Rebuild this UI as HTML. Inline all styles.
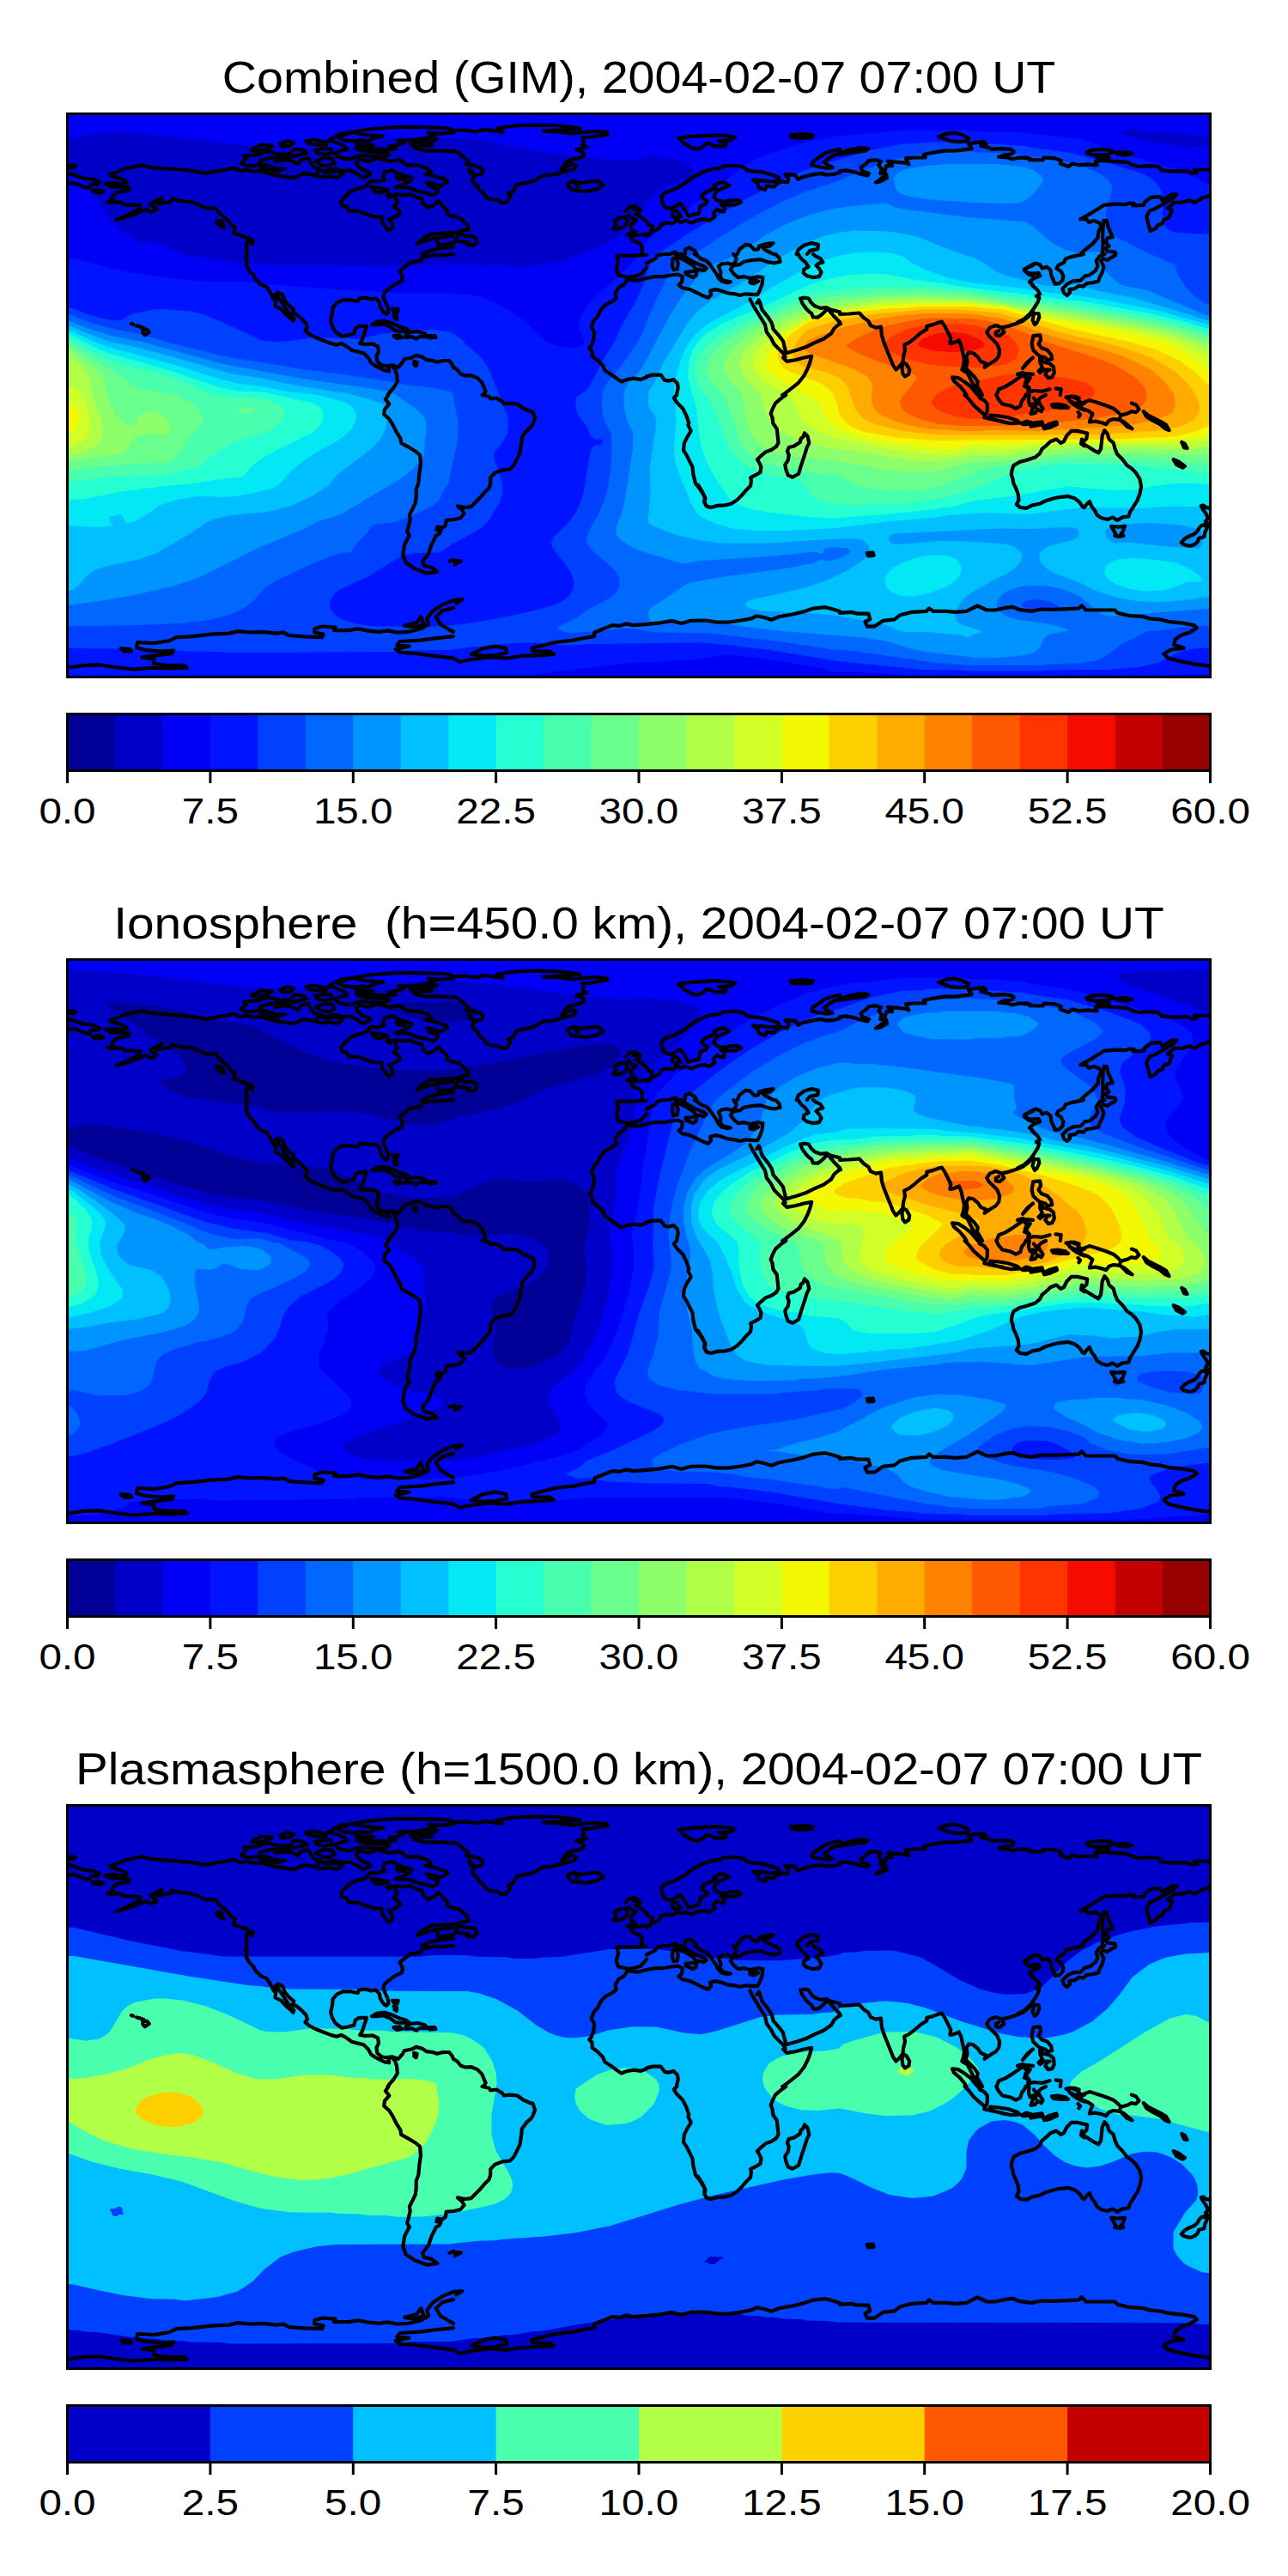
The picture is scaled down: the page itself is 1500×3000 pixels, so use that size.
<!DOCTYPE html>
<html><head><meta charset="utf-8"><title>TEC maps</title><style>html,body{margin:0;padding:0;background:#fff}svg{display:block}text{font-family:"Liberation Sans",sans-serif;fill:#000}</style></head>
<body>
<svg width="1500" height="3000" viewBox="0 0 1500 3000">
<rect width="1500" height="3000" fill="#fff"/>
<g transform="translate(0,0)">
<text x="258.8" y="107.5" font-size="50.9" textLength="970.5" lengthAdjust="spacingAndGlyphs">Combined (GIM), 2004-02-07 07:00 UT</text>
<svg x="78.5" y="132.5" width="1331.0" height="656.0" viewBox="78.5 132.5 1331.0 656.0" overflow="hidden">
<rect x="76.5" y="130.5" width="1335.0" height="660.0" fill="#000096"/>
<path fill="#0000c8" fill-rule="evenodd" d="M74.5,128.5 1414.5,128.5 1414.5,792.5 74.5,792.5Z"/>
<path fill="#0000f6" fill-rule="evenodd" d="M74.5,128.5 1414.5,128.5 1414.5,792.5 74.5,792.5 74.5,199.2 80.5,199.4 86.5,201.5 98.0,210.5 108.9,224.5 126.9,254.5 134.5,262.9 144.0,270.5 162.5,281.9 168.5,283.2 176.3,280.5 178.5,280.7 214.5,296.8 228.5,298.0 261.0,304.5 312.5,308.8 486.5,309.6 504.5,307.9 540.5,307.6 554.5,309.1 588.5,308.8 600.5,310.2 622.5,309.2 630.5,307.3 651.5,304.5 682.3,294.5 706.5,283.6 720.5,274.6 732.5,263.8 742.5,252.5 758.5,230.4 764.5,224.0 776.5,216.9 802.5,208.0 806.3,204.5 808.0,198.5 804.8,192.5 798.5,188.8 782.5,185.0 764.5,182.4 756.5,182.8 738.5,187.4 710.5,186.1 638.5,177.7 608.5,172.9 562.5,163.8 534.5,160.6 458.5,161.1 438.5,163.7 412.5,169.6 386.5,172.9 376.5,173.3 288.5,169.5 172.5,156.2 132.5,153.7 110.5,155.2 84.5,161.4 74.5,162.0ZM1318.5,150.5 1308.9,152.5 1308.2,154.5 1310.1,156.5 1316.5,159.6 1324.5,160.6 1328.5,162.7 1344.5,166.3 1378.5,170.4 1396.5,171.1 1404.5,169.7 1409.2,166.5 1410.4,164.5 1407.1,160.5 1400.5,157.7 1372.5,155.2 1340.5,153.7 1328.5,154.2 1326.5,153.6 1324.0,150.5Z"/>
<path fill="#0014ff" fill-rule="evenodd" d="M1043.2,152.5 1052.5,151.8 1118.5,151.8 1136.5,153.1 1164.5,153.3 1192.5,154.6 1254.5,161.6 1268.5,165.0 1298.5,176.2 1370.5,197.5 1402.5,212.3 1408.5,213.7 1414.5,213.9 1414.5,784.3 1368.5,785.4 1361.9,788.5 1361.9,792.5 1358.1,792.5 1358.1,788.5 1356.5,787.4 1350.5,786.3 1346.2,786.5 1341.2,788.5 1341.2,792.5 1055.5,792.5 1055.5,788.5 1053.9,786.5 1050.5,785.4 990.5,782.6 972.5,782.9 962.5,779.4 952.5,777.3 906.5,769.5 860.5,763.6 842.5,763.1 810.5,768.1 730.5,772.6 643.8,782.5 629.6,784.5 622.4,786.5 620.4,788.5 620.4,792.5 74.5,792.5 74.5,300.5 88.5,301.4 134.5,313.7 154.5,318.0 212.5,325.8 238.5,327.4 282.5,327.7 350.5,334.3 462.5,341.0 530.5,341.9 546.5,343.1 558.5,345.5 567.5,348.5 578.5,353.1 592.0,360.5 611.9,374.5 629.4,392.5 641.5,400.5 658.5,405.0 672.5,404.5 678.5,402.5 680.6,400.5 680.2,396.5 674.1,382.5 674.7,372.5 679.4,362.5 688.7,350.5 733.8,308.5 742.5,298.0 750.3,284.5 759.6,274.5 784.5,255.0 824.3,226.5 864.5,194.8 878.5,186.5 894.5,179.3 916.5,171.9 942.7,164.5 976.5,158.4Z"/>
<path fill="#0040ff" fill-rule="evenodd" d="M1077.1,166.5 1084.5,165.6 1122.5,165.6 1134.5,167.2 1160.5,167.4 1172.5,169.1 1192.5,169.7 1206.5,172.7 1244.5,177.6 1292.5,190.2 1324.5,200.2 1332.5,203.3 1341.2,208.5 1346.1,212.5 1350.4,218.5 1352.8,224.5 1353.9,230.5 1353.9,248.5 1354.8,256.5 1356.8,262.5 1359.5,266.5 1364.5,269.6 1368.5,270.8 1414.5,273.1 1414.5,754.4 1394.5,755.1 1380.5,757.3 1370.5,760.6 1350.5,771.6 1326.5,777.1 1290.5,780.0 1228.5,780.2 1206.5,781.5 1130.5,781.4 1116.5,780.2 1072.5,779.9 972.5,769.6 896.5,757.0 848.5,751.2 816.5,748.3 690.5,750.0 660.5,751.5 624.5,748.6 606.5,748.7 588.5,749.7 564.5,752.9 550.5,753.3 524.5,756.9 476.5,757.3 462.5,759.0 268.5,760.3 256.5,758.9 220.5,758.7 210.5,757.4 190.5,757.3 160.5,755.4 74.5,755.0 74.5,357.5 82.5,358.3 103.8,366.5 118.0,370.5 128.5,372.8 136.5,373.3 142.1,372.5 148.5,368.3 156.5,364.8 180.5,360.6 192.5,360.1 222.5,362.5 237.1,366.5 258.5,374.9 304.5,396.5 322.5,398.2 336.5,397.3 366.5,392.8 376.5,393.8 404.5,393.7 412.5,394.9 420.5,394.7 446.5,388.2 492.5,384.5 506.5,384.3 516.5,385.3 526.5,387.8 532.5,390.9 538.5,396.1 542.5,401.1 558.5,414.5 564.9,422.5 570.7,432.5 591.0,484.5 592.2,496.5 590.2,506.5 585.9,514.5 577.0,524.5 574.9,528.5 576.1,536.5 583.3,556.5 585.1,564.5 585.0,574.5 582.2,584.5 568.5,606.9 562.5,613.0 554.5,618.8 526.5,633.4 512.5,643.2 480.5,644.5 470.9,646.5 464.5,649.2 430.7,670.5 394.5,687.2 390.4,690.5 386.0,696.5 384.2,702.5 384.5,706.5 385.8,710.5 388.5,714.5 393.1,718.5 398.5,721.5 412.5,726.0 424.5,728.3 436.5,729.3 494.5,730.0 526.5,728.3 558.5,723.9 594.5,717.3 626.5,710.1 648.5,703.3 654.5,700.4 660.5,696.0 664.5,691.5 667.1,686.5 668.4,678.5 666.7,670.5 660.5,660.1 643.8,638.5 642.0,634.5 642.2,630.5 644.5,626.1 664.5,605.7 670.5,597.1 676.2,584.5 679.5,574.5 686.2,532.5 688.3,524.5 690.5,520.4 692.5,518.6 700.5,517.7 702.4,514.5 700.5,511.6 692.5,511.5 690.5,510.4 687.3,506.5 682.5,494.8 675.3,486.5 671.4,478.5 670.3,472.5 670.9,464.5 672.5,461.6 682.5,454.5 686.5,449.7 704.5,415.5 716.5,396.4 723.1,380.5 738.5,354.5 745.5,340.5 751.6,324.5 758.4,302.5 760.5,299.4 796.5,275.2 866.5,232.9 900.5,214.9 932.1,200.5 952.5,193.1 1012.5,175.2 1050.5,167.7Z"/>
<path fill="#0068ff" fill-rule="evenodd" d="M1119.7,176.5 1128.5,176.0 1138.5,177.5 1162.5,177.8 1172.5,179.3 1184.5,179.7 1236.5,187.5 1256.5,191.9 1280.5,201.8 1291.6,210.5 1295.0,216.5 1294.9,222.5 1289.1,240.5 1287.7,250.5 1290.4,262.5 1296.4,272.5 1303.5,278.5 1313.3,282.5 1332.4,292.5 1368.5,308.4 1369.5,314.5 1373.2,322.5 1381.3,334.5 1388.3,342.5 1395.5,348.5 1402.5,352.4 1408.5,354.3 1414.5,354.5 1414.5,729.1 1384.5,729.6 1348.8,734.5 1336.5,735.2 1305.7,750.5 1286.8,764.5 1276.5,769.2 1256.5,772.8 1224.5,773.1 1214.5,774.7 1206.5,774.9 1132.5,774.9 1086.5,771.4 996.5,758.5 968.5,756.3 898.5,745.9 824.5,737.3 764.5,736.4 738.5,732.4 724.5,731.8 692.5,736.2 682.5,735.7 666.5,737.3 658.5,736.3 650.5,733.5 649.7,732.5 650.0,730.5 652.5,728.6 670.5,720.3 680.8,712.5 710.5,696.1 717.0,690.5 721.4,682.5 721.6,674.5 718.0,666.5 712.5,660.4 691.0,642.5 686.0,636.5 682.9,630.5 682.8,628.5 685.9,618.5 697.3,598.5 703.8,582.5 707.8,568.5 710.9,548.5 712.2,530.5 712.3,510.5 711.6,504.5 705.2,492.5 702.0,482.5 700.7,470.5 701.6,458.5 703.5,452.5 708.2,444.5 729.1,418.5 742.5,398.6 748.9,386.5 753.7,372.5 774.1,328.5 781.7,314.5 788.5,305.3 792.3,302.5 808.5,295.7 834.5,278.4 880.5,250.7 904.5,237.9 934.5,224.3 976.5,210.4 1000.5,199.9 1028.5,189.6 1058.5,181.6 1088.5,177.6ZM1202.5,698.4 1194.5,699.8 1190.3,702.5 1190.0,704.5 1191.6,706.5 1199.2,710.5 1206.5,711.4 1224.5,711.3 1230.1,710.5 1233.9,708.5 1233.1,706.5 1230.7,704.5 1222.2,700.5 1213.3,698.5ZM74.5,368.5 74.5,366.5 82.5,367.1 100.5,374.1 126.5,382.0 160.5,388.6 204.5,401.1 266.5,415.9 352.5,430.1 412.5,437.8 477.3,448.5 504.5,451.7 524.5,456.0 528.1,458.5 528.5,460.0 528.3,466.5 533.1,488.5 534.0,502.5 532.2,518.5 525.7,544.5 522.9,562.5 518.1,568.5 511.4,582.5 504.5,588.5 490.5,595.5 460.5,608.1 434.5,611.0 428.5,619.2 416.1,632.5 408.5,643.2 396.5,644.6 388.5,646.5 370.5,653.7 326.5,673.4 308.7,684.5 296.1,698.5 288.5,705.2 280.0,710.5 268.5,715.5 244.5,721.8 212.5,725.9 154.5,728.3 74.5,729.4Z"/>
<path fill="#0094ff" fill-rule="evenodd" d="M1087.9,192.5 1102.5,190.8 1152.5,190.7 1180.5,192.8 1194.5,195.1 1203.5,198.5 1212.5,203.9 1214.9,208.5 1212.5,214.9 1202.5,226.8 1194.5,233.2 1184.5,236.7 1174.5,237.3 1130.5,235.8 1082.5,232.6 1062.5,229.5 1048.5,225.6 1043.5,220.5 1040.6,208.5 1042.0,204.5 1043.9,202.5 1052.5,197.5 1078.5,192.9ZM1007.8,238.5 1030.5,236.7 1034.5,237.7 1042.5,241.7 1058.5,244.3 1124.5,252.7 1194.5,258.5 1202.5,262.9 1222.5,281.1 1238.5,290.0 1254.5,294.4 1276.5,292.6 1280.5,294.1 1282.7,298.5 1284.3,308.5 1287.1,314.5 1293.6,322.5 1304.5,331.3 1312.5,333.8 1336.5,338.3 1403.4,366.5 1408.5,367.9 1414.5,367.8 1414.5,708.5 1302.5,717.1 1290.5,717.2 1284.5,715.8 1280.5,713.7 1257.7,694.5 1240.5,687.1 1228.5,684.0 1216.5,682.1 1196.5,682.0 1186.5,683.5 1172.9,688.5 1167.2,692.5 1163.6,696.5 1161.4,700.5 1160.7,706.5 1162.2,710.5 1164.5,713.1 1172.5,717.9 1182.5,721.0 1220.5,726.5 1236.5,730.7 1244.6,734.5 1226.5,737.8 1219.2,740.5 1216.5,743.1 1210.8,754.5 1206.5,758.5 1202.5,760.6 1192.5,763.3 1162.5,766.1 1136.5,766.0 1078.5,759.2 1060.5,755.4 1032.5,746.8 1004.8,742.5 910.5,734.9 868.5,730.0 832.5,724.3 768.5,724.9 759.5,724.5 756.7,722.5 755.0,716.5 754.9,712.5 758.5,707.2 781.7,692.5 796.5,682.0 802.5,678.9 838.5,672.2 918.5,661.5 948.5,655.3 956.5,650.9 962.5,653.6 970.5,652.6 982.3,648.5 988.7,644.5 990.1,642.5 990.0,640.5 986.8,638.5 968.5,637.2 960.5,639.5 956.5,645.6 950.5,643.1 942.5,642.9 890.5,648.5 814.5,653.0 798.5,656.2 794.5,656.2 752.5,643.8 738.5,638.5 731.2,634.5 723.0,628.5 719.0,624.5 717.5,620.5 718.3,612.5 724.4,596.5 727.0,586.5 737.1,522.5 737.2,502.5 731.1,492.5 727.2,476.5 726.2,462.5 727.4,454.5 732.2,444.5 742.5,435.3 748.5,426.8 779.5,368.5 798.7,338.5 810.5,324.5 824.2,310.5 830.5,307.4 842.5,303.6 856.5,296.8 892.5,273.4 912.5,262.6 934.5,253.2 956.5,246.3 976.5,242.1ZM74.5,374.5 74.5,373.7 82.5,374.4 108.5,384.4 130.5,391.3 164.5,397.7 262.5,424.4 352.5,440.9 422.5,450.9 450.5,455.7 458.5,457.9 486.5,477.6 491.3,482.5 495.1,488.5 496.5,493.2 496.7,502.5 494.5,516.5 493.6,530.5 488.1,538.5 480.8,546.5 468.5,556.5 398.5,598.0 386.5,602.8 370.5,607.0 352.5,616.5 302.5,637.2 230.5,673.1 200.5,683.1 158.5,692.5 124.5,698.7 84.5,704.2 74.5,704.7Z"/>
<path fill="#00c0ff" fill-rule="evenodd" d="M995.9,268.5 1032.5,269.2 1060.5,273.6 1072.5,277.3 1096.5,287.2 1136.5,301.3 1146.5,306.4 1160.6,316.5 1172.5,321.0 1216.6,332.5 1224.5,332.8 1242.5,330.7 1254.5,332.0 1282.5,339.4 1318.5,346.4 1368.5,361.0 1403.3,372.5 1414.5,373.9 1414.5,695.0 1404.5,695.3 1382.5,698.5 1360.5,700.4 1344.5,701.0 1324.5,700.1 1300.5,695.8 1282.5,690.3 1274.5,687.2 1258.5,679.0 1226.2,666.5 1219.3,662.5 1213.2,656.5 1210.2,650.5 1211.0,644.5 1216.5,638.6 1222.5,635.4 1246.5,629.6 1253.9,626.5 1256.6,622.5 1256.1,618.5 1254.5,616.3 1250.5,614.5 1240.5,613.8 1202.5,616.0 1162.5,615.5 1042.5,621.4 1038.3,622.5 1035.1,626.5 1035.7,630.5 1040.5,633.5 1050.5,633.7 1094.5,630.1 1124.5,630.6 1166.5,633.1 1175.3,634.5 1182.5,637.3 1188.5,642.5 1190.4,646.5 1190.2,650.5 1188.4,654.5 1181.1,662.5 1172.5,668.1 1154.5,677.0 1130.4,690.5 1121.0,698.5 1115.4,706.5 1112.6,716.5 1113.0,720.5 1115.2,724.5 1120.5,727.8 1142.1,734.5 1142.7,736.5 1132.5,739.3 1126.5,743.0 1120.5,739.8 1116.5,739.2 1082.5,736.3 1052.5,735.8 1046.4,734.5 1036.5,729.7 1028.5,727.0 974.5,717.3 962.5,715.6 928.5,713.2 886.5,711.4 873.4,708.5 869.5,706.5 868.1,704.5 868.4,702.5 870.3,700.5 874.5,698.4 914.5,690.1 938.5,684.1 964.5,674.9 984.5,665.6 1002.1,654.5 1008.5,648.6 1011.4,644.5 1012.8,640.5 1012.4,636.5 1009.7,632.5 1004.5,629.3 998.5,627.6 988.5,627.2 964.5,628.0 894.5,632.7 838.5,632.5 814.5,629.2 793.4,624.5 775.1,618.5 756.5,610.2 754.7,606.5 757.6,574.5 756.6,544.5 763.4,500.5 764.1,490.5 762.5,483.1 758.0,478.5 755.9,474.5 754.6,466.5 755.2,458.5 756.5,454.0 760.5,448.4 772.7,422.5 800.5,376.4 812.5,362.5 826.5,351.1 868.5,326.2 904.5,302.2 921.0,292.5 942.5,281.4 958.5,275.2 976.5,270.8ZM1308.5,610.2 1292.5,613.9 1288.5,616.5 1287.4,618.5 1287.7,622.5 1289.7,626.5 1293.8,630.5 1298.5,632.5 1314.5,631.4 1358.5,636.4 1392.5,638.8 1395.6,638.5 1398.2,636.5 1400.9,630.5 1401.0,624.5 1398.5,617.8 1396.9,616.5 1382.5,612.8 1365.3,610.5 1336.5,608.9ZM74.5,380.5 74.5,379.4 82.5,380.1 96.8,386.5 128.5,398.1 154.5,403.4 184.5,411.1 268.5,434.9 306.5,440.8 333.0,446.5 390.5,456.3 402.5,457.6 430.5,465.0 445.2,470.5 448.8,472.5 450.4,474.5 450.6,490.5 448.6,500.5 442.5,512.1 432.5,522.9 395.8,550.5 389.7,556.5 382.0,566.5 360.5,579.3 338.5,588.9 318.5,594.6 306.5,597.0 288.5,597.9 264.5,600.9 248.5,604.8 241.0,608.5 218.5,623.2 181.4,644.5 160.5,652.1 126.5,658.7 113.5,662.5 102.5,669.2 92.8,680.5 86.5,685.8 80.5,688.0 74.5,687.9Z"/>
<path fill="#02e8f4" fill-rule="evenodd" d="M995.8,294.5 1018.5,293.2 1040.5,295.3 1052.5,299.3 1062.5,306.5 1080.5,315.0 1107.1,324.5 1130.5,329.2 1190.5,335.8 1214.5,340.1 1254.5,344.2 1290.5,349.9 1348.5,361.4 1406.5,378.1 1414.5,378.7 1414.5,590.4 1360.5,589.7 1326.5,592.1 1262.5,590.8 1200.5,598.4 1184.5,598.6 1152.5,597.2 1136.5,597.7 1106.5,599.7 1084.5,603.1 1032.5,607.6 972.5,615.0 918.5,617.9 880.5,617.9 856.5,615.9 835.1,610.5 821.4,604.5 814.8,600.5 810.8,596.5 805.1,586.5 792.5,556.4 787.7,542.5 785.2,528.5 785.2,514.5 787.7,488.5 784.9,456.5 785.2,448.5 792.9,418.5 800.1,402.5 810.7,388.5 820.5,379.9 830.5,373.6 872.5,352.0 898.5,335.0 945.8,308.5 968.5,300.1 980.5,296.9ZM74.5,386.5 74.5,384.6 82.5,385.4 114.5,400.1 126.5,404.3 208.5,426.3 240.5,436.8 264.5,443.6 274.5,445.9 308.5,450.7 336.5,456.3 360.5,458.4 376.5,461.5 398.5,467.8 406.5,471.1 412.5,476.5 414.6,482.5 414.1,490.5 410.2,498.5 402.5,506.7 392.5,513.4 365.6,528.5 353.6,536.5 338.5,548.9 325.0,564.5 318.5,568.3 294.3,574.5 274.5,578.1 258.5,578.9 230.5,577.7 204.1,582.5 186.5,588.2 164.5,603.3 156.5,607.1 146.5,610.2 146.4,608.5 144.3,606.5 144.1,602.5 140.5,599.2 136.5,599.2 134.5,601.1 128.5,601.2 127.1,602.5 127.0,604.5 128.9,606.5 128.8,608.5 132.5,612.5 133.7,612.5 112.5,613.8 74.5,612.3ZM1084.5,646.5 1092.5,646.2 1104.5,647.5 1112.1,650.5 1116.5,654.5 1119.4,660.5 1119.3,666.5 1116.2,672.5 1109.7,678.5 1100.5,683.9 1086.5,689.3 1074.5,692.7 1062.5,694.4 1052.5,694.3 1044.5,692.6 1038.5,689.6 1033.0,684.5 1030.4,678.5 1030.8,672.5 1034.5,666.6 1040.5,661.3 1048.5,656.5 1062.5,650.9 1072.5,648.1ZM1311.6,650.5 1322.5,649.9 1334.5,650.7 1368.5,655.0 1381.6,660.5 1391.9,666.5 1398.5,672.0 1399.9,676.5 1396.5,677.4 1382.5,677.6 1362.5,685.8 1352.5,687.8 1332.5,688.6 1312.5,685.2 1300.5,680.8 1292.8,676.5 1288.6,672.5 1286.0,666.5 1287.1,660.5 1292.5,654.9 1300.5,651.8Z"/>
<path fill="#26ffd1" fill-rule="evenodd" d="M986.4,320.5 1010.5,318.7 1032.5,319.5 1068.5,326.2 1094.5,329.4 1124.5,334.5 1264.5,351.4 1338.5,364.7 1382.5,375.2 1406.5,382.8 1414.5,383.5 1414.5,564.8 1390.5,563.1 1368.5,562.9 1344.5,566.1 1324.5,570.1 1298.5,571.2 1244.5,566.6 1184.5,577.1 1138.5,582.9 1124.5,585.7 1114.5,588.9 1084.5,593.6 1034.5,598.8 974.5,603.5 945.7,602.5 894.5,596.5 872.5,592.4 856.5,586.1 848.5,579.4 832.5,556.0 823.4,538.5 816.8,520.5 814.1,506.5 811.1,476.5 808.8,466.5 805.1,456.5 801.1,438.5 802.4,420.5 806.5,408.0 810.5,401.5 822.5,388.1 840.5,377.3 898.0,352.5 942.5,331.7 962.5,325.6ZM74.5,390.5 74.5,389.2 82.5,390.0 116.5,407.6 132.5,412.9 200.5,432.2 254.5,450.7 276.5,455.5 306.5,456.5 364.5,469.4 371.1,472.5 374.8,476.5 376.7,482.5 375.5,490.5 370.1,498.5 362.5,504.5 321.6,524.5 300.8,536.5 292.5,543.5 284.5,553.5 280.5,555.6 252.5,558.5 220.5,563.8 196.5,565.4 141.7,572.5 96.5,581.6 74.5,582.4Z"/>
<path fill="#49ffad" fill-rule="evenodd" d="M1020.8,334.5 1070.5,334.2 1088.5,334.9 1098.5,336.8 1128.5,338.8 1168.5,344.7 1178.5,345.3 1254.5,355.4 1334.5,368.6 1380.5,379.1 1408.5,388.1 1414.5,388.3 1414.5,549.4 1392.5,550.1 1376.5,547.2 1360.5,546.6 1324.5,542.0 1304.5,540.9 1286.5,541.6 1230.5,540.4 1204.5,544.1 1185.4,548.5 1148.5,564.0 1118.5,574.9 1096.5,580.1 1054.5,586.1 986.5,588.4 966.5,586.5 954.5,583.0 948.5,580.2 944.5,577.2 940.8,572.5 937.1,564.5 934.5,562.2 924.5,559.0 890.5,551.9 872.5,544.9 860.5,536.2 849.8,522.5 844.1,510.5 832.0,476.5 826.1,466.5 816.5,453.4 811.8,444.5 809.4,434.5 810.1,424.5 811.3,418.5 815.8,410.5 825.1,400.5 838.5,390.5 846.5,385.8 870.5,373.7 910.5,355.6 938.5,344.4 952.5,341.0 968.5,338.7 998.5,335.5ZM74.5,394.5 82.5,395.2 106.5,409.6 136.5,422.9 150.5,427.3 178.5,432.7 198.9,438.5 218.5,446.2 232.5,453.3 248.5,459.8 272.5,463.0 284.5,462.2 298.5,463.5 306.5,464.8 317.6,468.5 324.5,471.3 329.3,474.5 331.4,480.5 330.2,486.5 326.5,492.5 318.5,499.1 308.5,503.7 284.0,510.5 269.6,516.5 248.5,529.3 232.5,543.0 229.4,544.5 190.5,553.5 130.5,554.7 98.5,559.1 74.5,561.2Z"/>
<path fill="#6aff8d" fill-rule="evenodd" d="M1039.2,340.5 1074.5,339.7 1132.5,342.9 1166.5,348.5 1222.5,355.5 1322.5,371.1 1368.5,380.7 1406.5,392.1 1414.5,392.8 1414.5,537.9 1388.5,539.4 1360.5,536.7 1336.5,535.9 1328.5,534.5 1296.5,534.7 1280.5,533.2 1248.5,533.0 1228.5,534.5 1192.5,540.0 1162.5,543.1 1144.5,546.8 1134.5,549.7 1105.4,562.5 1090.5,567.4 1072.5,570.0 1046.5,570.7 1014.5,569.5 998.5,566.4 994.5,565.1 984.5,557.9 976.5,554.2 942.5,550.5 928.5,546.4 904.5,542.8 884.5,536.8 871.2,528.5 862.7,516.5 846.2,466.5 841.1,458.5 830.5,447.8 825.6,440.5 823.2,432.5 823.3,426.5 826.2,418.5 831.0,410.5 844.5,398.2 868.9,382.5 906.5,364.7 940.5,351.2 972.5,345.0 994.5,344.2 1022.5,340.9ZM74.5,400.5 80.5,400.3 84.5,402.2 98.5,411.8 146.5,441.5 154.5,448.4 158.5,450.6 168.5,453.5 200.5,459.1 220.5,467.4 227.2,472.5 233.6,480.5 236.7,486.5 236.1,492.5 222.5,505.8 212.2,522.5 204.6,532.5 200.5,536.5 196.5,538.7 164.5,539.3 100.5,544.8 84.5,547.8 74.5,548.2ZM287.8,474.5 290.5,474.5 296.2,476.5 296.9,478.5 294.5,480.6 290.5,481.6 284.5,481.6 279.9,480.5 276.4,478.5 276.5,476.4Z"/>
<path fill="#8dff6a" fill-rule="evenodd" d="M1049.1,344.5 1074.5,344.3 1134.5,346.5 1180.5,354.0 1252.5,364.1 1326.5,376.4 1365.7,384.5 1406.5,397.4 1414.5,398.1 1414.5,528.4 1384.5,530.6 1332.5,527.8 1298.5,528.4 1262.5,526.7 1242.5,527.7 1178.5,535.8 1128.5,538.9 1096.5,547.7 1082.5,549.4 1062.5,549.8 1026.5,546.8 984.5,538.4 916.5,530.0 902.5,527.1 892.5,523.3 883.0,516.5 874.5,505.1 869.2,490.5 864.0,460.5 860.5,455.2 848.7,442.5 843.5,432.5 842.5,426.5 843.7,420.5 854.4,404.5 872.1,390.5 890.5,379.6 916.5,367.3 940.5,358.4 964.5,352.9 982.5,350.3 1022.5,345.7ZM74.5,406.5 80.5,406.6 87.6,410.5 108.3,426.5 118.0,436.5 121.1,442.5 125.6,462.5 129.5,472.5 134.5,482.5 142.5,491.6 148.5,495.5 154.5,496.0 157.8,492.5 159.6,486.5 164.5,482.5 172.5,479.9 181.5,480.5 190.5,484.4 196.3,490.5 198.3,498.5 196.5,503.6 192.5,506.5 170.5,505.7 160.5,506.6 156.5,509.8 147.1,524.5 144.5,527.0 141.2,528.5 94.5,536.0 74.5,537.6Z"/>
<path fill="#b1ff46" fill-rule="evenodd" d="M1057.1,348.5 1070.5,348.0 1128.5,349.3 1170.5,354.7 1190.5,359.0 1262.5,369.8 1332.5,381.8 1362.5,388.4 1404.5,403.0 1414.5,404.2 1414.5,519.7 1406.5,519.9 1396.5,522.2 1384.5,523.1 1252.5,520.6 1212.5,524.7 1174.5,530.2 1128.5,530.7 1116.5,534.8 1082.5,537.6 1064.5,536.3 994.5,525.3 966.5,522.0 942.9,516.5 920.6,508.5 907.0,500.5 896.6,490.5 890.2,478.5 886.7,460.5 870.8,444.5 864.0,434.5 861.3,426.5 861.4,420.5 863.9,414.5 869.5,406.5 878.5,396.8 892.5,386.4 918.5,373.8 940.5,365.4 982.5,355.4 1026.5,349.7ZM74.5,416.5 74.5,415.8 80.5,415.9 86.5,418.7 95.0,426.5 101.9,436.5 105.3,446.5 108.3,462.5 117.1,484.5 119.7,500.5 118.8,510.5 116.5,514.8 112.5,519.2 96.5,526.1 82.5,528.9 74.5,529.0Z"/>
<path fill="#d1ff26" fill-rule="evenodd" d="M1057.1,352.5 1072.5,351.5 1126.5,352.0 1170.5,356.4 1204.1,364.5 1314.5,382.7 1356.5,392.1 1386.5,402.9 1406.5,413.0 1414.5,413.8 1414.5,512.5 1406.5,512.8 1394.5,516.0 1388.5,516.6 1318.5,517.2 1246.5,516.5 1210.5,518.8 1172.5,524.2 1140.5,524.4 1128.5,523.4 1124.5,524.2 1118.5,527.3 1108.5,529.6 1086.5,529.5 1036.5,523.1 1004.5,517.2 970.5,509.6 956.8,504.5 942.9,496.5 936.5,491.4 932.5,485.2 926.0,470.5 919.8,462.5 911.1,456.5 890.5,445.0 882.8,436.5 878.8,430.5 876.7,422.5 877.7,416.5 881.8,408.5 886.9,402.5 901.9,390.5 940.5,369.7 980.5,360.2 1000.5,357.0 1030.5,353.3ZM74.5,452.5 74.5,450.6 86.5,450.8 88.5,451.0 90.5,453.0 101.8,474.5 104.2,490.5 103.9,500.5 101.5,508.5 99.2,512.5 88.5,517.8 80.5,520.0 74.5,520.1Z"/>
<path fill="#f4f802" fill-rule="evenodd" d="M1063.8,354.5 1128.5,354.5 1168.5,357.8 1224.5,371.8 1296.5,384.2 1327.6,390.5 1363.6,400.5 1384.5,412.5 1402.5,427.6 1408.5,430.2 1414.5,430.4 1414.5,505.0 1408.5,505.2 1392.5,509.5 1358.5,513.0 1316.5,514.3 1218.5,514.8 1194.5,515.9 1168.5,518.4 1128.5,517.7 1124.5,518.4 1116.5,522.4 1108.5,523.1 1088.5,522.3 1040.5,516.0 1006.5,509.7 986.5,503.1 976.4,498.5 967.9,492.5 961.2,484.5 956.5,472.4 951.7,466.5 930.5,453.6 908.5,443.5 894.5,432.8 892.4,428.5 891.4,422.5 893.1,414.5 903.5,400.5 918.5,386.4 942.5,371.5 968.5,365.3 992.5,360.9 1030.5,356.3 1054.5,355.7ZM74.5,470.5 78.5,470.0 84.5,471.5 88.5,474.0 90.3,476.5 91.2,482.5 90.6,492.5 88.5,498.7 86.5,501.8 84.5,502.9 78.5,500.6 74.5,500.6Z"/>
<path fill="#ffd000" fill-rule="evenodd" d="M1057.7,358.5 1068.5,357.0 1126.5,357.0 1168.5,360.2 1244.5,382.2 1318.5,398.8 1346.5,407.3 1374.5,420.6 1390.5,432.3 1406.5,447.2 1409.3,448.5 1414.5,448.7 1414.5,495.2 1408.5,495.5 1390.5,503.1 1372.5,507.2 1358.5,509.1 1324.5,509.9 1312.5,511.3 1090.5,513.0 1046.5,510.0 1004.3,502.5 990.9,496.5 982.5,489.5 977.7,482.5 974.2,468.5 969.8,458.5 964.8,452.5 954.5,445.7 918.5,432.2 912.5,428.6 908.5,422.5 906.0,416.5 906.6,408.5 909.5,402.5 921.9,388.5 933.0,380.5 943.4,374.5 968.5,368.4 994.5,363.7 1032.5,359.4Z"/>
<path fill="#ffab00" fill-rule="evenodd" d="M1053.9,362.5 1070.5,360.5 1118.5,360.5 1164.5,364.7 1194.5,373.2 1230.5,385.8 1254.5,392.0 1280.5,397.4 1310.5,405.4 1340.5,416.6 1362.5,428.5 1370.5,434.5 1384.5,448.1 1390.5,456.6 1395.8,466.5 1397.2,474.5 1397.0,478.5 1390.9,488.5 1379.4,494.5 1370.5,497.6 1346.5,501.9 1328.5,502.6 1318.5,504.1 1292.5,504.7 1282.5,506.2 1092.5,506.4 1052.5,502.1 1022.5,495.4 1007.1,488.5 1000.5,482.7 995.9,476.5 987.3,450.5 980.0,442.5 974.5,438.7 960.5,432.9 938.5,427.4 930.5,423.9 926.7,420.5 924.4,416.5 923.1,412.5 923.5,408.5 925.5,402.5 931.9,392.5 938.5,385.8 944.5,382.8 968.5,375.3 998.5,369.0 1024.5,364.9Z"/>
<path fill="#ff8200" fill-rule="evenodd" d="M1062.5,366.5 1074.5,364.9 1116.5,364.9 1138.5,366.7 1168.5,371.2 1226.5,392.1 1278.5,405.2 1308.5,415.1 1336.5,428.0 1343.0,432.5 1356.5,444.4 1366.6,458.5 1369.0,468.5 1368.5,473.9 1364.8,480.5 1362.1,482.5 1344.5,489.5 1322.5,493.7 1304.5,495.9 1292.5,496.5 1282.5,498.1 1264.5,498.5 1254.5,500.0 1222.5,500.4 1210.5,501.9 1152.5,500.8 1138.5,502.1 1120.5,502.1 1110.5,500.8 1090.5,500.3 1070.5,498.0 1044.5,491.3 1028.4,484.5 1022.6,480.5 1018.5,476.2 1016.3,472.5 1015.5,468.5 1015.1,460.5 1016.0,452.5 1015.3,446.5 1010.2,438.5 992.5,429.0 942.5,411.5 937.0,406.5 936.4,402.5 941.4,396.5 944.9,394.5 978.5,382.0 1020.5,371.5 1048.5,367.3Z"/>
<path fill="#ff5900" fill-rule="evenodd" d="M1090.8,370.5 1132.5,371.2 1148.5,373.5 1166.5,377.4 1181.0,382.5 1220.5,399.1 1269.7,414.5 1296.9,424.5 1321.2,438.5 1331.1,448.5 1334.0,452.5 1335.9,460.5 1334.5,466.7 1330.5,472.3 1323.0,476.5 1318.6,478.5 1302.5,482.6 1272.5,487.7 1232.5,492.0 1220.5,492.5 1212.5,494.0 1190.5,494.5 1180.5,495.7 1120.5,496.1 1092.5,493.6 1072.1,488.5 1055.5,480.5 1051.3,476.5 1048.2,470.5 1048.5,466.5 1052.5,459.8 1066.9,442.5 1067.5,440.5 1065.1,436.5 1052.6,430.5 1026.5,422.4 1001.9,412.5 990.4,406.5 985.4,402.5 996.3,394.5 1004.6,390.5 1020.5,383.6 1034.5,379.1 1062.5,372.9 1078.5,370.8Z"/>
<path fill="#ff3400" fill-rule="evenodd" d="M1082.7,378.5 1092.5,377.0 1118.5,377.1 1136.5,379.3 1164.6,386.5 1173.8,390.5 1183.3,398.5 1186.6,406.5 1185.1,414.5 1182.5,418.5 1171.7,424.5 1138.5,428.3 1100.5,426.5 1082.5,424.5 1057.3,418.5 1042.9,412.5 1032.4,406.5 1029.2,402.5 1030.1,400.5 1037.9,392.5 1053.5,384.5 1062.5,381.6ZM1170.4,436.5 1214.7,436.5 1243.8,440.5 1266.6,446.5 1274.6,452.5 1274.9,458.5 1274.1,460.5 1263.7,468.5 1245.6,474.5 1238.5,475.2 1235.7,476.5 1224.5,477.2 1220.8,478.5 1186.5,482.9 1181.5,484.5 1164.5,487.0 1130.5,487.8 1112.5,485.0 1094.2,478.5 1090.5,476.5 1086.7,472.5 1084.6,468.5 1085.2,466.5 1091.7,458.5 1102.5,452.5 1110.5,449.3Z"/>
<path fill="#f60b00" fill-rule="evenodd" d="M1106.3,386.5 1124.2,388.5 1129.8,390.5 1142.7,396.5 1146.5,400.1 1146.4,402.5 1144.5,404.8 1132.5,408.5 1110.5,410.3 1087.2,408.5 1073.7,404.5 1069.7,402.5 1068.2,400.5 1074.3,394.5 1090.8,388.5Z"/>
<g fill="none" stroke="#000" stroke-width="4.2" stroke-linejoin="round" stroke-linecap="round">
<path d="M80.1,192.8 85.0,192.3 88.1,193.5 84.1,195.2 80.1,194.9M80.1,201.9 88.5,204.5 97.2,207.5 107.7,208.5 115.6,212.0 113.8,215.0 106.0,214.5 104.2,219.0 97.2,217.6 90.2,214.1 83.2,212.9 80.1,213.8M107.7,222.0 114.7,221.4 120.8,222.8 116.4,224.6 109.4,223.7 107.7,222.0M303.0,199.3 292.9,199.3 285.9,197.5 280.7,199.3 271.9,195.8 266.7,197.0 252.7,199.3 239.6,201.9 226.5,199.3 209.0,197.5 191.6,196.3 175.8,194.9 165.4,192.3 153.1,194.9 142.6,197.5 135.7,201.0 127.8,202.8 130.4,205.4 138.3,207.1 146.1,210.6 147.9,213.2 140.9,214.1 130.4,213.2 122.5,214.1 130.4,217.6 142.6,217.6 150.5,218.5 149.6,222.0 140.9,222.8 133.9,225.5 130.4,229.8 132.2,233.3 125.2,235.1 130.4,236.5 139.1,235.1 146.1,238.6 154.9,238.6 163.6,239.4 161.9,243.8 154.9,247.3 144.4,252.5 135.7,256.0 147.9,252.5 160.1,248.2 170.6,243.8 175.8,247.3 182.8,243.8 179.3,241.2 175.0,237.7 182.8,233.3 188.9,230.7 184.6,235.1 182.8,237.7 191.6,235.9 198.5,235.1 200.3,231.6 210.8,234.2 221.3,235.1 230.0,237.7 238.7,242.1 251.0,242.4 254.5,247.3 259.7,251.7 265.8,256.9 269.3,262.2 273.7,264.8 271.9,271.8 278.9,273.5 287.6,277.0 294.6,280.5 293.8,284.0 289.4,280.5 286.8,284.0 287.6,296.0M252.7,256.9 258.8,257.8 260.6,264.8 256.2,263.0 252.7,259.5 252.7,256.9M303.0,169.6 294.6,173.1 292.9,174.8 303.0,176.5M303.0,180.0 284.1,181.8 286.8,184.4 280.7,190.5 287.6,193.1 296.4,193.1 303.0,190.5M303.0,199.3 318.7,203.6 329.2,205.4 343.2,207.1 353.7,201.9 364.1,203.6 372.9,206.2 385.1,205.4 392.1,207.1 399.1,202.8 393.8,199.3 379.9,201.0 376.4,199.3 390.4,196.6 400.8,199.3 407.8,198.4 414.8,201.9 423.5,207.1 431.4,202.8 428.8,200.1 421.8,197.5 416.6,193.1 414.8,188.8 419.2,185.3 428.8,187.9 439.3,184.4 448.0,186.2 453.2,187.9 465.5,186.2 474.2,192.3 486.4,192.3 498.7,196.6 502.2,201.0 495.2,202.8 507.4,205.4 519.6,208.9 521.4,211.5 512.6,216.7 505.7,214.1 496.9,212.4 500.4,216.7 510.0,220.2 509.1,224.6 503.9,227.2 495.2,224.6 486.4,222.8 476.0,218.5 460.2,218.5 469.0,215.0 477.7,210.6 479.5,207.1 470.7,204.5 463.7,201.9 456.7,198.4 448.0,200.1 446.3,205.4 448.0,208.9 439.3,211.5 432.3,210.6 425.3,217.6 414.8,220.2 407.8,223.7 400.8,229.8 397.3,235.1 398.2,239.4 403.5,240.3 406.1,245.6 416.6,245.6 425.3,249.1 435.8,252.5 444.5,252.5 445.4,259.5 449.8,265.6 453.2,268.3 457.6,264.8 456.7,260.4 453.2,255.2 460.2,252.5 466.3,248.2 463.7,243.8 458.5,240.3 462.9,235.1 460.2,229.8 460.2,226.3 470.7,227.2 477.7,226.3 484.7,229.8 491.7,231.6 492.6,236.8 498.7,242.1 505.7,238.6 510.9,234.2 516.1,240.3 521.4,245.6 520.5,249.1 528.0,252.5M303.0,168.7 317.0,169.6 310.0,173.9 303.0,174.8M325.7,167.8 334.4,164.3 342.3,166.1 337.9,169.6 329.2,170.4 325.7,167.8M303.0,178.3 313.5,176.5 325.7,180.0 337.9,179.2 343.2,173.1 353.7,174.8 357.2,178.3 346.7,180.9 334.4,183.5 324.0,182.7 313.5,184.4 303.0,187.0M303.0,191.4 313.5,193.1 322.2,196.6 331.8,196.6 324.0,199.3 313.5,198.4 303.0,194.9M320.5,187.9 332.7,186.2 341.4,187.9 346.7,191.4 350.2,186.2 358.9,183.5 362.4,189.7 365.9,194.9 374.6,197.5 369.4,201.0M356.3,164.3 365.9,162.6 378.1,165.2 379.9,168.7 369.4,168.7 358.9,166.9 356.3,164.3M366.8,174.8 376.4,173.1 385.1,173.1 386.9,178.3 378.1,180.0 369.4,178.3 366.8,174.8M367.6,187.9 376.4,184.4 386.9,184.4 389.5,189.7 383.4,193.1 374.6,192.3 367.6,187.9M388.6,160.0 397.3,155.6 411.3,153.8 425.3,151.2 441.0,149.5 460.2,148.1 486.4,148.1 509.1,148.6 522.3,149.5 528.0,152.1M528.0,154.7 512.6,155.6 498.7,154.7 505.7,158.2 495.2,160.8 484.7,162.6 470.7,163.4 463.7,163.4 470.7,166.1 460.2,169.6 453.2,170.4 461.1,173.1 453.2,174.8 442.8,173.9 432.3,173.9 421.8,173.1 414.8,173.1 425.3,176.5 435.8,177.4 448.0,177.8 453.2,180.0 448.0,182.7 437.5,182.7 428.8,181.8 421.8,180.9 414.8,182.7 407.8,185.3 400.8,184.4 393.8,182.7 390.4,178.3 397.3,175.7 404.3,173.9 400.8,169.6 393.8,166.9 386.9,164.3 381.6,164.3 388.6,160.0M409.6,153.8 421.8,156.5 435.8,158.2 446.3,158.6 435.8,160.8 428.8,164.3 421.8,163.4 411.3,164.3 400.8,163.4 393.8,160.0 400.8,157.3 409.6,153.8M414.8,167.8 425.3,168.7 434.9,169.0 425.3,171.3 416.6,170.4 414.8,167.8M477.7,167.8 488.2,166.1 500.4,164.3 509.1,161.7 500.4,166.9 503.0,169.6 493.4,169.6 484.7,171.3 477.7,167.8M482.9,172.5 495.2,175.7 512.6,175.3 528.0,176.5M432.3,217.6 442.8,219.4 451.5,221.1 442.8,224.6 435.8,222.8 432.3,217.6M451.5,225.5 456.7,227.2 454.1,229.8 450.6,227.7 451.5,225.5M462.0,205.4 470.7,206.2 471.6,208.9 463.7,208.9 462.0,205.4M528.0,270.9 512.6,271.8 502.2,272.6 493.4,277.0 485.6,284.0 495.2,280.5 507.4,277.0 517.9,276.1 528.0,274.4M509.1,280.5 510.9,285.7 521.4,284.0 528.0,283.1M528.0,287.5 512.6,289.2 500.4,291.9 491.7,296.0M528.0,175.7 533.2,177.4 538.5,181.8 545.5,187.9 542.8,191.4 550.7,192.3 559.4,194.9 562.9,198.7 560.3,202.8 553.3,204.0 547.2,201.0 546.3,196.6 553.3,204.5 549.8,208.9 551.6,213.2 556.0,216.7 557.7,221.1 562.9,224.6 566.4,229.8 571.7,232.5 578.7,232.5 583.9,235.9 589.1,235.9 591.8,232.5 594.4,228.1 591.8,225.5 597.9,222.8 599.6,218.5 603.1,214.5 611.9,213.2 622.3,210.6 627.6,207.1 632.8,204.5 641.6,204.0 650.3,201.9 659.0,199.3 667.8,197.5 671.3,193.1 666.0,190.5 653.8,197.5 657.3,192.3 660.8,187.9 667.8,185.3 673.9,184.4 680.0,181.8 679.1,177.4 671.3,173.9 676.5,173.1 683.5,171.3 678.2,168.7 680.0,164.3 678.2,160.0 685.2,160.0 695.7,158.2 707.9,156.5 706.2,153.8 694.0,153.0 680.0,153.8 666.0,155.6 650.3,153.3 632.8,152.6 646.8,151.6 660.8,151.2 675.6,149.5 664.3,147.7 646.8,146.0 625.8,145.6 606.6,146.0 590.9,147.7 578.7,149.5 585.7,153.8 575.2,152.6 564.7,150.9 554.2,153.3 542.0,151.6 528.0,152.1M660.8,214.1 667.8,210.6 676.5,213.2 685.2,211.5 696.6,210.6 702.7,215.9 695.7,220.2 683.5,222.8 673.0,222.0 666.0,221.1 662.5,217.6 660.8,214.1M670.4,214.1 673.0,217.6M528.0,251.7 535.0,253.4 540.2,257.8 544.6,262.2 545.5,267.4 538.5,268.3 531.5,270.9 528.0,271.8M536.7,270.0 533.2,275.3 529.7,280.5 538.5,281.4 545.5,282.2 543.7,284.9 550.7,285.7 555.1,283.1 554.2,277.0 549.0,274.4 543.7,275.3 538.5,273.5 536.7,270.0M728.9,245.6 732.4,241.2 737.6,240.0 742.0,241.2 737.6,243.8 745.5,243.8 744.6,247.3 740.3,249.1 746.4,252.5 753.0,257.8M715.8,256.9 721.9,253.4 728.9,252.5 730.7,257.8 727.2,263.9 720.2,266.5 714.1,266.5 717.6,262.2 715.8,256.9M732.4,250.8 735.9,254.3 741.1,256.0 737.6,259.5 734.1,262.2 735.9,267.4 740.3,270.0 732.4,271.8 730.7,273.5 737.6,274.4 746.4,273.5 753.0,272.6M735.0,277.9 737.6,280.5 744.6,283.1 748.1,287.5 747.3,296.0M790.6,160.8 803.7,159.1 817.6,158.2 831.6,157.3 847.3,158.2 856.1,160.0 850.8,163.1 836.9,164.3 845.6,166.9 844.7,170.4 831.6,170.4 828.1,167.8 822.9,166.9 818.5,171.3 812.4,173.9 805.4,172.2 796.7,166.9 790.6,160.8M920.7,157.3 934.7,156.1 946.9,157.3 945.2,160.0 931.2,160.8 921.6,160.0 920.7,157.3M753.0,274.4 756.5,273.5 758.2,270.0 763.5,268.3 767.8,265.6 770.5,261.3 775.7,259.5 782.7,260.4 787.1,257.8 788.8,252.5 793.2,252.5 787.9,245.6 783.6,245.6 782.7,250.8 787.1,254.3 792.3,258.7 798.4,256.9 805.4,259.5 813.3,256.0 821.1,255.2 826.4,256.9 832.5,252.5 830.7,248.2 835.1,243.8 838.6,245.6 843.0,246.4 843.8,241.2 839.5,237.7 845.6,238.6 856.1,238.6 863.1,235.4 859.6,233.0 850.8,233.3 842.1,235.1 835.1,233.3 831.6,229.8 832.5,225.5 836.9,221.1 843.8,218.5 849.1,215.9 843.8,212.4 836.9,213.2 831.6,215.9 833.4,219.4 828.1,221.1 820.3,224.6 816.8,229.0 819.4,231.6 823.8,234.2 822.0,237.7 815.9,239.4 815.0,243.8 813.3,249.1 807.2,249.9 801.9,251.7 799.3,247.3 795.8,241.2 792.3,236.8 787.9,239.4 781.0,242.9 774.0,241.2 771.3,235.1 770.5,228.1 775.7,223.7 786.2,220.2 796.7,214.1 807.2,206.2 817.6,201.0 828.1,197.0 838.6,195.8 843.8,193.1 857.8,192.8 866.6,194.9 870.1,198.4 875.3,199.3 885.8,200.1 896.3,202.8 906.7,206.2 907.6,209.7 899.8,211.5 889.3,210.3 877.0,209.7 882.3,213.2 884.0,218.5 891.0,221.1 892.8,216.7 901.5,217.6 905.0,214.1 910.2,211.5 917.2,212.4 918.1,207.1 914.6,202.8 926.0,203.6 929.5,208.9 934.7,206.2 945.2,203.6 955.7,201.9 962.6,203.6 971.4,202.8 978.0,201.0M978.0,173.9 969.6,175.7 960.9,178.3 953.9,183.5 946.9,187.9 945.2,192.3 952.2,194.0 962.6,195.8 969.6,194.9 962.6,191.4 960.0,188.8 966.1,183.5 973.1,180.0 978.0,178.8M753.0,257.8 755.6,262.2 760.0,263.0 758.2,270.0M797.5,296.0 798.4,290.1 802.8,288.4 808.9,291.9 811.5,296.0M779.2,296.0 786.2,293.6 790.6,296.0M858.7,296.0 861.3,290.1 868.3,284.9 873.5,285.7 878.8,291.0 883.2,290.1 884.0,286.6 892.8,284.0 900.6,283.1 896.3,286.6 887.5,287.5 891.0,291.0 898.0,294.5 900.6,296.0M927.7,296.0 929.5,291.0 936.4,285.7 945.2,283.1 953.0,284.9 952.2,290.1 943.4,291.9 939.9,296.0M978.0,178.3 988.5,174.8 1000.7,172.2 1011.2,173.1 1007.7,175.7 995.5,177.1 985.0,178.8 978.0,180.0M978.0,199.3 985.0,198.4 993.7,200.1 1002.5,202.8 1010.3,204.5 1012.1,201.9 1004.2,199.3 1002.5,194.9 1007.7,191.4 1012.1,187.0 1019.9,186.2 1026.0,187.9 1023.4,192.3 1026.9,196.6 1025.2,201.9 1032.2,202.8 1033.0,207.1 1025.2,211.5 1019.9,212.4 1025.2,208.9 1028.7,205.4 1030.4,200.1 1032.2,193.1 1039.1,193.1 1033.9,187.9 1044.4,188.8 1054.9,189.7 1058.4,191.4 1054.9,184.4 1065.4,183.5 1077.6,183.5 1075.8,180.0 1086.3,177.8 1100.3,175.7 1114.3,175.3 1126.5,173.9 1131.7,173.1 1128.2,167.8 1135.2,166.1 1145.7,165.2 1148.3,167.8 1142.2,169.6 1152.7,172.2 1154.5,173.9 1166.7,173.1 1177.2,173.9 1180.7,176.5 1178.9,179.2 1168.4,180.9 1163.2,182.7 1173.7,183.5 1178.9,185.3 1187.6,183.5 1198.1,184.4 1203.0,186.2M1093.3,159.1 1102.0,155.6 1112.5,154.7 1121.3,157.3 1128.2,160.8 1126.5,164.3 1117.8,165.2 1107.3,164.3 1100.3,161.7 1093.3,159.1M1185.0,183.5 1197.2,183.5 1199.0,186.2 1214.7,186.5 1215.6,183.5 1228.7,184.4 1235.7,187.0 1234.8,190.5 1244.4,194.0 1248.8,190.5 1256.6,192.3 1267.1,191.4 1277.6,192.3 1275.8,187.9 1282.8,187.0 1296.8,187.9 1312.5,188.8 1319.5,192.3 1326.5,194.0 1338.7,193.1 1349.2,194.0 1352.7,198.4 1363.2,199.3 1373.7,199.3 1382.4,199.3 1388.5,201.9 1393.8,201.0 1391.1,197.5 1401.6,197.5 1408.6,198.0M1265.4,177.4 1270.6,174.8 1282.8,173.9 1293.3,174.8 1296.8,177.4 1289.8,180.0 1275.8,180.6 1267.1,179.2 1265.4,177.4M1300.3,177.8 1310.8,177.1 1318.6,178.8 1310.8,180.6 1301.2,179.5 1300.3,177.8M1277.6,183.5 1291.6,183.5M1258.4,255.2 1272.4,247.3 1285.5,238.9 1298.6,237.7 1310.8,238.2 1315.2,236.5 1320.4,236.8 1319.5,239.4 1331.8,238.9 1333.5,235.1 1340.5,229.8 1351.0,229.0 1353.6,233.3 1359.7,229.8 1364.9,226.3 1370.2,226.3 1366.7,230.7 1356.2,236.8 1345.7,242.9 1338.7,245.6 1335.2,252.5 1337.0,259.5 1339.6,269.1 1346.6,265.6 1348.3,262.2 1353.6,260.4 1355.3,256.0 1361.5,253.4 1363.2,249.1 1364.9,244.7 1359.7,242.1 1364.9,238.6 1366.7,235.9 1375.4,235.9 1385.9,233.3 1391.1,235.9 1399.9,230.7 1408.6,228.1M1258.4,255.2 1265.4,255.2 1268.0,258.7 1274.1,256.9 1280.2,259.5 1282.8,263.0 1279.3,270.0 1278.5,277.0 1272.4,284.0 1263.6,291.0 1258.4,296.0M1299.4,296.0 1298.6,293.6 1289.8,292.7 1287.2,289.2 1291.6,286.6 1288.1,282.2 1289.8,277.0 1295.9,276.1 1294.2,272.6 1290.7,264.8 1288.9,256.9 1285.5,256.9 1284.6,264.8 1284.2,275.3 1284.6,284.0 1283.7,296.0M303.0,330.9 310.0,333.6 314.4,339.7 318.7,348.4 321.3,350.2 320.5,343.2 324.0,340.5 329.2,343.2 331.8,350.2 337.1,356.3 342.3,360.6 340.6,365.0 344.9,365.9 351.0,371.1 356.3,376.4 358.0,381.6 355.4,385.1 360.7,389.5 367.6,393.0 376.4,396.5 385.1,399.9 392.1,401.7 397.3,399.9 402.6,402.6 409.6,407.8 416.6,409.6 423.5,411.3 428.8,416.5 432.3,422.7 437.5,426.2 442.8,428.8 448.0,431.4 453.2,432.3 452.4,427.0 456.7,426.2 460.2,430.5 462.0,435.8 462.9,444.5 458.5,451.5 453.2,457.6 451.5,460.0M321.3,350.2 320.5,356.3 327.5,359.8 332.7,365.9 337.9,370.2 341.4,373.7 342.3,371.1 337.9,365.9 332.7,358.9 329.2,353.7 325.7,348.4 323.1,344.0M528.0,296.0 512.6,297.4 505.7,296.9 491.7,299.5 489.9,303.9 477.7,305.6 472.5,310.0 465.5,315.2 469.0,322.2 468.1,327.4 460.2,330.9 453.2,336.2 448.0,340.5 446.3,345.8 448.9,351.9 451.5,357.1 452.4,363.3 449.8,365.9 446.3,363.3 442.8,357.1 441.9,351.9 437.5,347.5 432.3,348.4 425.3,346.7 418.3,347.5 416.6,351.0 407.8,349.3 399.1,349.3 392.1,352.8 387.7,358.0 386.9,365.9 385.1,372.9 386.9,379.9 390.4,386.0 398.2,391.7 406.1,390.3 412.2,388.6 413.9,382.5 418.3,379.9 427.0,379.9 425.3,385.1 423.5,390.3 421.8,395.6 419.2,399.9 425.3,400.8 434.0,400.5 440.1,403.4 441.0,409.6 438.4,414.8 439.3,420.9 444.5,425.3 449.8,426.2 456.7,425.3 463.7,427.9 469.0,421.8 470.7,418.3 479.5,416.5 484.7,413.9 491.7,415.7 496.9,419.2 503.9,420.0 509.1,421.8 516.1,420.0 523.1,420.0 526.6,424.4 528.0,427.9M433.2,378.1 439.3,374.6 448.0,373.7 456.7,376.4 463.7,379.9 472.5,382.5 476.0,385.1 469.0,386.0 460.2,385.1 455.0,380.7 446.3,377.2 439.3,378.1 433.2,378.1M456.7,359.8 463.7,359.8 462.9,363.3 458.5,362.4M458.5,366.8 462.0,367.6 462.0,372.0 459.4,370.2M472.5,390.3 477.7,386.8 486.4,386.0 495.2,388.6 496.9,392.1 488.2,392.1 484.7,394.7 479.5,392.1 472.5,393.0 472.5,390.3M458.5,391.2 465.5,390.3 468.1,393.0 462.0,393.8 458.5,391.2M499.5,391.2 506.5,391.2 507.4,393.0 500.4,393.3 499.5,391.2M482.1,420.9 485.6,421.8 484.7,426.2 482.1,424.4M152.8,377.1 155.2,377.8M159.2,379.5 163.6,380.6 167.4,382.0M166.2,383.4 171.5,384.2 173.7,386.8 168.8,390.3 166.4,387.7 166.2,383.4M287.6,296.0 285.9,300.4 287.6,304.7 286.8,309.1 290.3,315.2 294.6,319.6 298.1,325.7 303.0,330.1M753.0,296.9 737.6,297.7 718.4,297.7 720.2,304.7 717.6,313.5 720.2,320.5 728.9,322.2 732.4,325.7 742.9,326.6 753.0,324.0M730.7,323.1 737.6,322.2 746.4,319.6 753.0,311.7M730.7,324.8 727.2,330.9 720.2,335.3 716.7,341.4 717.6,347.5 711.4,351.9 704.5,355.4 699.2,361.5 696.6,367.6 691.3,373.7 688.7,380.7 692.2,386.8 691.3,395.6 688.7,402.6 686.1,405.2 689.6,408.7 689.6,414.8 695.7,419.2 701.8,425.3 704.5,431.4 711.4,435.8 718.4,441.0 723.7,444.5 730.7,441.9 737.6,440.7 746.4,441.9 753.0,439.3M528.0,427.9 532.4,430.5 536.7,435.8 542.0,437.5 549.0,437.2 556.0,440.1 561.2,445.4 563.8,451.5 565.6,455.9 562.9,460.0M753.0,324.0 761.7,322.2 772.2,322.2 781.0,320.5 789.7,319.6 794.9,322.2 794.1,328.3 790.6,331.8 794.9,335.3 803.7,337.1 810.7,340.5 817.6,344.0 824.6,346.7 828.1,343.2 827.2,338.8 833.4,337.1 840.4,338.8 847.3,341.4 856.1,342.3 861.3,344.0 868.3,342.3 875.3,342.8 882.3,343.2 884.9,337.9 887.5,330.9 888.4,323.1 882.3,322.2 873.5,324.0 866.6,322.2 859.6,323.1 854.3,318.7 850.8,313.5 854.3,309.1 861.3,308.2 866.6,304.7 875.3,303.0 885.8,302.1 892.8,304.7 901.5,306.5 908.5,304.7 907.6,300.4 903.2,296.0M873.5,327.4 878.8,326.0 883.2,327.4 877.9,330.4 873.5,329.2 873.5,327.4M854.3,296.0 857.8,301.2 856.1,305.6 852.6,308.2 847.3,306.5 840.4,307.4 836.9,310.0 839.5,317.0 838.6,322.2 842.1,326.6 850.8,328.3 847.3,329.2 840.4,327.4 836.9,324.0 834.2,318.7 829.9,312.6 826.4,307.4 822.9,303.9 815.9,301.2 810.7,296.9 808.9,296.0M793.2,296.0 798.4,299.5 805.4,303.9 812.4,307.4 819.4,310.0 822.9,312.6 819.4,315.2 814.1,313.5 810.7,316.1M798.4,317.0 805.4,316.1 811.5,315.2 810.7,320.5 807.2,323.1 799.3,319.6 798.4,317.0M810.7,313.5 807.2,309.1 800.2,304.7 793.2,301.2 787.9,297.7 786.2,296.0M783.6,301.2 787.9,300.4 789.7,306.5 788.8,313.5 784.4,314.3 782.7,308.2 783.6,301.2M753.0,306.5 758.2,303.9 763.5,301.2 765.2,297.7 772.2,296.0M873.5,348.4 877.0,355.4 882.3,364.1 886.6,371.1 891.0,378.1 892.8,386.8 898.0,393.8 901.5,400.8 906.7,406.1 912.0,411.3 914.6,415.7 912.0,416.5 916.3,420.9 926.0,419.2 936.4,416.5 945.2,414.8 943.4,421.8 940.8,428.8 936.4,437.5 929.5,446.2 920.7,453.2 913.7,458.5 911.1,460.0M881.4,352.8 883.7,349.3 884.9,351.9 887.5,360.6 894.5,369.4 898.9,376.4 900.6,383.4 906.7,390.3 912.0,397.3 913.7,404.3 915.5,411.3 927.7,407.8 938.2,404.3 948.7,399.1 959.1,394.7 967.9,388.6 971.4,382.5 976.6,378.1 978.0,375.0M978.0,363.3 967.0,360.6 962.6,358.0 955.7,358.9 948.7,356.3 944.3,351.9 941.7,347.5 936.4,346.7 932.1,347.5 934.7,353.7 939.1,359.8 942.6,363.3 945.2,365.0 946.9,369.4 952.2,369.7 956.5,366.8 960.9,362.4 964.4,359.8 967.0,363.3 971.4,368.5 975.7,372.9 978.0,375.0M929.5,296.0 932.9,301.2 938.2,305.6 941.7,310.8 936.4,313.5 935.6,317.8 939.9,321.3 946.9,323.1 953.9,322.2 956.5,317.0 953.9,312.6 950.4,309.1 953.9,306.5 958.3,305.6 955.7,301.2 950.4,298.6 946.9,296.0M753.0,438.4 760.0,436.6 769.6,436.6 774.0,442.8 779.2,443.6 784.4,441.9 788.8,446.2 789.7,451.5 787.9,460.0M978.0,365.9 988.5,365.5 1000.7,364.5 1006.0,370.2 1011.2,373.7 1013.8,379.0 1019.9,381.6 1026.0,380.7 1026.9,390.3 1029.5,399.1 1033.0,407.8 1036.5,416.5 1040.0,425.3 1043.5,430.5 1047.9,426.2 1051.4,421.8 1052.2,414.8 1054.0,407.8 1053.1,401.7 1058.4,399.1 1065.4,393.8 1072.3,387.7 1079.3,383.4 1079.3,379.9 1086.3,378.1 1093.3,375.5 1096.8,374.6 1100.3,379.9 1103.8,386.8 1107.3,393.8 1106.4,399.9 1110.8,399.1 1116.9,396.5 1119.5,402.6 1121.3,411.3 1123.0,418.3 1122.1,425.3 1120.4,430.5 1124.8,428.8 1126.5,421.8 1125.6,414.8 1128.2,410.4 1133.5,411.3 1138.7,415.7 1142.2,420.9 1148.3,423.5 1146.6,427.9 1152.7,423.5 1159.7,419.2 1163.2,414.8 1164.1,407.8 1161.4,400.8 1156.2,395.6 1151.8,391.2 1149.2,386.8 1152.7,381.6 1159.7,379.0 1166.7,381.6 1169.3,386.8 1164.1,391.2 1159.7,390.3 1159.7,386.8 1163.2,385.1M1166.7,381.6 1173.7,379.9 1182.4,377.2 1191.1,373.7 1198.1,368.5 1203.0,362.4M1051.4,421.8 1055.7,424.4 1059.2,430.5 1058.4,435.8 1054.0,438.4 1051.4,434.9 1050.5,428.8 1051.4,421.8M1122.1,425.3 1121.3,431.4 1126.5,434.0 1130.0,441.0 1133.5,448.0 1138.7,453.2 1143.1,460.0M1124.8,428.8 1130.0,434.0 1135.2,439.3 1138.7,444.5 1137.9,449.7 1141.3,455.0 1144.0,460.0M1138.7,460.0 1135.2,455.9 1130.0,449.7 1123.0,444.5 1116.0,440.1 1109.0,439.3 1110.8,443.6 1117.8,449.7 1123.0,455.9 1125.6,460.0M1203.0,416.5 1196.4,421.8 1191.1,428.8M1203.0,435.8 1192.9,434.9 1187.6,439.3 1178.9,445.4 1170.2,450.6 1163.2,453.2 1160.6,460.0M1191.1,435.8 1196.4,441.0 1193.8,446.2 1198.1,451.5 1196.4,460.0M1203.0,309.1 1196.4,311.7 1192.9,315.2 1198.1,319.6 1203.0,321.3M1203.0,324.8 1199.0,328.3 1203.0,331.8M978.0,375.5 978.9,377.2M1185.0,375.5 1192.0,372.0 1199.0,365.9 1204.2,358.9 1208.6,351.9 1210.3,346.7 1206.8,344.9 1211.2,342.3 1207.7,337.1 1202.5,332.7 1199.8,327.4 1204.2,324.0 1211.2,321.3 1209.5,317.8 1201.6,318.7 1195.5,317.0 1192.9,313.5 1199.0,310.0 1206.0,306.5 1211.2,308.2 1213.8,312.6 1219.1,310.8 1223.4,314.3 1224.3,320.5 1226.9,326.6 1228.7,330.9 1233.9,330.1 1237.4,326.6 1238.3,321.3 1235.7,316.1 1230.4,312.6 1232.2,309.1 1239.2,305.6 1240.9,301.2 1249.6,298.6 1258.4,296.9 1261.9,296.0M1286.3,296.0 1280.2,298.6 1276.7,303.9 1278.5,310.0 1275.8,315.2 1268.9,320.5 1263.6,321.3 1258.4,326.6 1249.6,327.4 1242.7,330.9 1237.4,336.2 1239.2,341.4 1242.7,344.0 1246.1,340.5 1245.3,337.1 1251.4,336.2 1256.6,332.7 1261.9,333.6 1265.4,330.1 1272.4,329.2 1279.3,327.4 1280.2,324.0 1283.7,317.0 1285.5,310.8 1282.0,303.9 1284.6,301.2 1289.8,303.0 1293.3,300.4 1298.6,297.7M1204.2,365.0 1209.5,365.0 1210.3,369.4 1207.7,375.5 1205.1,378.1 1202.5,372.9 1204.2,365.0M1203.3,391.2 1211.2,390.3 1212.1,395.6 1209.5,400.8 1213.0,405.2 1219.9,407.8 1224.3,413.1 1225.2,418.3 1219.9,419.2 1217.3,416.5 1211.2,414.8 1206.8,411.3 1203.3,407.8 1201.6,400.8 1203.3,391.2M1211.2,416.5 1215.6,421.8 1222.6,423.5 1226.9,427.0 1227.8,434.0 1225.2,439.3 1220.8,440.1 1217.3,435.8 1219.9,431.4 1222.6,430.5 1215.6,430.5 1211.2,434.0 1209.5,432.3 1213.8,427.9 1211.2,421.8 1211.2,416.5M1191.1,428.8 1201.6,417.4M1185.0,435.8 1191.1,434.0 1193.7,439.3 1199.8,440.1 1195.5,446.2 1192.9,449.7 1199.0,452.4 1197.2,456.7 1204.2,455.0 1213.0,455.9 1222.6,453.2M1229.5,452.4 1235.7,453.2 1234.8,460.0M452.4,460.0 448.9,465.2 453.3,470.5 448.0,476.6 447.2,482.7 453.3,488.0 457.6,494.9 462.0,503.7 466.4,510.7 467.2,515.9 475.1,520.3 483.8,525.5 489.1,529.9 490.0,540.4 488.2,552.6 487.3,563.1 484.7,570.1 484.7,578.8 483.8,585.8 480.4,592.8 476.9,599.8 477.7,605.0 476.0,612.0 474.2,619.0 476.9,624.0M561.6,460.0 569.5,461.7 571.2,464.4 578.2,463.5 585.2,467.9 586.9,470.5 593.9,469.6 602.6,470.5 609.6,475.7 618.0,479.2M618.0,497.6 613.1,501.9 607.9,508.9 607.0,517.7 605.3,528.1 601.8,535.1 598.3,542.1 593.9,546.5 585.2,547.4 576.4,550.8 571.2,556.1 571.2,563.1 569.5,568.3 564.2,573.6 559.0,579.7 553.7,584.9 548.5,590.2 541.5,591.0 532.8,589.3 538.0,593.6 540.6,598.0 536.3,603.3 529.3,605.0 519.7,605.9 518.8,612.0 515.3,614.6 509.2,613.7 508.3,617.2 513.5,618.1 511.8,621.6 507.4,624.0M618.0,479.2 620.5,479.6 623.1,487.1 620.5,494.1 618.0,497.6M788.2,460.0 784.7,463.5 788.2,468.7 795.2,475.7 799.5,484.5 802.2,492.3 801.3,494.9 804.8,501.9 800.4,508.9 796.9,515.9 796.0,524.6 799.5,529.9 803.0,536.9 806.5,543.9 807.4,552.6 810.0,563.1 814.4,568.3 818.8,575.3 821.4,580.5 820.5,585.8 824.0,590.2 828.0,591.0M813.0,564.8 817.4,571.8 820.9,578.8 820.0,584.0 822.6,589.3 827.8,591.0 835.7,588.9 844.4,588.4 851.4,586.7 858.4,582.3 863.7,577.1 868.9,570.9 874.1,565.7 875.0,559.6 874.1,556.1 881.1,552.6 885.5,550.0 886.4,543.9 884.6,539.5 882.0,535.1 886.4,530.8 891.6,526.4 898.6,523.8 903.8,520.3 906.5,515.9 905.6,507.2 904.7,499.3 900.4,493.2 899.5,486.2 897.7,481.8 899.5,476.6 903.0,469.6 909.1,464.4 915.2,460.0M937.0,504.5 940.5,508.0 942.3,515.9 939.7,521.1 937.0,529.9 933.5,540.4 930.1,551.7 923.1,555.7 917.8,553.5 915.2,546.5 914.3,541.2 917.8,536.0 918.7,529.9 916.9,525.5 918.7,521.1 924.8,519.4 931.8,515.0 932.7,510.7 935.3,508.9 937.0,504.5M1123.6,460.0 1128.8,465.2 1134.1,472.2 1141.1,478.3 1147.2,483.6 1146.3,486.2 1153.3,488.0 1162.0,489.7 1167.3,490.6M1139.3,460.0 1141.1,463.5 1146.3,466.1 1149.8,470.5 1149.8,477.5 1148.9,481.8M1153.3,483.6 1163.8,484.5 1174.3,486.2 1184.8,489.7 1187.4,492.3 1177.8,493.2 1167.3,491.1 1158.5,488.8 1151.6,486.2M1190.0,493.2 1195.2,490.6 1201.3,492.3 1195.2,494.1 1190.9,494.1M1198.7,494.1 1205.7,492.3 1213.6,491.4 1214.5,494.1 1205.7,495.8 1200.5,496.7M1215.3,497.6 1221.4,494.1 1230.2,491.4 1231.0,494.1 1223.2,497.6 1216.2,499.3M1160.3,460.0 1162.9,465.2 1167.3,470.5 1176.0,472.2 1183.0,475.7 1188.2,473.1 1190.0,467.0 1193.5,462.6 1194.4,460.0M1198.7,460.0 1197.9,467.0 1199.6,472.2 1203.1,470.5 1202.2,477.5 1200.5,481.8 1205.7,481.0 1208.3,476.6 1212.7,479.2 1214.5,475.7 1211.0,470.5 1209.2,466.1 1212.7,462.6 1217.9,460.0M1204.0,463.5 1207.5,468.7 1205.7,474.0M1224.9,471.4 1231.9,470.5 1240.7,472.2 1244.1,474.8 1235.4,474.8 1226.7,474.0 1224.9,471.4M1241.5,462.6 1247.6,461.7 1254.6,464.4 1258.1,468.7 1263.0,469.6M1245.9,467.0 1252.9,470.5 1258.1,475.7 1263.0,477.5M1255.5,480.1 1258.1,482.7 1256.4,485.3M1263.0,503.7 1254.6,501.9 1247.6,501.9 1242.4,507.2 1238.9,514.2 1235.4,515.9 1230.2,511.5 1223.2,514.2 1217.9,519.4 1213.6,522.9 1211.0,528.1 1205.7,532.5 1195.2,536.0 1188.2,537.7 1180.4,542.1 1178.6,547.4 1177.8,552.6 1179.5,557.8 1180.4,563.1 1183.0,568.3 1185.6,575.3 1186.5,582.3 1183.9,587.5 1188.2,591.0 1195.2,591.9 1202.2,588.4 1211.0,586.7 1217.9,583.2 1226.7,580.5 1235.4,578.8 1244.1,577.9 1252.0,580.5 1257.3,584.9 1260.7,590.2 1263.0,591.0M1259.9,511.5 1259.0,516.8 1263.0,519.4M1262.9,503.7 1266.2,504.5 1265.4,510.7 1260.1,515.9 1267.1,520.3 1274.1,524.6 1279.3,527.3 1282.0,522.9 1282.8,515.9 1283.7,507.2 1286.3,501.1 1289.8,505.4 1291.6,511.5 1296.8,515.9 1298.6,522.9 1301.2,529.0 1307.3,535.1 1312.5,542.1 1317.8,545.6 1323.0,550.8 1327.4,557.8 1329.1,566.6 1327.4,575.3 1324.8,582.3 1320.4,589.3 1316.0,596.3 1314.3,601.5 1307.3,602.4 1301.2,605.9 1295.9,602.4 1289.8,605.0 1282.8,603.3 1277.6,599.8 1275.0,594.5 1271.5,590.2 1268.9,584.0 1264.5,588.4 1262.9,591.0M1294.2,612.9 1302.1,613.7 1309.9,612.9 1307.3,619.9 1303.8,624.0M1294.2,612.9 1297.7,619.0 1300.3,624.0M1242.7,462.6 1251.4,461.7 1256.6,463.5 1254.9,469.6 1258.4,473.1 1261.9,468.7 1268.9,466.1 1277.6,468.7 1288.1,472.2 1296.8,475.7 1302.1,480.1 1305.5,483.6 1312.5,481.8 1317.8,479.2 1323.0,480.1 1326.5,476.6 1323.0,471.4 1317.8,469.6M1305.5,483.6 1303.8,488.0 1307.3,491.4 1312.5,496.7 1318.6,499.3 1314.3,495.8 1309.0,491.4 1303.8,488.8 1296.8,488.0 1291.6,489.7 1288.1,494.1 1282.8,492.3 1275.8,490.6 1268.9,491.4 1270.6,486.2 1272.4,481.8 1267.1,478.3 1260.1,475.7 1254.9,474.0 1249.6,470.5 1246.1,467.0 1242.7,462.6M1331.8,479.2 1337.0,483.6 1344.0,487.1 1351.0,490.6 1358.0,494.9 1361.5,501.1 1357.1,499.3 1351.0,494.1 1342.2,489.7 1335.2,485.3 1331.8,479.2M1376.3,515.0 1379.8,516.8 1382.4,522.0 1378.9,521.1 1376.3,515.0M1366.7,535.1 1372.8,537.7 1379.8,543.0 1377.2,544.7 1370.2,541.2 1366.7,535.1M82.2,777.0 99.0,774.9 116.4,774.2 133.9,777.0 154.9,779.5 179.3,777.7 196.8,778.4 217.8,777.7 214.3,774.9 193.3,774.9 179.3,772.5 179.3,767.3 165.4,765.5 182.8,763.1 200.3,761.0 202.0,757.5 186.3,758.5 168.8,756.8 159.1,754.0 160.1,748.0 179.3,749.1 196.8,746.3 205.5,742.1 224.8,741.1 245.7,738.6 266.7,737.6 277.2,735.1 291.1,736.5 305.1,735.8 322.6,737.6 329.6,736.5 336.6,740.0 354.0,741.4 375.0,742.1 376.7,738.6 366.3,736.5 366.3,732.3 375.0,729.5 390.7,730.6 389.0,734.1 406.4,734.1 416.9,732.3 427.4,734.4 441.4,735.8 451.9,734.4 462.3,736.5 476.3,735.8 490.3,732.3 499.0,727.1 497.3,720.1 504.3,711.4 514.8,704.4 528.0,699.1M140.9,755.0 151.4,756.1 153.1,758.5 144.4,758.5 140.9,755.0M528.0,707.9 514.8,711.4 507.8,718.3 513.0,727.1 521.7,732.3 528.0,735.8M528.0,741.1 511.3,742.8 490.3,745.6 465.8,747.0 462.3,751.5 476.3,752.6 460.6,756.1 465.8,759.6 483.3,761.0 504.3,763.8 528.0,766.6M471.1,728.8 485.1,725.3 490.3,718.3 493.8,727.1 483.3,730.6 471.1,728.8M476.3,624.0 471.1,634.5 469.3,646.7 472.8,655.4 483.3,662.4 497.3,667.7 509.5,665.9 502.5,660.7 493.8,658.9 492.0,653.7 499.0,645.0 502.5,634.5 507.8,624.0M523.5,653.7 528.0,652.0M528.0,652.7 536.7,653.7 529.7,657.2M528.0,699.1 538.5,698.1 531.5,702.6M528.0,766.6 535.0,770.8 549.0,768.0 569.9,765.5 590.9,766.6 608.4,763.8 629.3,763.1 645.1,762.0 639.8,758.5 620.6,758.5 619.5,755.0 632.8,751.5 646.8,748.0 667.8,745.6 681.7,742.8 692.2,741.1 692.2,736.5 702.7,732.3 713.2,728.1 721.9,728.8 728.9,726.4 737.6,728.1 751.6,727.1 769.1,725.3 783.1,722.9 793.5,726.0 804.0,722.9 821.5,722.5 835.5,724.6 849.5,724.3 863.4,722.5 875.7,720.1 880.9,717.3 889.6,719.0 898.4,721.8 907.1,718.3 922.8,715.5 936.8,712.1 947.3,708.6 961.3,707.2 970.0,709.6 978.0,712.1M549.0,762.0 562.9,755.0 576.9,752.6 589.1,755.0 590.2,760.3 576.9,763.1 562.9,763.8 549.0,762.0M1009.9,644.1 1016.6,643.5 1017.6,646.8 1010.9,647.5 1009.9,644.1M978.0,713.9 991.4,712.9 998.1,714.6 1011.5,714.6 1013.2,721.3 1007.5,723.9 1009.9,729.7 1018.2,729.7 1028.3,722.9 1041.7,721.3 1048.4,716.2 1061.9,712.9 1078.6,711.9 1082.0,708.5 1087.0,711.9 1102.1,711.9 1112.2,712.9 1125.6,711.9 1138.3,705.5 1149.1,710.5 1159.1,710.5 1170.9,707.9 1179.2,706.8 1187.6,710.2 1201.0,711.9 1212.8,709.5 1226.2,709.9 1243.0,709.2 1256.4,708.5 1259.7,705.2 1264.8,710.5 1279.9,710.5 1298.3,710.5 1301.7,713.9 1316.8,717.2 1330.2,717.9 1340.2,720.6 1350.3,721.3 1360.4,723.9 1377.1,725.6 1390.5,728.0 1393.9,731.3 1385.5,736.4 1375.5,739.7 1368.7,744.7 1367.1,750.8 1378.8,754.8 1363.7,756.5 1355.3,761.5 1360.4,766.5 1373.8,769.9 1390.5,773.3 1409.0,775.6M1298.3,624.0 1303.3,625.0 1308.4,624.0M1375.8,631.8 1379.7,627.3 1384.1,624.8 1390.5,622.2 1394.3,619.0 1396.8,614.6 1399.4,612.0 1401.9,611.4 1403.9,612.7 1406.4,613.3 1405.1,616.5 1403.2,620.3 1402.6,624.8 1400.0,626.0 1396.2,626.7 1394.9,630.5 1391.8,633.7 1387.3,635.6 1382.8,635.3 1378.4,634.0 1375.8,631.8M1407.7,591.6 1404.5,591.0 1401.3,588.5 1398.8,589.1 1400.7,592.9 1403.9,597.4 1405.8,600.6 1406.4,604.4 1403.9,606.9 1404.5,608.8 1407.0,609.5M772.0,296.0 779.0,296.0"/>
</g>
</svg>
<rect x="78.5" y="132.5" width="1331.0" height="656.0" fill="none" stroke="#000" stroke-width="3"/>
<rect x="78.50" y="831.5" width="1331.00" height="66.0" fill="#000096"/><rect x="133.96" y="831.5" width="1275.54" height="66.0" fill="#0000c8"/><rect x="189.42" y="831.5" width="1220.08" height="66.0" fill="#0000f6"/><rect x="244.88" y="831.5" width="1164.62" height="66.0" fill="#0014ff"/><rect x="300.33" y="831.5" width="1109.17" height="66.0" fill="#0040ff"/><rect x="355.79" y="831.5" width="1053.71" height="66.0" fill="#0068ff"/><rect x="411.25" y="831.5" width="998.25" height="66.0" fill="#0094ff"/><rect x="466.71" y="831.5" width="942.79" height="66.0" fill="#00c0ff"/><rect x="522.17" y="831.5" width="887.33" height="66.0" fill="#02e8f4"/><rect x="577.62" y="831.5" width="831.88" height="66.0" fill="#26ffd1"/><rect x="633.08" y="831.5" width="776.42" height="66.0" fill="#49ffad"/><rect x="688.54" y="831.5" width="720.96" height="66.0" fill="#6aff8d"/><rect x="744.00" y="831.5" width="665.50" height="66.0" fill="#8dff6a"/><rect x="799.46" y="831.5" width="610.04" height="66.0" fill="#b1ff46"/><rect x="854.92" y="831.5" width="554.58" height="66.0" fill="#d1ff26"/><rect x="910.38" y="831.5" width="499.12" height="66.0" fill="#f4f802"/><rect x="965.83" y="831.5" width="443.67" height="66.0" fill="#ffd000"/><rect x="1021.29" y="831.5" width="388.21" height="66.0" fill="#ffab00"/><rect x="1076.75" y="831.5" width="332.75" height="66.0" fill="#ff8200"/><rect x="1132.21" y="831.5" width="277.29" height="66.0" fill="#ff5900"/><rect x="1187.67" y="831.5" width="221.83" height="66.0" fill="#ff3400"/><rect x="1243.12" y="831.5" width="166.38" height="66.0" fill="#f60b00"/><rect x="1298.58" y="831.5" width="110.92" height="66.0" fill="#c40000"/><rect x="1354.04" y="831.5" width="55.46" height="66.0" fill="#960000"/>
<rect x="78.5" y="831.5" width="1331.0" height="66.0" fill="none" stroke="#000" stroke-width="3"/>
<rect x="77.0" y="897.5" width="3" height="14.6" fill="#000"/><text x="45.4" y="959" font-size="42.4" textLength="66.2" lengthAdjust="spacingAndGlyphs">0.0</text>
<rect x="243.4" y="897.5" width="3" height="14.6" fill="#000"/><text x="211.8" y="959" font-size="42.4" textLength="66.2" lengthAdjust="spacingAndGlyphs">7.5</text>
<rect x="409.8" y="897.5" width="3" height="14.6" fill="#000"/><text x="364.9" y="959" font-size="42.4" textLength="92.7" lengthAdjust="spacingAndGlyphs">15.0</text>
<rect x="576.1" y="897.5" width="3" height="14.6" fill="#000"/><text x="531.3" y="959" font-size="42.4" textLength="92.7" lengthAdjust="spacingAndGlyphs">22.5</text>
<rect x="742.5" y="897.5" width="3" height="14.6" fill="#000"/><text x="697.6" y="959" font-size="42.4" textLength="92.7" lengthAdjust="spacingAndGlyphs">30.0</text>
<rect x="908.9" y="897.5" width="3" height="14.6" fill="#000"/><text x="864.0" y="959" font-size="42.4" textLength="92.7" lengthAdjust="spacingAndGlyphs">37.5</text>
<rect x="1075.2" y="897.5" width="3" height="14.6" fill="#000"/><text x="1030.4" y="959" font-size="42.4" textLength="92.7" lengthAdjust="spacingAndGlyphs">45.0</text>
<rect x="1241.6" y="897.5" width="3" height="14.6" fill="#000"/><text x="1196.8" y="959" font-size="42.4" textLength="92.7" lengthAdjust="spacingAndGlyphs">52.5</text>
<rect x="1408.0" y="897.5" width="3" height="14.6" fill="#000"/><text x="1363.2" y="959" font-size="42.4" textLength="92.7" lengthAdjust="spacingAndGlyphs">60.0</text>
</g>
<g transform="translate(0,985)">
<text x="132.2" y="107.5" font-size="50.9" textLength="1223.5" lengthAdjust="spacingAndGlyphs">Ionosphere  (h=450.0 km), 2004-02-07 07:00 UT</text>
<svg x="78.5" y="132.5" width="1331.0" height="656.0" viewBox="78.5 132.5 1331.0 656.0" overflow="hidden">
<rect x="76.5" y="130.5" width="1335.0" height="660.0" fill="#000096"/>
<path fill="#0000c8" fill-rule="evenodd" d="M74.5,128.5 1414.5,128.5 1414.5,792.5 74.5,792.5 74.5,348.1 80.5,348.8 95.0,356.5 109.7,362.5 158.5,377.4 181.7,386.5 198.5,391.2 206.0,394.5 251.4,406.5 286.5,411.3 302.5,412.2 366.5,425.6 436.5,436.1 492.5,448.5 524.5,449.3 536.5,452.7 546.5,453.3 570.5,453.8 578.5,452.5 600.5,451.4 616.5,455.8 626.3,460.5 629.8,462.5 636.8,470.5 639.4,480.5 638.5,485.9 632.9,496.5 629.0,500.5 618.1,508.5 606.1,514.5 589.9,520.5 577.0,526.5 574.4,528.5 572.5,532.2 572.4,540.5 577.1,560.5 574.1,582.5 574.5,595.6 579.5,602.5 588.8,608.5 608.2,608.5 617.0,606.5 634.6,600.5 648.6,592.5 653.8,588.5 662.5,576.5 669.6,550.5 676.4,532.5 677.3,524.5 680.6,516.5 682.6,494.5 682.5,487.9 680.8,480.5 680.8,464.5 684.5,449.0 686.4,436.5 686.5,428.5 686.4,420.5 684.5,411.4 680.5,403.1 674.7,396.5 660.5,390.1 644.5,389.3 634.5,390.6 606.5,390.5 596.5,389.0 580.5,388.5 563.4,392.5 526.5,409.0 504.5,410.3 478.5,409.5 452.5,405.6 436.5,401.2 420.5,393.9 400.2,382.5 382.7,376.5 370.5,374.3 360.5,373.8 354.5,372.3 306.5,369.6 292.5,367.3 260.5,359.2 218.6,344.5 179.0,334.5 116.5,324.4 102.6,324.5 82.5,329.0 74.5,329.3ZM126.5,184.1 126.5,187.1 132.5,192.5 156.5,207.2 170.4,218.5 196.5,235.5 210.3,246.5 215.6,252.5 216.6,254.5 215.8,262.5 212.9,266.5 200.5,271.6 184.3,274.5 185.9,276.5 195.0,282.5 214.5,292.6 228.5,293.4 238.5,295.8 252.5,296.8 258.5,298.5 284.5,301.4 296.5,303.6 312.2,308.5 324.5,310.6 356.5,311.0 370.5,309.3 412.5,309.6 434.5,314.0 476.5,324.8 502.5,324.9 526.5,318.8 532.5,316.0 574.5,307.5 596.5,301.3 612.5,295.1 624.5,288.3 644.5,280.2 692.8,266.5 712.5,256.7 720.5,247.8 723.0,242.5 722.5,238.0 715.4,232.5 708.5,230.9 694.5,230.7 669.6,234.5 584.5,251.0 550.5,256.6 540.5,257.2 524.5,260.9 498.5,261.5 446.5,260.8 396.5,253.3 380.5,249.5 360.5,243.2 306.5,217.1 300.2,212.5 295.2,210.5 240.5,199.8 202.5,190.6 182.5,186.9 156.5,183.4 128.5,183.1ZM520.5,180.4 512.5,181.9 470.5,182.3 462.5,184.1 450.5,184.8 447.8,186.5 448.5,188.7 450.5,190.5 458.5,193.6 494.5,203.9 530.5,204.8 544.5,202.2 550.5,199.9 557.1,196.5 558.5,192.5 557.4,190.5 554.5,188.7 535.2,182.5 526.5,180.3Z"/>
<path fill="#0000f6" fill-rule="evenodd" d="M74.5,128.5 1414.5,128.5 1414.5,145.0 1402.5,144.0 1370.5,143.9 1358.5,145.4 1322.5,146.4 1308.5,148.4 1302.5,150.5 1299.9,152.5 1304.5,157.2 1314.5,162.5 1348.5,173.3 1378.5,184.8 1402.5,192.6 1406.5,193.8 1414.5,193.6 1414.5,792.5 74.5,792.5 74.5,363.3 82.5,364.2 100.5,371.9 128.5,381.9 158.5,390.7 208.5,407.8 244.5,418.0 274.5,424.1 308.5,428.8 354.5,439.8 434.5,453.8 442.5,456.5 454.5,462.3 459.9,466.5 483.2,480.5 489.5,486.5 493.0,492.5 493.8,502.5 492.6,518.5 497.2,536.5 490.3,546.5 486.5,558.5 486.5,572.5 490.0,584.5 489.3,586.5 486.2,588.5 447.7,602.5 441.2,608.5 440.0,610.5 440.2,612.5 446.5,620.5 458.5,627.3 476.5,633.6 486.5,636.1 494.5,636.6 500.7,638.5 512.2,644.5 514.8,646.5 515.6,648.5 514.5,650.9 510.6,654.5 502.7,658.5 428.5,683.3 410.7,690.5 400.5,696.1 398.5,700.5 404.3,706.5 413.5,710.5 422.5,713.3 442.5,715.6 522.5,715.6 556.5,712.1 566.5,710.1 582.5,705.6 608.5,700.5 627.9,694.5 638.0,690.5 645.1,686.5 650.5,682.5 652.5,679.7 653.6,674.5 648.5,664.1 638.5,649.1 637.5,644.5 637.7,640.5 640.5,634.7 644.5,630.1 676.5,604.0 679.7,596.5 692.5,575.5 699.8,554.5 709.0,520.5 713.3,492.5 711.9,466.5 709.5,456.5 710.9,444.5 717.9,406.5 718.7,376.5 724.8,358.5 734.5,335.7 738.5,319.7 740.9,304.5 741.0,298.5 739.8,290.5 741.5,282.5 746.5,272.5 752.5,264.9 760.5,257.9 778.5,239.4 808.5,212.8 814.5,202.5 816.0,196.5 814.1,190.5 806.5,185.5 798.5,182.6 784.5,180.1 762.5,177.8 712.5,178.2 702.5,176.7 686.5,176.0 584.5,162.8 546.5,159.7 538.5,158.2 516.5,157.4 458.5,158.9 448.5,160.6 436.5,161.2 416.5,165.1 394.5,165.8 384.5,167.5 328.5,167.3 316.5,165.6 290.5,165.1 264.5,161.6 250.5,160.9 244.5,159.5 232.5,158.9 208.5,155.3 198.5,154.7 192.5,153.2 180.5,152.6 174.5,151.1 160.5,150.3 152.5,148.3 118.5,147.1 108.5,145.8 92.5,145.7 84.5,144.4 74.5,145.7ZM83.5,224.5 84.5,223.9 84.7,224.5 84.9,230.5 82.5,235.9 80.5,237.3 74.5,236.8 74.5,230.3 78.5,230.3 80.5,229.0Z"/>
<path fill="#0014ff" fill-rule="evenodd" d="M1045.4,154.5 1054.5,153.7 1120.5,153.6 1132.5,155.2 1162.5,155.6 1170.5,157.0 1192.5,158.0 1200.7,160.5 1242.5,167.2 1262.5,171.3 1322.5,188.7 1368.8,204.5 1386.6,216.5 1389.3,224.5 1388.5,230.5 1381.9,242.5 1370.5,256.2 1368.2,264.5 1368.5,268.6 1375.9,286.5 1378.3,294.5 1376.4,298.5 1358.7,318.5 1356.9,326.5 1361.4,336.5 1367.3,342.5 1375.0,348.5 1391.5,358.5 1404.5,364.5 1408.5,365.5 1414.5,365.4 1414.5,778.6 1394.5,779.5 1386.5,780.8 1346.5,782.3 1336.5,784.2 1326.5,784.6 1214.5,785.5 1070.5,785.0 1052.5,782.8 1000.5,778.9 992.5,777.5 970.5,778.3 906.5,766.6 862.5,760.8 838.5,759.0 680.5,759.6 634.5,764.0 532.5,760.8 526.5,759.1 520.5,758.8 420.5,758.8 410.5,760.7 274.5,762.6 250.5,762.7 240.5,761.0 180.5,761.3 168.5,763.1 154.5,763.9 150.5,765.4 142.5,770.9 120.5,777.8 86.5,780.7 84.5,780.6 78.5,777.2 74.5,777.2 74.5,371.6 82.5,372.3 104.5,381.7 130.5,391.3 162.5,400.9 236.5,425.9 270.5,434.2 306.5,438.9 390.5,460.1 402.5,461.8 422.1,472.5 432.9,482.5 436.3,488.5 437.0,492.5 436.0,496.5 432.5,503.4 418.5,515.5 395.6,530.5 386.4,538.5 382.5,544.1 381.0,548.5 382.3,562.5 377.8,578.5 372.5,588.5 370.5,598.0 372.1,606.5 374.5,610.8 393.9,628.5 406.7,642.5 409.3,648.5 408.5,655.8 398.3,662.5 384.6,668.5 374.0,672.5 337.5,682.5 324.1,688.5 320.6,692.5 319.8,696.5 321.1,700.5 327.0,706.5 346.5,717.6 370.5,727.7 396.5,733.7 404.7,734.5 408.5,735.9 418.6,736.5 422.5,737.9 498.5,738.1 504.5,737.7 508.5,736.3 530.5,736.0 535.1,734.5 546.5,734.0 550.8,732.5 560.5,731.9 564.4,730.5 572.5,729.7 598.5,724.3 656.5,709.9 671.6,704.5 675.8,702.5 682.5,696.4 700.9,686.5 706.8,678.5 707.5,674.5 706.2,670.5 690.5,656.0 684.5,648.4 680.8,638.5 681.5,632.5 682.5,628.5 686.5,621.2 703.0,598.5 712.5,580.3 720.1,560.5 731.8,522.5 738.1,492.5 738.1,466.5 736.2,458.5 736.8,448.5 745.7,404.5 748.7,370.5 752.2,356.5 759.4,302.5 762.5,293.6 770.5,282.4 790.5,263.1 812.5,245.1 840.5,223.9 872.5,202.7 906.5,185.4 940.5,171.4 968.5,164.0 990.5,160.1 1004.5,159.3Z"/>
<path fill="#0040ff" fill-rule="evenodd" d="M1091.8,166.5 1124.5,166.5 1134.5,168.1 1160.5,168.5 1170.5,170.1 1190.5,170.7 1206.5,174.1 1242.5,178.9 1290.5,193.0 1320.5,204.5 1329.0,208.5 1338.5,217.2 1340.3,222.5 1338.5,228.0 1307.8,252.5 1304.5,260.3 1304.5,264.9 1310.1,280.5 1310.8,286.5 1310.1,298.5 1304.0,316.5 1304.3,320.5 1306.5,326.1 1308.4,328.5 1322.4,338.5 1344.5,348.5 1394.5,368.9 1406.5,372.6 1414.5,373.2 1414.5,719.3 1406.5,718.6 1377.9,722.5 1358.5,726.8 1342.5,732.5 1339.2,734.5 1338.9,736.5 1340.3,740.5 1350.1,754.5 1351.3,760.5 1350.3,762.5 1347.6,764.5 1332.4,770.5 1324.5,772.6 1290.5,777.2 1226.5,778.4 1214.5,779.9 1132.5,779.9 1118.5,778.4 1074.5,777.7 1066.5,776.3 1030.5,773.4 974.5,765.9 900.5,753.0 850.5,746.8 836.5,746.1 824.5,743.1 758.5,742.5 710.5,740.6 682.5,736.0 676.5,737.0 671.6,736.5 659.0,732.5 660.8,730.5 674.5,724.0 682.5,716.4 718.5,701.8 758.4,682.5 768.0,676.5 771.7,672.5 773.6,668.5 771.4,664.5 765.3,660.5 734.5,648.5 724.2,642.5 718.5,637.3 716.0,626.5 716.5,622.5 720.2,612.5 728.1,598.5 731.5,590.5 745.0,542.5 755.3,514.5 759.8,498.5 761.8,488.5 760.4,470.5 761.2,420.5 769.1,380.5 783.4,322.5 788.5,307.8 794.5,296.5 839.8,260.5 871.8,238.5 908.5,216.9 936.5,203.5 952.5,197.1 976.5,189.9 1006.5,179.2 1022.5,174.8 1052.5,168.8 1072.5,168.3 1082.5,166.7ZM1188.5,694.1 1184.5,695.7 1181.1,698.5 1178.5,702.5 1179.1,704.5 1183.6,708.5 1198.5,713.5 1224.5,715.1 1244.5,714.0 1250.5,713.0 1252.9,710.5 1248.8,706.5 1238.4,700.5 1226.5,695.2 1218.5,693.0 1196.5,692.6ZM74.5,378.5 82.5,378.9 132.5,399.8 240.5,438.4 272.5,446.0 308.5,450.5 338.5,459.3 358.5,461.5 374.5,466.0 388.9,474.5 394.0,478.5 399.3,484.5 400.3,486.5 400.0,490.5 396.1,498.5 388.7,504.5 378.9,510.5 350.5,524.5 336.5,536.2 330.5,545.4 324.3,564.5 319.7,574.5 304.5,590.2 284.5,600.4 263.3,606.5 250.1,612.5 244.5,621.4 240.4,636.5 238.5,640.1 230.5,648.2 218.5,657.1 204.5,665.4 182.5,675.5 130.5,696.3 102.5,706.4 84.5,710.7 74.5,711.5Z"/>
<path fill="#0068ff" fill-rule="evenodd" d="M1114.5,178.5 1126.5,177.1 1138.5,178.6 1162.5,179.0 1198.5,183.3 1234.5,190.2 1251.9,194.5 1276.2,206.5 1283.8,214.5 1284.7,216.5 1282.8,218.5 1276.4,224.5 1242.7,242.5 1237.2,246.5 1235.9,248.5 1236.5,253.8 1238.6,256.5 1248.4,264.5 1268.4,278.5 1276.5,290.9 1278.3,296.5 1277.8,298.5 1268.5,317.5 1270.7,326.5 1283.7,334.5 1324.5,350.2 1406.5,377.8 1414.5,378.4 1414.5,700.6 1404.5,701.0 1360.5,708.4 1318.5,709.1 1296.5,705.6 1290.5,703.8 1270.5,695.9 1262.5,688.7 1257.2,686.5 1242.5,681.4 1222.5,676.7 1194.5,676.0 1178.5,679.0 1158.9,686.5 1141.1,698.5 1138.7,702.5 1148.4,712.5 1170.5,719.9 1182.5,722.5 1220.5,728.2 1237.1,732.5 1250.3,736.5 1270.7,744.5 1274.6,746.5 1280.1,752.5 1280.5,754.5 1278.7,758.5 1276.0,760.5 1258.9,766.5 1222.5,769.1 1212.5,771.2 1202.5,771.7 1134.5,772.3 1106.5,769.9 1076.5,766.0 984.5,747.6 980.5,747.5 974.5,749.3 968.5,749.1 952.5,746.1 898.5,738.1 872.5,735.4 850.5,731.5 824.5,728.7 792.5,728.8 768.5,725.8 760.5,723.1 759.6,720.5 759.9,714.5 761.6,712.5 767.9,708.5 792.5,697.0 827.9,684.5 862.5,677.4 924.5,668.4 980.5,655.4 996.5,647.6 1003.9,640.5 1004.7,638.5 1001.8,634.5 998.5,632.6 980.5,631.7 962.5,632.0 952.5,634.2 910.5,636.9 900.5,638.5 832.5,638.5 790.5,633.9 768.5,628.8 758.5,622.5 754.7,618.5 754.5,610.0 760.1,594.5 766.3,572.5 767.5,544.5 781.8,492.5 782.0,484.5 778.8,456.5 778.6,442.5 782.9,416.5 789.1,394.5 801.6,360.5 816.5,328.1 831.6,298.5 842.5,288.4 876.8,262.5 903.2,246.5 935.1,230.5 954.5,223.1 978.5,215.6 1000.5,204.3 1028.7,192.5 1058.5,183.2 1088.5,178.9ZM1296.5,619.9 1294.9,624.5 1295.5,626.5 1298.5,629.1 1300.5,629.5 1304.3,628.5 1307.5,624.5 1307.9,622.5 1304.5,619.1ZM1342.5,612.5 1330.3,614.5 1326.6,616.5 1324.6,618.5 1324.2,620.5 1324.6,622.5 1326.5,624.5 1341.5,630.5 1360.5,635.9 1390.5,638.8 1396.5,638.3 1398.6,636.5 1400.6,632.5 1401.4,624.5 1399.8,618.5 1397.6,616.5 1381.1,612.5 1360.5,611.4ZM74.5,384.5 74.5,383.6 82.5,384.5 132.5,407.8 214.5,439.3 234.5,447.9 252.5,453.9 276.5,458.6 284.5,457.4 304.5,457.5 316.5,462.0 324.5,462.8 355.0,478.5 357.7,480.5 360.4,484.5 360.8,488.5 357.0,494.5 351.9,498.5 332.8,508.5 296.5,524.4 291.0,528.5 287.1,536.5 282.8,554.5 274.5,564.7 267.3,568.5 258.5,571.7 240.5,576.4 230.5,577.7 224.5,580.3 202.5,586.4 189.5,592.5 182.5,600.5 177.5,620.5 174.7,626.5 172.5,629.3 167.6,632.5 156.5,637.4 148.5,639.4 140.5,640.1 112.5,640.3 86.5,633.8 78.5,636.6 74.5,636.6ZM74.5,652.5 74.5,650.9 78.5,650.9 84.5,654.7 90.5,662.8 92.9,668.5 92.9,674.5 91.0,678.5 85.6,684.5 80.5,687.2 74.5,687.2Z"/>
<path fill="#0094ff" fill-rule="evenodd" d="M1100.3,192.5 1158.5,192.4 1168.5,194.1 1180.5,194.7 1197.4,198.5 1207.3,204.5 1209.4,206.5 1209.6,208.5 1202.5,214.8 1194.5,219.3 1188.5,221.4 1174.5,222.3 1168.5,223.7 1138.5,224.0 1128.5,225.6 1084.5,225.2 1054.1,218.5 1049.6,214.5 1045.7,208.5 1045.3,206.5 1046.5,204.4 1054.5,199.2 1078.5,194.6 1092.5,194.0ZM984.0,252.5 996.5,253.9 1016.5,254.1 1054.5,258.3 1146.5,271.1 1176.0,276.5 1180.1,278.5 1180.9,280.5 1181.2,294.5 1182.5,300.5 1184.5,304.5 1181.4,308.5 1180.6,310.5 1181.2,312.5 1187.6,316.5 1212.6,328.5 1229.2,334.5 1256.5,339.6 1290.5,348.6 1360.5,368.4 1406.5,382.7 1414.5,383.4 1414.5,590.3 1362.5,590.5 1330.5,594.1 1264.5,595.2 1202.5,604.9 1180.5,604.0 1174.5,602.8 1160.5,602.3 1150.5,600.9 1108.5,601.4 1084.5,604.8 1032.5,609.7 974.5,618.4 962.5,618.9 954.5,620.3 934.5,620.8 924.5,622.3 878.5,623.2 852.5,621.8 838.5,619.5 830.5,617.1 815.0,608.5 809.7,600.5 806.9,584.5 805.7,562.5 801.0,544.5 797.4,524.5 799.4,506.5 804.1,478.5 803.2,466.5 800.4,458.5 796.0,438.5 796.3,420.5 800.8,402.5 809.1,388.5 818.5,379.0 828.5,371.5 851.5,358.5 870.5,345.1 878.5,332.7 887.0,316.5 892.1,296.5 906.5,281.6 928.3,268.5 950.5,259.3 976.5,252.8ZM74.5,390.5 74.5,388.6 82.5,389.4 132.5,416.2 162.5,428.9 179.5,434.5 199.3,442.5 218.8,452.5 230.5,461.8 238.0,464.5 242.5,469.7 248.5,470.1 260.5,467.4 274.5,466.9 280.5,465.8 296.5,467.6 305.5,470.5 313.4,476.5 315.9,480.5 315.2,486.5 309.9,490.5 300.5,494.4 280.5,492.8 260.5,485.8 254.3,490.5 248.5,493.0 242.5,493.7 230.5,492.4 228.5,494.2 227.0,498.5 226.4,508.5 231.7,534.5 231.8,540.5 230.7,544.5 227.3,550.5 220.5,556.5 212.5,560.0 192.5,566.1 142.5,575.8 98.5,588.3 74.5,589.1ZM1077.7,640.5 1090.5,638.8 1118.5,639.4 1150.2,644.5 1171.5,650.5 1170.5,655.7 1165.5,660.5 1136.3,680.5 1092.8,706.5 1083.4,714.5 1082.6,718.5 1086.2,722.5 1096.5,726.6 1110.5,729.6 1170.5,739.0 1184.5,743.0 1194.5,746.8 1200.5,750.5 1200.5,752.5 1198.1,754.5 1190.5,758.1 1164.5,761.5 1146.5,761.8 1104.5,757.7 1080.5,752.5 1060.9,746.5 1052.5,741.1 1046.5,734.3 1040.5,729.4 1032.5,725.4 1022.5,722.7 976.5,712.9 964.5,711.1 940.5,710.8 908.5,705.7 892.3,704.5 902.5,703.7 928.5,695.1 944.5,691.7 976.5,681.9 1022.5,657.1 1032.5,652.7 1066.5,641.7ZM1263.8,644.5 1274.5,643.0 1302.5,643.0 1310.5,644.3 1324.5,644.8 1346.5,648.7 1364.5,653.5 1381.6,660.5 1397.2,670.5 1400.4,676.5 1398.5,680.7 1394.1,684.5 1379.0,690.5 1362.5,693.8 1344.5,696.1 1330.5,696.3 1302.5,691.8 1275.9,682.5 1264.5,675.4 1240.0,664.5 1228.7,656.5 1227.5,654.5 1227.7,650.5 1231.0,648.5 1246.5,644.9Z"/>
<path fill="#00c0ff" fill-rule="evenodd" d="M994.4,282.5 1002.5,281.2 1032.5,281.4 1046.5,283.7 1056.3,286.5 1064.6,290.5 1066.3,292.5 1066.4,296.5 1064.0,304.5 1064.5,308.5 1069.8,312.5 1080.4,316.5 1129.6,326.5 1142.5,327.3 1148.5,328.9 1160.5,329.7 1190.5,334.0 1232.5,343.8 1264.5,349.1 1358.5,372.9 1406.5,387.9 1414.5,388.6 1414.5,563.3 1368.5,563.3 1344.5,567.1 1326.5,571.7 1306.5,572.5 1298.5,573.8 1270.5,570.6 1244.5,569.1 1210.5,578.0 1188.5,581.7 1138.5,584.9 1124.5,587.1 1116.5,589.8 1084.5,594.1 974.5,606.3 894.5,605.1 870.6,600.5 863.0,596.5 857.9,592.5 850.5,581.1 838.9,550.5 833.0,528.5 830.7,514.5 829.9,498.5 827.0,482.5 811.5,456.5 805.2,438.5 804.8,418.5 808.5,405.9 817.4,392.5 825.2,384.5 840.5,375.0 891.2,350.5 918.5,334.7 932.5,322.4 954.5,296.4 968.5,289.7ZM74.5,394.5 74.5,393.8 80.5,394.0 92.1,400.5 124.5,422.8 143.1,438.5 145.5,442.5 145.9,446.5 143.7,452.5 136.6,464.5 136.5,471.4 137.5,476.5 144.5,483.5 152.1,488.5 176.5,494.1 189.1,502.5 196.4,516.5 198.6,524.5 198.5,530.5 196.5,536.7 191.2,542.5 188.1,544.5 181.5,546.5 158.5,551.6 130.5,555.0 98.5,560.7 74.5,563.1ZM1076.2,656.5 1088.5,655.1 1102.5,656.8 1106.5,658.5 1109.7,662.5 1110.7,666.5 1106.4,672.5 1102.5,675.8 1088.5,682.1 1068.5,686.9 1048.5,686.1 1042.5,682.4 1038.7,678.5 1038.2,676.5 1038.9,674.5 1048.5,665.8 1066.5,658.7ZM1318.9,660.5 1326.5,660.6 1342.5,663.1 1354.7,668.5 1356.9,670.5 1358.3,674.5 1356.5,677.0 1352.5,679.5 1338.5,682.3 1332.5,682.4 1314.5,679.4 1300.2,672.5 1296.6,668.5 1296.7,666.5 1302.5,663.2Z"/>
<path fill="#02e8f4" fill-rule="evenodd" d="M981.7,330.5 988.5,329.6 1022.5,329.1 1090.5,330.1 1102.5,332.0 1138.5,334.7 1190.5,340.9 1234.5,350.1 1264.5,354.8 1300.5,363.0 1362.5,379.2 1406.5,393.4 1414.5,394.1 1414.5,545.5 1406.5,545.7 1392.5,548.4 1384.5,548.4 1376.5,547.1 1360.5,546.7 1324.5,542.1 1286.5,539.8 1280.5,538.5 1250.5,538.5 1244.5,539.8 1230.5,540.4 1224.5,541.9 1216.4,542.5 1189.4,548.5 1154.5,563.5 1142.5,567.8 1116.5,575.9 1084.5,581.8 1054.5,585.8 1036.5,586.5 1028.5,587.9 1014.5,588.5 1008.5,589.7 978.5,592.1 960.5,590.9 948.4,586.5 944.5,584.2 941.9,580.5 935.7,562.5 926.8,554.5 921.6,552.5 908.5,549.9 884.5,542.1 870.5,533.7 867.1,530.5 857.4,514.5 852.5,498.1 844.3,478.5 836.5,463.3 834.5,460.5 824.5,452.6 816.4,442.5 813.5,434.5 813.5,420.5 818.0,410.5 824.5,401.8 838.5,389.8 847.3,384.5 916.5,349.4 938.5,339.7 952.5,335.8 976.5,332.7ZM74.5,400.5 74.5,399.7 80.5,400.1 85.1,402.5 110.7,422.5 118.5,430.2 121.5,434.5 122.8,438.5 122.2,444.5 116.1,462.5 117.7,476.5 126.5,493.5 142.5,516.4 143.3,520.5 142.5,525.7 140.3,528.5 127.6,536.5 104.5,544.1 84.5,548.3 78.5,548.7 74.5,548.7Z"/>
<path fill="#26ffd1" fill-rule="evenodd" d="M1074.1,336.5 1090.5,336.7 1098.5,338.1 1128.5,338.6 1194.5,346.9 1284.5,364.7 1320.5,372.9 1364.5,384.8 1406.5,399.6 1414.5,400.2 1414.5,532.8 1404.5,533.0 1388.5,536.3 1380.5,536.5 1338.5,536.0 1328.5,534.5 1296.5,533.8 1280.5,532.0 1244.5,532.5 1150.5,546.0 1134.5,550.1 1120.5,555.9 1090.5,565.6 1072.5,567.8 1054.5,568.1 1014.5,567.9 998.5,565.7 994.5,564.5 984.5,554.5 976.5,550.1 944.5,548.0 928.5,543.9 904.7,540.5 886.0,534.5 872.5,524.9 864.5,510.9 859.7,484.5 860.4,470.5 858.5,460.6 834.5,441.0 829.3,430.5 829.1,424.5 831.9,414.5 841.2,402.5 848.3,396.5 872.1,380.5 918.5,357.4 944.5,346.9 970.5,342.5 994.5,341.7 1024.5,338.3 1060.5,337.9ZM74.5,408.5 74.5,406.9 80.5,407.1 86.5,410.6 98.9,422.5 105.7,432.5 107.0,438.5 106.2,446.5 103.1,458.5 103.0,466.5 105.3,478.5 112.3,496.5 114.9,510.5 112.3,520.5 110.5,523.5 107.0,526.5 94.5,533.5 78.5,537.6 74.5,537.6Z"/>
<path fill="#49ffad" fill-rule="evenodd" d="M1057.9,342.5 1130.5,342.7 1166.5,348.1 1176.5,348.8 1212.5,354.9 1282.5,368.9 1334.5,381.2 1362.5,389.4 1406.5,407.0 1414.5,407.9 1414.5,521.4 1408.5,521.4 1396.5,524.6 1382.5,526.6 1298.5,526.5 1280.5,524.8 1258.5,524.9 1194.5,534.2 1176.5,536.2 1160.5,536.7 1152.5,538.1 1128.5,539.0 1096.5,544.8 1086.5,545.0 1048.5,541.0 990.5,531.3 968.5,530.3 912.5,519.5 898.7,514.5 895.5,512.5 892.5,508.7 886.3,496.5 885.0,478.5 886.2,462.5 885.3,460.5 861.6,442.5 854.5,435.2 849.6,426.5 849.1,422.5 850.5,418.5 858.2,404.5 874.1,390.5 890.5,379.7 918.5,365.2 944.5,354.9 974.5,349.2 994.5,348.0 1022.5,344.4ZM83.0,430.5 86.5,429.6 88.5,432.3 89.0,440.5 87.5,458.5 99.6,496.5 100.1,508.5 98.6,514.5 92.5,520.8 82.5,525.3 74.5,525.7 74.5,431.6Z"/>
<path fill="#6aff8d" fill-rule="evenodd" d="M1065.4,346.5 1132.5,346.6 1198.5,356.7 1262.5,368.9 1314.5,380.7 1332.5,385.5 1365.2,396.5 1386.5,406.9 1406.5,421.6 1414.5,422.8 1414.5,512.0 1408.5,512.2 1390.5,518.2 1366.5,518.9 1356.5,520.2 1318.5,520.2 1308.5,518.8 1280.5,518.3 1250.5,518.7 1176.5,530.3 1128.5,530.7 1116.5,534.2 1088.5,534.6 1066.5,532.1 970.5,514.3 950.5,507.3 939.1,498.5 935.5,494.5 927.9,462.5 890.5,444.9 876.3,434.5 870.1,426.5 868.4,422.5 868.9,418.5 878.5,400.6 892.0,388.5 902.5,381.9 918.5,373.3 944.5,362.9 980.5,354.7 1026.5,348.6 1050.5,348.1Z"/>
<path fill="#8dff6a" fill-rule="evenodd" d="M1074.9,350.5 1132.5,350.3 1208.5,362.7 1260.5,372.7 1296.5,380.7 1328.5,389.4 1358.5,400.7 1365.0,404.5 1380.7,416.5 1393.9,434.5 1402.5,450.2 1414.5,450.2 1414.5,502.8 1408.5,503.2 1392.5,509.7 1374.5,512.1 1318.5,512.7 1290.5,512.1 1278.5,510.7 1258.5,510.7 1202.5,520.3 1172.5,524.4 1140.5,524.5 1128.5,523.2 1124.5,524.0 1120.5,526.3 1106.5,528.3 1074.5,524.4 1008.5,512.3 992.5,508.1 976.5,501.5 968.5,496.2 962.6,486.5 960.6,480.5 958.3,462.5 955.5,460.5 940.5,456.5 911.3,444.5 896.5,434.5 890.1,428.5 884.8,420.5 885.1,416.5 888.4,408.5 904.5,391.9 923.7,380.5 938.5,373.3 950.5,369.0 972.5,363.7 984.5,359.6 1014.5,355.0 1030.5,352.9 1054.5,352.4Z"/>
<path fill="#b1ff46" fill-rule="evenodd" d="M1080.9,354.5 1108.5,354.5 1130.5,353.3 1260.5,376.9 1296.5,385.3 1328.5,395.6 1352.2,408.5 1357.0,412.5 1365.9,422.5 1374.5,437.7 1383.1,456.5 1384.5,458.5 1390.5,462.5 1397.6,470.5 1401.6,476.5 1404.1,484.5 1403.1,488.5 1397.4,496.5 1386.5,501.1 1376.5,503.8 1354.5,506.1 1314.5,506.3 1282.5,504.1 1274.5,502.7 1260.5,502.7 1244.5,505.1 1200.5,514.3 1174.5,518.2 1140.5,518.5 1126.5,517.2 1120.5,520.7 1116.5,521.9 1094.5,520.2 1070.5,516.3 1020.5,505.9 1002.2,500.5 990.5,494.6 983.7,486.5 981.1,480.5 979.9,464.5 978.5,460.3 962.5,453.0 943.0,446.5 925.7,438.5 915.9,432.5 908.5,426.6 902.8,418.5 902.6,414.5 904.6,410.5 912.5,399.4 926.5,389.6 952.5,377.0 974.5,370.2 982.5,366.9 1038.5,356.9 1064.5,356.2Z"/>
<path fill="#d1ff26" fill-rule="evenodd" d="M1085.9,358.5 1108.5,358.5 1122.5,356.7 1130.5,356.8 1258.5,380.9 1292.5,389.4 1318.5,400.0 1326.4,404.5 1334.5,410.7 1346.1,424.5 1362.5,458.5 1368.5,461.8 1376.5,469.4 1379.2,476.5 1379.6,480.5 1378.7,484.5 1374.5,490.5 1369.4,492.5 1358.5,495.5 1342.5,497.9 1296.5,498.2 1270.5,494.7 1260.5,494.8 1198.5,508.1 1174.5,512.3 1136.5,512.5 1124.5,511.6 1116.5,514.4 1100.5,514.0 1074.5,509.8 1052.5,505.5 1019.9,496.5 1007.8,490.5 1002.0,482.5 1001.6,470.5 1006.2,452.5 1004.7,446.5 1002.5,443.2 986.5,439.7 974.5,441.5 966.5,440.2 954.5,437.5 940.9,432.5 929.5,426.5 922.5,421.3 919.9,416.5 919.6,410.5 922.1,406.5 928.0,400.5 942.1,390.5 952.5,385.1 972.5,377.8 982.5,373.2 1028.5,363.1 1048.5,361.0 1070.5,360.4 1078.5,358.8Z"/>
<path fill="#f4f802" fill-rule="evenodd" d="M1099.7,362.5 1130.5,361.1 1256.5,385.9 1281.1,392.5 1296.3,398.5 1313.9,410.5 1322.5,420.5 1339.6,458.5 1350.6,468.5 1351.8,474.5 1350.5,478.5 1346.5,481.5 1335.5,484.5 1324.5,486.8 1300.5,489.4 1272.5,486.5 1258.5,487.0 1196.5,502.1 1170.5,506.4 1104.5,506.3 1070.5,499.7 1047.7,492.5 1039.3,488.5 1033.7,484.5 1030.1,478.5 1030.5,475.1 1032.7,470.5 1036.5,466.0 1060.8,444.5 1061.9,442.5 1060.3,440.5 1048.5,434.5 1028.5,428.2 996.5,424.8 982.5,425.0 974.5,426.9 962.5,423.7 954.9,420.5 944.5,414.5 939.7,408.5 938.9,406.5 939.6,404.5 944.1,400.5 956.4,392.5 986.5,379.3 1036.5,367.3 1074.5,364.5 1082.5,363.0Z"/>
<path fill="#ffd000" fill-rule="evenodd" d="M1082.5,368.5 1098.5,366.9 1130.5,366.6 1164.5,372.1 1212.5,383.2 1246.5,393.8 1270.1,402.5 1278.3,406.5 1283.2,410.5 1291.2,418.5 1296.5,426.1 1304.6,444.5 1306.5,458.5 1303.9,462.5 1299.0,466.5 1292.3,470.5 1284.5,473.1 1256.5,478.9 1200.5,494.4 1170.5,500.0 1134.5,500.0 1126.5,498.8 1114.5,499.6 1096.5,495.8 1086.8,492.5 1070.9,484.5 1067.8,480.5 1066.8,476.5 1070.5,468.5 1096.7,442.5 1097.5,440.5 1096.1,438.5 1076.5,429.2 1046.5,419.3 1028.5,414.9 1012.5,413.7 1002.5,411.4 984.5,409.5 974.5,406.5 971.4,402.5 972.1,400.5 985.0,392.5 1022.5,379.0 1036.5,375.1Z"/>
<path fill="#ffab00" fill-rule="evenodd" d="M1118.6,372.5 1148.5,373.6 1164.5,376.0 1188.6,382.5 1210.0,392.5 1231.8,406.5 1242.5,416.2 1253.9,424.5 1260.5,433.4 1264.5,444.8 1265.0,450.5 1264.5,456.0 1260.7,464.5 1258.6,466.5 1243.8,474.5 1219.7,484.5 1196.5,489.4 1174.5,492.1 1154.5,492.4 1144.5,490.8 1114.5,489.5 1110.2,488.5 1097.7,482.5 1094.5,479.0 1093.7,476.5 1094.5,473.3 1098.9,466.5 1103.7,462.5 1134.2,444.5 1139.2,440.5 1141.3,436.5 1138.4,434.5 1128.0,430.5 1078.5,417.8 1037.6,404.5 1028.6,400.5 1024.9,396.5 1032.9,390.5 1056.5,380.3 1088.5,373.4Z"/>
<path fill="#ff8200" fill-rule="evenodd" d="M1110.1,380.5 1118.5,379.1 1136.5,379.2 1156.7,382.5 1171.2,388.5 1180.5,396.5 1181.4,400.5 1178.8,404.5 1173.7,406.5 1164.5,409.7 1150.5,412.4 1120.5,412.5 1096.5,407.9 1085.4,404.5 1073.5,398.5 1071.4,396.5 1072.3,394.5 1079.2,388.5 1092.6,382.5 1098.5,381.1ZM1176.7,454.5 1182.5,453.0 1194.5,453.1 1200.5,454.8 1210.5,455.7 1214.5,457.3 1218.9,460.5 1220.4,462.5 1220.5,464.5 1216.9,472.5 1210.5,475.8 1198.5,479.8 1186.5,482.2 1162.5,484.3 1140.5,482.0 1132.5,480.1 1124.5,476.9 1122.2,474.5 1122.3,472.5 1126.1,468.5 1130.5,465.6 1138.4,462.5 1150.5,458.4 1162.5,455.8Z"/>
<path fill="#ff5900" fill-rule="evenodd" d="M1109.6,390.5 1134.5,390.1 1142.2,392.5 1144.9,394.5 1143.7,396.5 1139.8,398.5 1122.5,400.4 1110.5,398.6 1102.5,394.9 1102.5,394.0 1104.5,392.5Z"/>
<g fill="none" stroke="#000" stroke-width="4.2" stroke-linejoin="round" stroke-linecap="round">
<path d="M80.1,192.8 85.0,192.3 88.1,193.5 84.1,195.2 80.1,194.9M80.1,201.9 88.5,204.5 97.2,207.5 107.7,208.5 115.6,212.0 113.8,215.0 106.0,214.5 104.2,219.0 97.2,217.6 90.2,214.1 83.2,212.9 80.1,213.8M107.7,222.0 114.7,221.4 120.8,222.8 116.4,224.6 109.4,223.7 107.7,222.0M303.0,199.3 292.9,199.3 285.9,197.5 280.7,199.3 271.9,195.8 266.7,197.0 252.7,199.3 239.6,201.9 226.5,199.3 209.0,197.5 191.6,196.3 175.8,194.9 165.4,192.3 153.1,194.9 142.6,197.5 135.7,201.0 127.8,202.8 130.4,205.4 138.3,207.1 146.1,210.6 147.9,213.2 140.9,214.1 130.4,213.2 122.5,214.1 130.4,217.6 142.6,217.6 150.5,218.5 149.6,222.0 140.9,222.8 133.9,225.5 130.4,229.8 132.2,233.3 125.2,235.1 130.4,236.5 139.1,235.1 146.1,238.6 154.9,238.6 163.6,239.4 161.9,243.8 154.9,247.3 144.4,252.5 135.7,256.0 147.9,252.5 160.1,248.2 170.6,243.8 175.8,247.3 182.8,243.8 179.3,241.2 175.0,237.7 182.8,233.3 188.9,230.7 184.6,235.1 182.8,237.7 191.6,235.9 198.5,235.1 200.3,231.6 210.8,234.2 221.3,235.1 230.0,237.7 238.7,242.1 251.0,242.4 254.5,247.3 259.7,251.7 265.8,256.9 269.3,262.2 273.7,264.8 271.9,271.8 278.9,273.5 287.6,277.0 294.6,280.5 293.8,284.0 289.4,280.5 286.8,284.0 287.6,296.0M252.7,256.9 258.8,257.8 260.6,264.8 256.2,263.0 252.7,259.5 252.7,256.9M303.0,169.6 294.6,173.1 292.9,174.8 303.0,176.5M303.0,180.0 284.1,181.8 286.8,184.4 280.7,190.5 287.6,193.1 296.4,193.1 303.0,190.5M303.0,199.3 318.7,203.6 329.2,205.4 343.2,207.1 353.7,201.9 364.1,203.6 372.9,206.2 385.1,205.4 392.1,207.1 399.1,202.8 393.8,199.3 379.9,201.0 376.4,199.3 390.4,196.6 400.8,199.3 407.8,198.4 414.8,201.9 423.5,207.1 431.4,202.8 428.8,200.1 421.8,197.5 416.6,193.1 414.8,188.8 419.2,185.3 428.8,187.9 439.3,184.4 448.0,186.2 453.2,187.9 465.5,186.2 474.2,192.3 486.4,192.3 498.7,196.6 502.2,201.0 495.2,202.8 507.4,205.4 519.6,208.9 521.4,211.5 512.6,216.7 505.7,214.1 496.9,212.4 500.4,216.7 510.0,220.2 509.1,224.6 503.9,227.2 495.2,224.6 486.4,222.8 476.0,218.5 460.2,218.5 469.0,215.0 477.7,210.6 479.5,207.1 470.7,204.5 463.7,201.9 456.7,198.4 448.0,200.1 446.3,205.4 448.0,208.9 439.3,211.5 432.3,210.6 425.3,217.6 414.8,220.2 407.8,223.7 400.8,229.8 397.3,235.1 398.2,239.4 403.5,240.3 406.1,245.6 416.6,245.6 425.3,249.1 435.8,252.5 444.5,252.5 445.4,259.5 449.8,265.6 453.2,268.3 457.6,264.8 456.7,260.4 453.2,255.2 460.2,252.5 466.3,248.2 463.7,243.8 458.5,240.3 462.9,235.1 460.2,229.8 460.2,226.3 470.7,227.2 477.7,226.3 484.7,229.8 491.7,231.6 492.6,236.8 498.7,242.1 505.7,238.6 510.9,234.2 516.1,240.3 521.4,245.6 520.5,249.1 528.0,252.5M303.0,168.7 317.0,169.6 310.0,173.9 303.0,174.8M325.7,167.8 334.4,164.3 342.3,166.1 337.9,169.6 329.2,170.4 325.7,167.8M303.0,178.3 313.5,176.5 325.7,180.0 337.9,179.2 343.2,173.1 353.7,174.8 357.2,178.3 346.7,180.9 334.4,183.5 324.0,182.7 313.5,184.4 303.0,187.0M303.0,191.4 313.5,193.1 322.2,196.6 331.8,196.6 324.0,199.3 313.5,198.4 303.0,194.9M320.5,187.9 332.7,186.2 341.4,187.9 346.7,191.4 350.2,186.2 358.9,183.5 362.4,189.7 365.9,194.9 374.6,197.5 369.4,201.0M356.3,164.3 365.9,162.6 378.1,165.2 379.9,168.7 369.4,168.7 358.9,166.9 356.3,164.3M366.8,174.8 376.4,173.1 385.1,173.1 386.9,178.3 378.1,180.0 369.4,178.3 366.8,174.8M367.6,187.9 376.4,184.4 386.9,184.4 389.5,189.7 383.4,193.1 374.6,192.3 367.6,187.9M388.6,160.0 397.3,155.6 411.3,153.8 425.3,151.2 441.0,149.5 460.2,148.1 486.4,148.1 509.1,148.6 522.3,149.5 528.0,152.1M528.0,154.7 512.6,155.6 498.7,154.7 505.7,158.2 495.2,160.8 484.7,162.6 470.7,163.4 463.7,163.4 470.7,166.1 460.2,169.6 453.2,170.4 461.1,173.1 453.2,174.8 442.8,173.9 432.3,173.9 421.8,173.1 414.8,173.1 425.3,176.5 435.8,177.4 448.0,177.8 453.2,180.0 448.0,182.7 437.5,182.7 428.8,181.8 421.8,180.9 414.8,182.7 407.8,185.3 400.8,184.4 393.8,182.7 390.4,178.3 397.3,175.7 404.3,173.9 400.8,169.6 393.8,166.9 386.9,164.3 381.6,164.3 388.6,160.0M409.6,153.8 421.8,156.5 435.8,158.2 446.3,158.6 435.8,160.8 428.8,164.3 421.8,163.4 411.3,164.3 400.8,163.4 393.8,160.0 400.8,157.3 409.6,153.8M414.8,167.8 425.3,168.7 434.9,169.0 425.3,171.3 416.6,170.4 414.8,167.8M477.7,167.8 488.2,166.1 500.4,164.3 509.1,161.7 500.4,166.9 503.0,169.6 493.4,169.6 484.7,171.3 477.7,167.8M482.9,172.5 495.2,175.7 512.6,175.3 528.0,176.5M432.3,217.6 442.8,219.4 451.5,221.1 442.8,224.6 435.8,222.8 432.3,217.6M451.5,225.5 456.7,227.2 454.1,229.8 450.6,227.7 451.5,225.5M462.0,205.4 470.7,206.2 471.6,208.9 463.7,208.9 462.0,205.4M528.0,270.9 512.6,271.8 502.2,272.6 493.4,277.0 485.6,284.0 495.2,280.5 507.4,277.0 517.9,276.1 528.0,274.4M509.1,280.5 510.9,285.7 521.4,284.0 528.0,283.1M528.0,287.5 512.6,289.2 500.4,291.9 491.7,296.0M528.0,175.7 533.2,177.4 538.5,181.8 545.5,187.9 542.8,191.4 550.7,192.3 559.4,194.9 562.9,198.7 560.3,202.8 553.3,204.0 547.2,201.0 546.3,196.6 553.3,204.5 549.8,208.9 551.6,213.2 556.0,216.7 557.7,221.1 562.9,224.6 566.4,229.8 571.7,232.5 578.7,232.5 583.9,235.9 589.1,235.9 591.8,232.5 594.4,228.1 591.8,225.5 597.9,222.8 599.6,218.5 603.1,214.5 611.9,213.2 622.3,210.6 627.6,207.1 632.8,204.5 641.6,204.0 650.3,201.9 659.0,199.3 667.8,197.5 671.3,193.1 666.0,190.5 653.8,197.5 657.3,192.3 660.8,187.9 667.8,185.3 673.9,184.4 680.0,181.8 679.1,177.4 671.3,173.9 676.5,173.1 683.5,171.3 678.2,168.7 680.0,164.3 678.2,160.0 685.2,160.0 695.7,158.2 707.9,156.5 706.2,153.8 694.0,153.0 680.0,153.8 666.0,155.6 650.3,153.3 632.8,152.6 646.8,151.6 660.8,151.2 675.6,149.5 664.3,147.7 646.8,146.0 625.8,145.6 606.6,146.0 590.9,147.7 578.7,149.5 585.7,153.8 575.2,152.6 564.7,150.9 554.2,153.3 542.0,151.6 528.0,152.1M660.8,214.1 667.8,210.6 676.5,213.2 685.2,211.5 696.6,210.6 702.7,215.9 695.7,220.2 683.5,222.8 673.0,222.0 666.0,221.1 662.5,217.6 660.8,214.1M670.4,214.1 673.0,217.6M528.0,251.7 535.0,253.4 540.2,257.8 544.6,262.2 545.5,267.4 538.5,268.3 531.5,270.9 528.0,271.8M536.7,270.0 533.2,275.3 529.7,280.5 538.5,281.4 545.5,282.2 543.7,284.9 550.7,285.7 555.1,283.1 554.2,277.0 549.0,274.4 543.7,275.3 538.5,273.5 536.7,270.0M728.9,245.6 732.4,241.2 737.6,240.0 742.0,241.2 737.6,243.8 745.5,243.8 744.6,247.3 740.3,249.1 746.4,252.5 753.0,257.8M715.8,256.9 721.9,253.4 728.9,252.5 730.7,257.8 727.2,263.9 720.2,266.5 714.1,266.5 717.6,262.2 715.8,256.9M732.4,250.8 735.9,254.3 741.1,256.0 737.6,259.5 734.1,262.2 735.9,267.4 740.3,270.0 732.4,271.8 730.7,273.5 737.6,274.4 746.4,273.5 753.0,272.6M735.0,277.9 737.6,280.5 744.6,283.1 748.1,287.5 747.3,296.0M790.6,160.8 803.7,159.1 817.6,158.2 831.6,157.3 847.3,158.2 856.1,160.0 850.8,163.1 836.9,164.3 845.6,166.9 844.7,170.4 831.6,170.4 828.1,167.8 822.9,166.9 818.5,171.3 812.4,173.9 805.4,172.2 796.7,166.9 790.6,160.8M920.7,157.3 934.7,156.1 946.9,157.3 945.2,160.0 931.2,160.8 921.6,160.0 920.7,157.3M753.0,274.4 756.5,273.5 758.2,270.0 763.5,268.3 767.8,265.6 770.5,261.3 775.7,259.5 782.7,260.4 787.1,257.8 788.8,252.5 793.2,252.5 787.9,245.6 783.6,245.6 782.7,250.8 787.1,254.3 792.3,258.7 798.4,256.9 805.4,259.5 813.3,256.0 821.1,255.2 826.4,256.9 832.5,252.5 830.7,248.2 835.1,243.8 838.6,245.6 843.0,246.4 843.8,241.2 839.5,237.7 845.6,238.6 856.1,238.6 863.1,235.4 859.6,233.0 850.8,233.3 842.1,235.1 835.1,233.3 831.6,229.8 832.5,225.5 836.9,221.1 843.8,218.5 849.1,215.9 843.8,212.4 836.9,213.2 831.6,215.9 833.4,219.4 828.1,221.1 820.3,224.6 816.8,229.0 819.4,231.6 823.8,234.2 822.0,237.7 815.9,239.4 815.0,243.8 813.3,249.1 807.2,249.9 801.9,251.7 799.3,247.3 795.8,241.2 792.3,236.8 787.9,239.4 781.0,242.9 774.0,241.2 771.3,235.1 770.5,228.1 775.7,223.7 786.2,220.2 796.7,214.1 807.2,206.2 817.6,201.0 828.1,197.0 838.6,195.8 843.8,193.1 857.8,192.8 866.6,194.9 870.1,198.4 875.3,199.3 885.8,200.1 896.3,202.8 906.7,206.2 907.6,209.7 899.8,211.5 889.3,210.3 877.0,209.7 882.3,213.2 884.0,218.5 891.0,221.1 892.8,216.7 901.5,217.6 905.0,214.1 910.2,211.5 917.2,212.4 918.1,207.1 914.6,202.8 926.0,203.6 929.5,208.9 934.7,206.2 945.2,203.6 955.7,201.9 962.6,203.6 971.4,202.8 978.0,201.0M978.0,173.9 969.6,175.7 960.9,178.3 953.9,183.5 946.9,187.9 945.2,192.3 952.2,194.0 962.6,195.8 969.6,194.9 962.6,191.4 960.0,188.8 966.1,183.5 973.1,180.0 978.0,178.8M753.0,257.8 755.6,262.2 760.0,263.0 758.2,270.0M797.5,296.0 798.4,290.1 802.8,288.4 808.9,291.9 811.5,296.0M779.2,296.0 786.2,293.6 790.6,296.0M858.7,296.0 861.3,290.1 868.3,284.9 873.5,285.7 878.8,291.0 883.2,290.1 884.0,286.6 892.8,284.0 900.6,283.1 896.3,286.6 887.5,287.5 891.0,291.0 898.0,294.5 900.6,296.0M927.7,296.0 929.5,291.0 936.4,285.7 945.2,283.1 953.0,284.9 952.2,290.1 943.4,291.9 939.9,296.0M978.0,178.3 988.5,174.8 1000.7,172.2 1011.2,173.1 1007.7,175.7 995.5,177.1 985.0,178.8 978.0,180.0M978.0,199.3 985.0,198.4 993.7,200.1 1002.5,202.8 1010.3,204.5 1012.1,201.9 1004.2,199.3 1002.5,194.9 1007.7,191.4 1012.1,187.0 1019.9,186.2 1026.0,187.9 1023.4,192.3 1026.9,196.6 1025.2,201.9 1032.2,202.8 1033.0,207.1 1025.2,211.5 1019.9,212.4 1025.2,208.9 1028.7,205.4 1030.4,200.1 1032.2,193.1 1039.1,193.1 1033.9,187.9 1044.4,188.8 1054.9,189.7 1058.4,191.4 1054.9,184.4 1065.4,183.5 1077.6,183.5 1075.8,180.0 1086.3,177.8 1100.3,175.7 1114.3,175.3 1126.5,173.9 1131.7,173.1 1128.2,167.8 1135.2,166.1 1145.7,165.2 1148.3,167.8 1142.2,169.6 1152.7,172.2 1154.5,173.9 1166.7,173.1 1177.2,173.9 1180.7,176.5 1178.9,179.2 1168.4,180.9 1163.2,182.7 1173.7,183.5 1178.9,185.3 1187.6,183.5 1198.1,184.4 1203.0,186.2M1093.3,159.1 1102.0,155.6 1112.5,154.7 1121.3,157.3 1128.2,160.8 1126.5,164.3 1117.8,165.2 1107.3,164.3 1100.3,161.7 1093.3,159.1M1185.0,183.5 1197.2,183.5 1199.0,186.2 1214.7,186.5 1215.6,183.5 1228.7,184.4 1235.7,187.0 1234.8,190.5 1244.4,194.0 1248.8,190.5 1256.6,192.3 1267.1,191.4 1277.6,192.3 1275.8,187.9 1282.8,187.0 1296.8,187.9 1312.5,188.8 1319.5,192.3 1326.5,194.0 1338.7,193.1 1349.2,194.0 1352.7,198.4 1363.2,199.3 1373.7,199.3 1382.4,199.3 1388.5,201.9 1393.8,201.0 1391.1,197.5 1401.6,197.5 1408.6,198.0M1265.4,177.4 1270.6,174.8 1282.8,173.9 1293.3,174.8 1296.8,177.4 1289.8,180.0 1275.8,180.6 1267.1,179.2 1265.4,177.4M1300.3,177.8 1310.8,177.1 1318.6,178.8 1310.8,180.6 1301.2,179.5 1300.3,177.8M1277.6,183.5 1291.6,183.5M1258.4,255.2 1272.4,247.3 1285.5,238.9 1298.6,237.7 1310.8,238.2 1315.2,236.5 1320.4,236.8 1319.5,239.4 1331.8,238.9 1333.5,235.1 1340.5,229.8 1351.0,229.0 1353.6,233.3 1359.7,229.8 1364.9,226.3 1370.2,226.3 1366.7,230.7 1356.2,236.8 1345.7,242.9 1338.7,245.6 1335.2,252.5 1337.0,259.5 1339.6,269.1 1346.6,265.6 1348.3,262.2 1353.6,260.4 1355.3,256.0 1361.5,253.4 1363.2,249.1 1364.9,244.7 1359.7,242.1 1364.9,238.6 1366.7,235.9 1375.4,235.9 1385.9,233.3 1391.1,235.9 1399.9,230.7 1408.6,228.1M1258.4,255.2 1265.4,255.2 1268.0,258.7 1274.1,256.9 1280.2,259.5 1282.8,263.0 1279.3,270.0 1278.5,277.0 1272.4,284.0 1263.6,291.0 1258.4,296.0M1299.4,296.0 1298.6,293.6 1289.8,292.7 1287.2,289.2 1291.6,286.6 1288.1,282.2 1289.8,277.0 1295.9,276.1 1294.2,272.6 1290.7,264.8 1288.9,256.9 1285.5,256.9 1284.6,264.8 1284.2,275.3 1284.6,284.0 1283.7,296.0M303.0,330.9 310.0,333.6 314.4,339.7 318.7,348.4 321.3,350.2 320.5,343.2 324.0,340.5 329.2,343.2 331.8,350.2 337.1,356.3 342.3,360.6 340.6,365.0 344.9,365.9 351.0,371.1 356.3,376.4 358.0,381.6 355.4,385.1 360.7,389.5 367.6,393.0 376.4,396.5 385.1,399.9 392.1,401.7 397.3,399.9 402.6,402.6 409.6,407.8 416.6,409.6 423.5,411.3 428.8,416.5 432.3,422.7 437.5,426.2 442.8,428.8 448.0,431.4 453.2,432.3 452.4,427.0 456.7,426.2 460.2,430.5 462.0,435.8 462.9,444.5 458.5,451.5 453.2,457.6 451.5,460.0M321.3,350.2 320.5,356.3 327.5,359.8 332.7,365.9 337.9,370.2 341.4,373.7 342.3,371.1 337.9,365.9 332.7,358.9 329.2,353.7 325.7,348.4 323.1,344.0M528.0,296.0 512.6,297.4 505.7,296.9 491.7,299.5 489.9,303.9 477.7,305.6 472.5,310.0 465.5,315.2 469.0,322.2 468.1,327.4 460.2,330.9 453.2,336.2 448.0,340.5 446.3,345.8 448.9,351.9 451.5,357.1 452.4,363.3 449.8,365.9 446.3,363.3 442.8,357.1 441.9,351.9 437.5,347.5 432.3,348.4 425.3,346.7 418.3,347.5 416.6,351.0 407.8,349.3 399.1,349.3 392.1,352.8 387.7,358.0 386.9,365.9 385.1,372.9 386.9,379.9 390.4,386.0 398.2,391.7 406.1,390.3 412.2,388.6 413.9,382.5 418.3,379.9 427.0,379.9 425.3,385.1 423.5,390.3 421.8,395.6 419.2,399.9 425.3,400.8 434.0,400.5 440.1,403.4 441.0,409.6 438.4,414.8 439.3,420.9 444.5,425.3 449.8,426.2 456.7,425.3 463.7,427.9 469.0,421.8 470.7,418.3 479.5,416.5 484.7,413.9 491.7,415.7 496.9,419.2 503.9,420.0 509.1,421.8 516.1,420.0 523.1,420.0 526.6,424.4 528.0,427.9M433.2,378.1 439.3,374.6 448.0,373.7 456.7,376.4 463.7,379.9 472.5,382.5 476.0,385.1 469.0,386.0 460.2,385.1 455.0,380.7 446.3,377.2 439.3,378.1 433.2,378.1M456.7,359.8 463.7,359.8 462.9,363.3 458.5,362.4M458.5,366.8 462.0,367.6 462.0,372.0 459.4,370.2M472.5,390.3 477.7,386.8 486.4,386.0 495.2,388.6 496.9,392.1 488.2,392.1 484.7,394.7 479.5,392.1 472.5,393.0 472.5,390.3M458.5,391.2 465.5,390.3 468.1,393.0 462.0,393.8 458.5,391.2M499.5,391.2 506.5,391.2 507.4,393.0 500.4,393.3 499.5,391.2M482.1,420.9 485.6,421.8 484.7,426.2 482.1,424.4M152.8,377.1 155.2,377.8M159.2,379.5 163.6,380.6 167.4,382.0M166.2,383.4 171.5,384.2 173.7,386.8 168.8,390.3 166.4,387.7 166.2,383.4M287.6,296.0 285.9,300.4 287.6,304.7 286.8,309.1 290.3,315.2 294.6,319.6 298.1,325.7 303.0,330.1M753.0,296.9 737.6,297.7 718.4,297.7 720.2,304.7 717.6,313.5 720.2,320.5 728.9,322.2 732.4,325.7 742.9,326.6 753.0,324.0M730.7,323.1 737.6,322.2 746.4,319.6 753.0,311.7M730.7,324.8 727.2,330.9 720.2,335.3 716.7,341.4 717.6,347.5 711.4,351.9 704.5,355.4 699.2,361.5 696.6,367.6 691.3,373.7 688.7,380.7 692.2,386.8 691.3,395.6 688.7,402.6 686.1,405.2 689.6,408.7 689.6,414.8 695.7,419.2 701.8,425.3 704.5,431.4 711.4,435.8 718.4,441.0 723.7,444.5 730.7,441.9 737.6,440.7 746.4,441.9 753.0,439.3M528.0,427.9 532.4,430.5 536.7,435.8 542.0,437.5 549.0,437.2 556.0,440.1 561.2,445.4 563.8,451.5 565.6,455.9 562.9,460.0M753.0,324.0 761.7,322.2 772.2,322.2 781.0,320.5 789.7,319.6 794.9,322.2 794.1,328.3 790.6,331.8 794.9,335.3 803.7,337.1 810.7,340.5 817.6,344.0 824.6,346.7 828.1,343.2 827.2,338.8 833.4,337.1 840.4,338.8 847.3,341.4 856.1,342.3 861.3,344.0 868.3,342.3 875.3,342.8 882.3,343.2 884.9,337.9 887.5,330.9 888.4,323.1 882.3,322.2 873.5,324.0 866.6,322.2 859.6,323.1 854.3,318.7 850.8,313.5 854.3,309.1 861.3,308.2 866.6,304.7 875.3,303.0 885.8,302.1 892.8,304.7 901.5,306.5 908.5,304.7 907.6,300.4 903.2,296.0M873.5,327.4 878.8,326.0 883.2,327.4 877.9,330.4 873.5,329.2 873.5,327.4M854.3,296.0 857.8,301.2 856.1,305.6 852.6,308.2 847.3,306.5 840.4,307.4 836.9,310.0 839.5,317.0 838.6,322.2 842.1,326.6 850.8,328.3 847.3,329.2 840.4,327.4 836.9,324.0 834.2,318.7 829.9,312.6 826.4,307.4 822.9,303.9 815.9,301.2 810.7,296.9 808.9,296.0M793.2,296.0 798.4,299.5 805.4,303.9 812.4,307.4 819.4,310.0 822.9,312.6 819.4,315.2 814.1,313.5 810.7,316.1M798.4,317.0 805.4,316.1 811.5,315.2 810.7,320.5 807.2,323.1 799.3,319.6 798.4,317.0M810.7,313.5 807.2,309.1 800.2,304.7 793.2,301.2 787.9,297.7 786.2,296.0M783.6,301.2 787.9,300.4 789.7,306.5 788.8,313.5 784.4,314.3 782.7,308.2 783.6,301.2M753.0,306.5 758.2,303.9 763.5,301.2 765.2,297.7 772.2,296.0M873.5,348.4 877.0,355.4 882.3,364.1 886.6,371.1 891.0,378.1 892.8,386.8 898.0,393.8 901.5,400.8 906.7,406.1 912.0,411.3 914.6,415.7 912.0,416.5 916.3,420.9 926.0,419.2 936.4,416.5 945.2,414.8 943.4,421.8 940.8,428.8 936.4,437.5 929.5,446.2 920.7,453.2 913.7,458.5 911.1,460.0M881.4,352.8 883.7,349.3 884.9,351.9 887.5,360.6 894.5,369.4 898.9,376.4 900.6,383.4 906.7,390.3 912.0,397.3 913.7,404.3 915.5,411.3 927.7,407.8 938.2,404.3 948.7,399.1 959.1,394.7 967.9,388.6 971.4,382.5 976.6,378.1 978.0,375.0M978.0,363.3 967.0,360.6 962.6,358.0 955.7,358.9 948.7,356.3 944.3,351.9 941.7,347.5 936.4,346.7 932.1,347.5 934.7,353.7 939.1,359.8 942.6,363.3 945.2,365.0 946.9,369.4 952.2,369.7 956.5,366.8 960.9,362.4 964.4,359.8 967.0,363.3 971.4,368.5 975.7,372.9 978.0,375.0M929.5,296.0 932.9,301.2 938.2,305.6 941.7,310.8 936.4,313.5 935.6,317.8 939.9,321.3 946.9,323.1 953.9,322.2 956.5,317.0 953.9,312.6 950.4,309.1 953.9,306.5 958.3,305.6 955.7,301.2 950.4,298.6 946.9,296.0M753.0,438.4 760.0,436.6 769.6,436.6 774.0,442.8 779.2,443.6 784.4,441.9 788.8,446.2 789.7,451.5 787.9,460.0M978.0,365.9 988.5,365.5 1000.7,364.5 1006.0,370.2 1011.2,373.7 1013.8,379.0 1019.9,381.6 1026.0,380.7 1026.9,390.3 1029.5,399.1 1033.0,407.8 1036.5,416.5 1040.0,425.3 1043.5,430.5 1047.9,426.2 1051.4,421.8 1052.2,414.8 1054.0,407.8 1053.1,401.7 1058.4,399.1 1065.4,393.8 1072.3,387.7 1079.3,383.4 1079.3,379.9 1086.3,378.1 1093.3,375.5 1096.8,374.6 1100.3,379.9 1103.8,386.8 1107.3,393.8 1106.4,399.9 1110.8,399.1 1116.9,396.5 1119.5,402.6 1121.3,411.3 1123.0,418.3 1122.1,425.3 1120.4,430.5 1124.8,428.8 1126.5,421.8 1125.6,414.8 1128.2,410.4 1133.5,411.3 1138.7,415.7 1142.2,420.9 1148.3,423.5 1146.6,427.9 1152.7,423.5 1159.7,419.2 1163.2,414.8 1164.1,407.8 1161.4,400.8 1156.2,395.6 1151.8,391.2 1149.2,386.8 1152.7,381.6 1159.7,379.0 1166.7,381.6 1169.3,386.8 1164.1,391.2 1159.7,390.3 1159.7,386.8 1163.2,385.1M1166.7,381.6 1173.7,379.9 1182.4,377.2 1191.1,373.7 1198.1,368.5 1203.0,362.4M1051.4,421.8 1055.7,424.4 1059.2,430.5 1058.4,435.8 1054.0,438.4 1051.4,434.9 1050.5,428.8 1051.4,421.8M1122.1,425.3 1121.3,431.4 1126.5,434.0 1130.0,441.0 1133.5,448.0 1138.7,453.2 1143.1,460.0M1124.8,428.8 1130.0,434.0 1135.2,439.3 1138.7,444.5 1137.9,449.7 1141.3,455.0 1144.0,460.0M1138.7,460.0 1135.2,455.9 1130.0,449.7 1123.0,444.5 1116.0,440.1 1109.0,439.3 1110.8,443.6 1117.8,449.7 1123.0,455.9 1125.6,460.0M1203.0,416.5 1196.4,421.8 1191.1,428.8M1203.0,435.8 1192.9,434.9 1187.6,439.3 1178.9,445.4 1170.2,450.6 1163.2,453.2 1160.6,460.0M1191.1,435.8 1196.4,441.0 1193.8,446.2 1198.1,451.5 1196.4,460.0M1203.0,309.1 1196.4,311.7 1192.9,315.2 1198.1,319.6 1203.0,321.3M1203.0,324.8 1199.0,328.3 1203.0,331.8M978.0,375.5 978.9,377.2M1185.0,375.5 1192.0,372.0 1199.0,365.9 1204.2,358.9 1208.6,351.9 1210.3,346.7 1206.8,344.9 1211.2,342.3 1207.7,337.1 1202.5,332.7 1199.8,327.4 1204.2,324.0 1211.2,321.3 1209.5,317.8 1201.6,318.7 1195.5,317.0 1192.9,313.5 1199.0,310.0 1206.0,306.5 1211.2,308.2 1213.8,312.6 1219.1,310.8 1223.4,314.3 1224.3,320.5 1226.9,326.6 1228.7,330.9 1233.9,330.1 1237.4,326.6 1238.3,321.3 1235.7,316.1 1230.4,312.6 1232.2,309.1 1239.2,305.6 1240.9,301.2 1249.6,298.6 1258.4,296.9 1261.9,296.0M1286.3,296.0 1280.2,298.6 1276.7,303.9 1278.5,310.0 1275.8,315.2 1268.9,320.5 1263.6,321.3 1258.4,326.6 1249.6,327.4 1242.7,330.9 1237.4,336.2 1239.2,341.4 1242.7,344.0 1246.1,340.5 1245.3,337.1 1251.4,336.2 1256.6,332.7 1261.9,333.6 1265.4,330.1 1272.4,329.2 1279.3,327.4 1280.2,324.0 1283.7,317.0 1285.5,310.8 1282.0,303.9 1284.6,301.2 1289.8,303.0 1293.3,300.4 1298.6,297.7M1204.2,365.0 1209.5,365.0 1210.3,369.4 1207.7,375.5 1205.1,378.1 1202.5,372.9 1204.2,365.0M1203.3,391.2 1211.2,390.3 1212.1,395.6 1209.5,400.8 1213.0,405.2 1219.9,407.8 1224.3,413.1 1225.2,418.3 1219.9,419.2 1217.3,416.5 1211.2,414.8 1206.8,411.3 1203.3,407.8 1201.6,400.8 1203.3,391.2M1211.2,416.5 1215.6,421.8 1222.6,423.5 1226.9,427.0 1227.8,434.0 1225.2,439.3 1220.8,440.1 1217.3,435.8 1219.9,431.4 1222.6,430.5 1215.6,430.5 1211.2,434.0 1209.5,432.3 1213.8,427.9 1211.2,421.8 1211.2,416.5M1191.1,428.8 1201.6,417.4M1185.0,435.8 1191.1,434.0 1193.7,439.3 1199.8,440.1 1195.5,446.2 1192.9,449.7 1199.0,452.4 1197.2,456.7 1204.2,455.0 1213.0,455.9 1222.6,453.2M1229.5,452.4 1235.7,453.2 1234.8,460.0M452.4,460.0 448.9,465.2 453.3,470.5 448.0,476.6 447.2,482.7 453.3,488.0 457.6,494.9 462.0,503.7 466.4,510.7 467.2,515.9 475.1,520.3 483.8,525.5 489.1,529.9 490.0,540.4 488.2,552.6 487.3,563.1 484.7,570.1 484.7,578.8 483.8,585.8 480.4,592.8 476.9,599.8 477.7,605.0 476.0,612.0 474.2,619.0 476.9,624.0M561.6,460.0 569.5,461.7 571.2,464.4 578.2,463.5 585.2,467.9 586.9,470.5 593.9,469.6 602.6,470.5 609.6,475.7 618.0,479.2M618.0,497.6 613.1,501.9 607.9,508.9 607.0,517.7 605.3,528.1 601.8,535.1 598.3,542.1 593.9,546.5 585.2,547.4 576.4,550.8 571.2,556.1 571.2,563.1 569.5,568.3 564.2,573.6 559.0,579.7 553.7,584.9 548.5,590.2 541.5,591.0 532.8,589.3 538.0,593.6 540.6,598.0 536.3,603.3 529.3,605.0 519.7,605.9 518.8,612.0 515.3,614.6 509.2,613.7 508.3,617.2 513.5,618.1 511.8,621.6 507.4,624.0M618.0,479.2 620.5,479.6 623.1,487.1 620.5,494.1 618.0,497.6M788.2,460.0 784.7,463.5 788.2,468.7 795.2,475.7 799.5,484.5 802.2,492.3 801.3,494.9 804.8,501.9 800.4,508.9 796.9,515.9 796.0,524.6 799.5,529.9 803.0,536.9 806.5,543.9 807.4,552.6 810.0,563.1 814.4,568.3 818.8,575.3 821.4,580.5 820.5,585.8 824.0,590.2 828.0,591.0M813.0,564.8 817.4,571.8 820.9,578.8 820.0,584.0 822.6,589.3 827.8,591.0 835.7,588.9 844.4,588.4 851.4,586.7 858.4,582.3 863.7,577.1 868.9,570.9 874.1,565.7 875.0,559.6 874.1,556.1 881.1,552.6 885.5,550.0 886.4,543.9 884.6,539.5 882.0,535.1 886.4,530.8 891.6,526.4 898.6,523.8 903.8,520.3 906.5,515.9 905.6,507.2 904.7,499.3 900.4,493.2 899.5,486.2 897.7,481.8 899.5,476.6 903.0,469.6 909.1,464.4 915.2,460.0M937.0,504.5 940.5,508.0 942.3,515.9 939.7,521.1 937.0,529.9 933.5,540.4 930.1,551.7 923.1,555.7 917.8,553.5 915.2,546.5 914.3,541.2 917.8,536.0 918.7,529.9 916.9,525.5 918.7,521.1 924.8,519.4 931.8,515.0 932.7,510.7 935.3,508.9 937.0,504.5M1123.6,460.0 1128.8,465.2 1134.1,472.2 1141.1,478.3 1147.2,483.6 1146.3,486.2 1153.3,488.0 1162.0,489.7 1167.3,490.6M1139.3,460.0 1141.1,463.5 1146.3,466.1 1149.8,470.5 1149.8,477.5 1148.9,481.8M1153.3,483.6 1163.8,484.5 1174.3,486.2 1184.8,489.7 1187.4,492.3 1177.8,493.2 1167.3,491.1 1158.5,488.8 1151.6,486.2M1190.0,493.2 1195.2,490.6 1201.3,492.3 1195.2,494.1 1190.9,494.1M1198.7,494.1 1205.7,492.3 1213.6,491.4 1214.5,494.1 1205.7,495.8 1200.5,496.7M1215.3,497.6 1221.4,494.1 1230.2,491.4 1231.0,494.1 1223.2,497.6 1216.2,499.3M1160.3,460.0 1162.9,465.2 1167.3,470.5 1176.0,472.2 1183.0,475.7 1188.2,473.1 1190.0,467.0 1193.5,462.6 1194.4,460.0M1198.7,460.0 1197.9,467.0 1199.6,472.2 1203.1,470.5 1202.2,477.5 1200.5,481.8 1205.7,481.0 1208.3,476.6 1212.7,479.2 1214.5,475.7 1211.0,470.5 1209.2,466.1 1212.7,462.6 1217.9,460.0M1204.0,463.5 1207.5,468.7 1205.7,474.0M1224.9,471.4 1231.9,470.5 1240.7,472.2 1244.1,474.8 1235.4,474.8 1226.7,474.0 1224.9,471.4M1241.5,462.6 1247.6,461.7 1254.6,464.4 1258.1,468.7 1263.0,469.6M1245.9,467.0 1252.9,470.5 1258.1,475.7 1263.0,477.5M1255.5,480.1 1258.1,482.7 1256.4,485.3M1263.0,503.7 1254.6,501.9 1247.6,501.9 1242.4,507.2 1238.9,514.2 1235.4,515.9 1230.2,511.5 1223.2,514.2 1217.9,519.4 1213.6,522.9 1211.0,528.1 1205.7,532.5 1195.2,536.0 1188.2,537.7 1180.4,542.1 1178.6,547.4 1177.8,552.6 1179.5,557.8 1180.4,563.1 1183.0,568.3 1185.6,575.3 1186.5,582.3 1183.9,587.5 1188.2,591.0 1195.2,591.9 1202.2,588.4 1211.0,586.7 1217.9,583.2 1226.7,580.5 1235.4,578.8 1244.1,577.9 1252.0,580.5 1257.3,584.9 1260.7,590.2 1263.0,591.0M1259.9,511.5 1259.0,516.8 1263.0,519.4M1262.9,503.7 1266.2,504.5 1265.4,510.7 1260.1,515.9 1267.1,520.3 1274.1,524.6 1279.3,527.3 1282.0,522.9 1282.8,515.9 1283.7,507.2 1286.3,501.1 1289.8,505.4 1291.6,511.5 1296.8,515.9 1298.6,522.9 1301.2,529.0 1307.3,535.1 1312.5,542.1 1317.8,545.6 1323.0,550.8 1327.4,557.8 1329.1,566.6 1327.4,575.3 1324.8,582.3 1320.4,589.3 1316.0,596.3 1314.3,601.5 1307.3,602.4 1301.2,605.9 1295.9,602.4 1289.8,605.0 1282.8,603.3 1277.6,599.8 1275.0,594.5 1271.5,590.2 1268.9,584.0 1264.5,588.4 1262.9,591.0M1294.2,612.9 1302.1,613.7 1309.9,612.9 1307.3,619.9 1303.8,624.0M1294.2,612.9 1297.7,619.0 1300.3,624.0M1242.7,462.6 1251.4,461.7 1256.6,463.5 1254.9,469.6 1258.4,473.1 1261.9,468.7 1268.9,466.1 1277.6,468.7 1288.1,472.2 1296.8,475.7 1302.1,480.1 1305.5,483.6 1312.5,481.8 1317.8,479.2 1323.0,480.1 1326.5,476.6 1323.0,471.4 1317.8,469.6M1305.5,483.6 1303.8,488.0 1307.3,491.4 1312.5,496.7 1318.6,499.3 1314.3,495.8 1309.0,491.4 1303.8,488.8 1296.8,488.0 1291.6,489.7 1288.1,494.1 1282.8,492.3 1275.8,490.6 1268.9,491.4 1270.6,486.2 1272.4,481.8 1267.1,478.3 1260.1,475.7 1254.9,474.0 1249.6,470.5 1246.1,467.0 1242.7,462.6M1331.8,479.2 1337.0,483.6 1344.0,487.1 1351.0,490.6 1358.0,494.9 1361.5,501.1 1357.1,499.3 1351.0,494.1 1342.2,489.7 1335.2,485.3 1331.8,479.2M1376.3,515.0 1379.8,516.8 1382.4,522.0 1378.9,521.1 1376.3,515.0M1366.7,535.1 1372.8,537.7 1379.8,543.0 1377.2,544.7 1370.2,541.2 1366.7,535.1M82.2,777.0 99.0,774.9 116.4,774.2 133.9,777.0 154.9,779.5 179.3,777.7 196.8,778.4 217.8,777.7 214.3,774.9 193.3,774.9 179.3,772.5 179.3,767.3 165.4,765.5 182.8,763.1 200.3,761.0 202.0,757.5 186.3,758.5 168.8,756.8 159.1,754.0 160.1,748.0 179.3,749.1 196.8,746.3 205.5,742.1 224.8,741.1 245.7,738.6 266.7,737.6 277.2,735.1 291.1,736.5 305.1,735.8 322.6,737.6 329.6,736.5 336.6,740.0 354.0,741.4 375.0,742.1 376.7,738.6 366.3,736.5 366.3,732.3 375.0,729.5 390.7,730.6 389.0,734.1 406.4,734.1 416.9,732.3 427.4,734.4 441.4,735.8 451.9,734.4 462.3,736.5 476.3,735.8 490.3,732.3 499.0,727.1 497.3,720.1 504.3,711.4 514.8,704.4 528.0,699.1M140.9,755.0 151.4,756.1 153.1,758.5 144.4,758.5 140.9,755.0M528.0,707.9 514.8,711.4 507.8,718.3 513.0,727.1 521.7,732.3 528.0,735.8M528.0,741.1 511.3,742.8 490.3,745.6 465.8,747.0 462.3,751.5 476.3,752.6 460.6,756.1 465.8,759.6 483.3,761.0 504.3,763.8 528.0,766.6M471.1,728.8 485.1,725.3 490.3,718.3 493.8,727.1 483.3,730.6 471.1,728.8M476.3,624.0 471.1,634.5 469.3,646.7 472.8,655.4 483.3,662.4 497.3,667.7 509.5,665.9 502.5,660.7 493.8,658.9 492.0,653.7 499.0,645.0 502.5,634.5 507.8,624.0M523.5,653.7 528.0,652.0M528.0,652.7 536.7,653.7 529.7,657.2M528.0,699.1 538.5,698.1 531.5,702.6M528.0,766.6 535.0,770.8 549.0,768.0 569.9,765.5 590.9,766.6 608.4,763.8 629.3,763.1 645.1,762.0 639.8,758.5 620.6,758.5 619.5,755.0 632.8,751.5 646.8,748.0 667.8,745.6 681.7,742.8 692.2,741.1 692.2,736.5 702.7,732.3 713.2,728.1 721.9,728.8 728.9,726.4 737.6,728.1 751.6,727.1 769.1,725.3 783.1,722.9 793.5,726.0 804.0,722.9 821.5,722.5 835.5,724.6 849.5,724.3 863.4,722.5 875.7,720.1 880.9,717.3 889.6,719.0 898.4,721.8 907.1,718.3 922.8,715.5 936.8,712.1 947.3,708.6 961.3,707.2 970.0,709.6 978.0,712.1M549.0,762.0 562.9,755.0 576.9,752.6 589.1,755.0 590.2,760.3 576.9,763.1 562.9,763.8 549.0,762.0M1009.9,644.1 1016.6,643.5 1017.6,646.8 1010.9,647.5 1009.9,644.1M978.0,713.9 991.4,712.9 998.1,714.6 1011.5,714.6 1013.2,721.3 1007.5,723.9 1009.9,729.7 1018.2,729.7 1028.3,722.9 1041.7,721.3 1048.4,716.2 1061.9,712.9 1078.6,711.9 1082.0,708.5 1087.0,711.9 1102.1,711.9 1112.2,712.9 1125.6,711.9 1138.3,705.5 1149.1,710.5 1159.1,710.5 1170.9,707.9 1179.2,706.8 1187.6,710.2 1201.0,711.9 1212.8,709.5 1226.2,709.9 1243.0,709.2 1256.4,708.5 1259.7,705.2 1264.8,710.5 1279.9,710.5 1298.3,710.5 1301.7,713.9 1316.8,717.2 1330.2,717.9 1340.2,720.6 1350.3,721.3 1360.4,723.9 1377.1,725.6 1390.5,728.0 1393.9,731.3 1385.5,736.4 1375.5,739.7 1368.7,744.7 1367.1,750.8 1378.8,754.8 1363.7,756.5 1355.3,761.5 1360.4,766.5 1373.8,769.9 1390.5,773.3 1409.0,775.6M1298.3,624.0 1303.3,625.0 1308.4,624.0M1375.8,631.8 1379.7,627.3 1384.1,624.8 1390.5,622.2 1394.3,619.0 1396.8,614.6 1399.4,612.0 1401.9,611.4 1403.9,612.7 1406.4,613.3 1405.1,616.5 1403.2,620.3 1402.6,624.8 1400.0,626.0 1396.2,626.7 1394.9,630.5 1391.8,633.7 1387.3,635.6 1382.8,635.3 1378.4,634.0 1375.8,631.8M1407.7,591.6 1404.5,591.0 1401.3,588.5 1398.8,589.1 1400.7,592.9 1403.9,597.4 1405.8,600.6 1406.4,604.4 1403.9,606.9 1404.5,608.8 1407.0,609.5M772.0,296.0 779.0,296.0"/>
</g>
</svg>
<rect x="78.5" y="132.5" width="1331.0" height="656.0" fill="none" stroke="#000" stroke-width="3"/>
<rect x="78.50" y="831.5" width="1331.00" height="66.0" fill="#000096"/><rect x="133.96" y="831.5" width="1275.54" height="66.0" fill="#0000c8"/><rect x="189.42" y="831.5" width="1220.08" height="66.0" fill="#0000f6"/><rect x="244.88" y="831.5" width="1164.62" height="66.0" fill="#0014ff"/><rect x="300.33" y="831.5" width="1109.17" height="66.0" fill="#0040ff"/><rect x="355.79" y="831.5" width="1053.71" height="66.0" fill="#0068ff"/><rect x="411.25" y="831.5" width="998.25" height="66.0" fill="#0094ff"/><rect x="466.71" y="831.5" width="942.79" height="66.0" fill="#00c0ff"/><rect x="522.17" y="831.5" width="887.33" height="66.0" fill="#02e8f4"/><rect x="577.62" y="831.5" width="831.88" height="66.0" fill="#26ffd1"/><rect x="633.08" y="831.5" width="776.42" height="66.0" fill="#49ffad"/><rect x="688.54" y="831.5" width="720.96" height="66.0" fill="#6aff8d"/><rect x="744.00" y="831.5" width="665.50" height="66.0" fill="#8dff6a"/><rect x="799.46" y="831.5" width="610.04" height="66.0" fill="#b1ff46"/><rect x="854.92" y="831.5" width="554.58" height="66.0" fill="#d1ff26"/><rect x="910.38" y="831.5" width="499.12" height="66.0" fill="#f4f802"/><rect x="965.83" y="831.5" width="443.67" height="66.0" fill="#ffd000"/><rect x="1021.29" y="831.5" width="388.21" height="66.0" fill="#ffab00"/><rect x="1076.75" y="831.5" width="332.75" height="66.0" fill="#ff8200"/><rect x="1132.21" y="831.5" width="277.29" height="66.0" fill="#ff5900"/><rect x="1187.67" y="831.5" width="221.83" height="66.0" fill="#ff3400"/><rect x="1243.12" y="831.5" width="166.38" height="66.0" fill="#f60b00"/><rect x="1298.58" y="831.5" width="110.92" height="66.0" fill="#c40000"/><rect x="1354.04" y="831.5" width="55.46" height="66.0" fill="#960000"/>
<rect x="78.5" y="831.5" width="1331.0" height="66.0" fill="none" stroke="#000" stroke-width="3"/>
<rect x="77.0" y="897.5" width="3" height="14.6" fill="#000"/><text x="45.4" y="959" font-size="42.4" textLength="66.2" lengthAdjust="spacingAndGlyphs">0.0</text>
<rect x="243.4" y="897.5" width="3" height="14.6" fill="#000"/><text x="211.8" y="959" font-size="42.4" textLength="66.2" lengthAdjust="spacingAndGlyphs">7.5</text>
<rect x="409.8" y="897.5" width="3" height="14.6" fill="#000"/><text x="364.9" y="959" font-size="42.4" textLength="92.7" lengthAdjust="spacingAndGlyphs">15.0</text>
<rect x="576.1" y="897.5" width="3" height="14.6" fill="#000"/><text x="531.3" y="959" font-size="42.4" textLength="92.7" lengthAdjust="spacingAndGlyphs">22.5</text>
<rect x="742.5" y="897.5" width="3" height="14.6" fill="#000"/><text x="697.6" y="959" font-size="42.4" textLength="92.7" lengthAdjust="spacingAndGlyphs">30.0</text>
<rect x="908.9" y="897.5" width="3" height="14.6" fill="#000"/><text x="864.0" y="959" font-size="42.4" textLength="92.7" lengthAdjust="spacingAndGlyphs">37.5</text>
<rect x="1075.2" y="897.5" width="3" height="14.6" fill="#000"/><text x="1030.4" y="959" font-size="42.4" textLength="92.7" lengthAdjust="spacingAndGlyphs">45.0</text>
<rect x="1241.6" y="897.5" width="3" height="14.6" fill="#000"/><text x="1196.8" y="959" font-size="42.4" textLength="92.7" lengthAdjust="spacingAndGlyphs">52.5</text>
<rect x="1408.0" y="897.5" width="3" height="14.6" fill="#000"/><text x="1363.2" y="959" font-size="42.4" textLength="92.7" lengthAdjust="spacingAndGlyphs">60.0</text>
</g>
<g transform="translate(0,1970)">
<text x="88.0" y="107.5" font-size="50.9" textLength="1312.1" lengthAdjust="spacingAndGlyphs">Plasmasphere (h=1500.0 km), 2004-02-07 07:00 UT</text>
<svg x="78.5" y="132.5" width="1331.0" height="656.0" viewBox="78.5 132.5 1331.0 656.0" overflow="hidden">
<rect x="76.5" y="130.5" width="1335.0" height="660.0" fill="#0000c8"/>
<path fill="#0040ff" fill-rule="evenodd" d="M1377.2,270.5 1386.5,269.0 1414.5,268.8 1414.5,737.2 1400.5,737.0 1390.5,735.4 1372.5,735.2 974.5,734.6 964.5,732.9 940.5,732.6 932.5,730.9 911.6,730.5 904.5,728.9 891.3,728.5 884.5,726.9 869.1,726.5 862.5,724.9 842.5,724.6 836.5,723.0 790.5,722.9 778.5,723.1 772.5,724.6 756.5,725.1 750.5,726.7 738.5,727.1 706.5,732.6 670.5,737.4 632.5,744.6 622.5,745.1 600.5,748.7 588.5,749.2 566.5,752.7 550.5,753.3 524.5,756.9 476.5,757.3 466.5,759.0 268.5,759.5 256.5,757.9 220.5,757.6 210.5,755.9 190.5,755.5 182.5,754.0 150.5,751.5 112.5,746.0 98.5,745.4 90.5,743.8 74.5,743.7 74.5,273.5 88.5,275.3 152.5,290.4 212.5,302.3 260.5,308.4 486.5,308.8 504.5,307.1 536.5,307.0 546.5,307.3 554.5,308.8 588.5,309.3 600.5,311.0 620.5,311.1 632.5,309.6 652.5,309.1 710.5,299.9 754.5,299.7 764.5,300.1 792.5,303.9 822.5,309.2 852.5,311.7 858.5,313.0 908.5,313.2 960.5,308.9 976.5,306.6 982.5,304.0 1000.5,303.1 1006.5,301.7 1040.5,301.6 1066.5,307.7 1074.6,310.5 1118.5,336.3 1140.5,346.1 1154.5,350.0 1168.5,352.4 1180.5,352.6 1194.5,352.0 1212.5,344.8 1242.7,314.5 1261.0,300.5 1285.6,288.5 1316.5,279.4 1346.5,273.3ZM826.5,658.1 820.1,664.5 824.5,664.9 826.5,666.9 832.5,666.9 838.5,660.9 840.5,660.9 842.9,658.5Z"/>
<path fill="#00c0ff" fill-rule="evenodd" d="M1400.7,304.5 1414.5,303.4 1414.5,677.6 1400.4,676.5 1382.8,668.5 1378.5,665.5 1370.5,656.6 1366.5,648.7 1366.5,629.2 1380.4,606.5 1392.9,592.5 1395.0,586.5 1394.7,576.5 1391.9,568.5 1388.3,562.5 1376.6,550.5 1363.8,542.5 1353.8,538.5 1346.5,536.3 1332.5,535.7 1317.2,538.5 1296.5,547.6 1280.5,552.7 1264.5,554.6 1252.5,552.6 1240.5,548.2 1228.5,540.4 1215.6,528.5 1204.5,515.7 1190.8,504.5 1179.4,500.5 1170.5,499.0 1154.5,500.5 1140.2,508.5 1136.5,511.8 1128.3,522.5 1125.4,536.5 1125.6,554.5 1120.5,566.7 1115.6,572.5 1108.6,578.5 1086.5,587.7 1062.5,590.1 1036.5,586.2 1016.5,578.5 992.2,566.5 978.5,560.9 966.5,560.2 948.5,562.2 914.5,567.9 828.5,587.3 790.5,597.5 710.5,622.2 670.5,630.3 634.5,634.6 586.5,637.7 576.5,639.3 556.5,639.8 522.5,643.4 390.5,643.9 370.5,646.0 358.5,648.4 342.0,652.5 326.5,658.6 308.2,672.5 294.5,686.8 283.2,694.5 276.5,698.6 252.5,705.3 216.5,709.3 202.5,707.8 176.5,707.3 144.5,703.2 114.5,697.3 86.5,690.7 74.5,689.2 74.5,307.5 86.5,307.9 222.5,332.0 290.5,342.3 302.5,342.9 310.5,344.3 326.5,344.9 338.5,346.5 412.5,346.8 426.5,348.4 544.5,349.1 558.5,351.6 579.0,358.5 602.5,371.6 624.5,388.6 638.5,396.8 648.5,400.8 660.5,403.2 670.5,403.2 686.5,401.2 708.5,394.6 736.5,390.2 764.5,390.6 796.5,397.6 816.5,399.3 834.5,395.3 886.5,378.8 906.5,376.5 946.5,375.7 954.5,374.3 968.5,373.4 976.5,370.7 980.1,366.5 984.5,364.8 1030.5,360.3 1056.5,362.7 1078.5,368.5 1118.5,383.7 1164.5,398.1 1186.5,402.2 1216.5,403.7 1238.5,399.7 1248.5,396.6 1271.6,384.5 1290.5,368.5 1304.5,351.9 1318.5,332.7 1337.3,318.5 1349.9,312.5 1358.5,309.6 1380.5,305.5ZM136.5,600.1 134.5,602.1 128.1,602.5 128.1,604.5 130.1,606.5 130.1,608.5 132.5,610.9 136.5,610.9 138.5,608.9 144.5,608.9 142.9,606.5 142.9,602.5 140.5,600.1Z"/>
<path fill="#49ffad" fill-rule="evenodd" d="M174.6,358.5 180.5,357.5 192.5,357.5 212.5,359.6 238.5,365.9 265.8,376.5 302.5,394.0 308.5,395.8 322.5,396.6 334.5,396.1 368.5,391.2 376.5,392.5 404.5,392.8 414.5,394.4 446.5,394.8 456.5,396.3 526.5,397.2 538.5,399.9 545.6,402.5 560.5,412.3 564.7,416.5 573.3,430.5 577.8,444.5 578.7,456.5 572.5,492.8 572.5,515.7 576.5,532.0 578.5,536.6 594.5,564.2 596.5,570.4 597.3,576.5 594.6,584.5 588.8,590.5 576.8,596.5 569.6,598.5 530.5,607.1 492.5,611.4 462.5,611.7 450.5,610.2 428.5,609.9 418.5,608.4 394.5,608.1 384.5,606.7 338.5,606.4 306.5,602.4 298.5,600.4 272.5,593.0 211.1,570.5 177.6,562.5 138.5,555.5 106.5,547.5 81.5,538.5 74.5,537.9 74.5,403.8 82.5,403.9 100.5,406.7 116.5,403.9 125.3,398.5 128.5,395.3 142.0,372.5 148.2,366.5 156.5,361.9ZM1378.5,376.5 1382.5,376.1 1394.5,378.3 1406.5,384.7 1410.5,386.0 1414.5,386.0 1414.5,514.0 1404.5,512.6 1350.5,497.7 1318.5,493.4 1302.5,492.8 1294.5,490.7 1280.5,485.5 1270.5,479.5 1246.1,458.5 1246.3,456.5 1248.9,452.5 1259.6,442.5 1286.5,426.7 1334.5,395.9 1362.5,380.4ZM1034.2,396.5 1066.5,396.2 1090.5,402.5 1114.4,414.5 1127.8,424.5 1138.5,437.6 1140.5,442.9 1140.5,449.2 1134.5,451.2 1130.5,453.8 1122.7,462.5 1108.5,474.6 1099.2,480.5 1083.1,488.5 1062.5,493.4 1030.5,493.9 1010.5,491.7 978.5,485.5 952.5,487.9 934.5,487.5 916.5,482.9 906.5,478.5 898.5,472.3 890.5,461.4 888.5,455.6 888.2,450.5 888.5,445.8 890.5,441.0 896.1,432.5 906.6,426.5 911.1,424.5 930.5,419.8 958.5,418.6 974.5,416.3 976.5,415.7 982.6,410.5 993.9,406.5 1022.5,398.5ZM724.3,438.5 734.5,438.1 750.5,442.3 758.5,447.3 764.5,452.3 767.9,458.5 767.3,466.5 761.5,480.5 746.5,495.5 738.5,499.7 728.5,503.2 706.5,505.0 690.5,499.6 684.5,496.5 675.5,488.5 670.9,480.5 669.2,472.5 670.5,462.4 694.5,446.4 710.5,440.5Z"/>
<path fill="#b1ff46" fill-rule="evenodd" d="M197.1,422.5 208.5,420.8 226.5,423.7 250.5,433.0 274.5,444.2 298.5,451.3 318.5,451.5 354.5,446.4 378.5,446.2 408.5,449.5 426.5,450.2 434.5,451.6 460.5,452.0 470.5,450.9 486.5,451.5 502.9,454.5 507.3,456.5 508.6,458.5 508.3,462.5 511.3,476.5 510.5,492.5 504.5,509.4 494.5,527.1 484.4,536.5 476.5,542.3 402.5,562.9 382.5,567.1 356.5,569.3 332.5,567.0 318.5,564.6 296.5,559.3 258.5,548.4 224.5,542.6 200.5,540.0 158.5,533.7 122.5,523.5 98.5,511.7 82.5,502.4 78.5,500.8 74.5,500.8 74.5,451.9 100.5,449.8 120.5,446.1 146.5,439.5 178.5,427.0ZM1050.0,436.5 1054.5,436.0 1056.5,438.0 1060.5,438.0 1062.5,440.0 1065.0,440.5 1065.0,442.5 1062.5,443.0 1056.5,449.0 1054.5,447.0 1052.5,447.0 1050.5,445.0 1048.5,445.0 1046.5,443.0 1044.0,442.5Z"/>
<path fill="#ffd000" fill-rule="evenodd" d="M196.1,466.5 200.5,466.4 210.5,468.2 220.5,470.7 223.5,472.5 232.5,479.8 234.5,482.5 236.6,490.5 234.9,494.5 224.9,502.5 206.5,507.0 192.5,506.8 182.5,504.8 174.5,502.4 164.5,497.6 160.5,493.6 157.5,488.5 158.3,484.5 164.4,476.5 168.5,473.8 182.5,468.5Z"/>
<g fill="none" stroke="#000" stroke-width="4.2" stroke-linejoin="round" stroke-linecap="round">
<path d="M80.1,192.8 85.0,192.3 88.1,193.5 84.1,195.2 80.1,194.9M80.1,201.9 88.5,204.5 97.2,207.5 107.7,208.5 115.6,212.0 113.8,215.0 106.0,214.5 104.2,219.0 97.2,217.6 90.2,214.1 83.2,212.9 80.1,213.8M107.7,222.0 114.7,221.4 120.8,222.8 116.4,224.6 109.4,223.7 107.7,222.0M303.0,199.3 292.9,199.3 285.9,197.5 280.7,199.3 271.9,195.8 266.7,197.0 252.7,199.3 239.6,201.9 226.5,199.3 209.0,197.5 191.6,196.3 175.8,194.9 165.4,192.3 153.1,194.9 142.6,197.5 135.7,201.0 127.8,202.8 130.4,205.4 138.3,207.1 146.1,210.6 147.9,213.2 140.9,214.1 130.4,213.2 122.5,214.1 130.4,217.6 142.6,217.6 150.5,218.5 149.6,222.0 140.9,222.8 133.9,225.5 130.4,229.8 132.2,233.3 125.2,235.1 130.4,236.5 139.1,235.1 146.1,238.6 154.9,238.6 163.6,239.4 161.9,243.8 154.9,247.3 144.4,252.5 135.7,256.0 147.9,252.5 160.1,248.2 170.6,243.8 175.8,247.3 182.8,243.8 179.3,241.2 175.0,237.7 182.8,233.3 188.9,230.7 184.6,235.1 182.8,237.7 191.6,235.9 198.5,235.1 200.3,231.6 210.8,234.2 221.3,235.1 230.0,237.7 238.7,242.1 251.0,242.4 254.5,247.3 259.7,251.7 265.8,256.9 269.3,262.2 273.7,264.8 271.9,271.8 278.9,273.5 287.6,277.0 294.6,280.5 293.8,284.0 289.4,280.5 286.8,284.0 287.6,296.0M252.7,256.9 258.8,257.8 260.6,264.8 256.2,263.0 252.7,259.5 252.7,256.9M303.0,169.6 294.6,173.1 292.9,174.8 303.0,176.5M303.0,180.0 284.1,181.8 286.8,184.4 280.7,190.5 287.6,193.1 296.4,193.1 303.0,190.5M303.0,199.3 318.7,203.6 329.2,205.4 343.2,207.1 353.7,201.9 364.1,203.6 372.9,206.2 385.1,205.4 392.1,207.1 399.1,202.8 393.8,199.3 379.9,201.0 376.4,199.3 390.4,196.6 400.8,199.3 407.8,198.4 414.8,201.9 423.5,207.1 431.4,202.8 428.8,200.1 421.8,197.5 416.6,193.1 414.8,188.8 419.2,185.3 428.8,187.9 439.3,184.4 448.0,186.2 453.2,187.9 465.5,186.2 474.2,192.3 486.4,192.3 498.7,196.6 502.2,201.0 495.2,202.8 507.4,205.4 519.6,208.9 521.4,211.5 512.6,216.7 505.7,214.1 496.9,212.4 500.4,216.7 510.0,220.2 509.1,224.6 503.9,227.2 495.2,224.6 486.4,222.8 476.0,218.5 460.2,218.5 469.0,215.0 477.7,210.6 479.5,207.1 470.7,204.5 463.7,201.9 456.7,198.4 448.0,200.1 446.3,205.4 448.0,208.9 439.3,211.5 432.3,210.6 425.3,217.6 414.8,220.2 407.8,223.7 400.8,229.8 397.3,235.1 398.2,239.4 403.5,240.3 406.1,245.6 416.6,245.6 425.3,249.1 435.8,252.5 444.5,252.5 445.4,259.5 449.8,265.6 453.2,268.3 457.6,264.8 456.7,260.4 453.2,255.2 460.2,252.5 466.3,248.2 463.7,243.8 458.5,240.3 462.9,235.1 460.2,229.8 460.2,226.3 470.7,227.2 477.7,226.3 484.7,229.8 491.7,231.6 492.6,236.8 498.7,242.1 505.7,238.6 510.9,234.2 516.1,240.3 521.4,245.6 520.5,249.1 528.0,252.5M303.0,168.7 317.0,169.6 310.0,173.9 303.0,174.8M325.7,167.8 334.4,164.3 342.3,166.1 337.9,169.6 329.2,170.4 325.7,167.8M303.0,178.3 313.5,176.5 325.7,180.0 337.9,179.2 343.2,173.1 353.7,174.8 357.2,178.3 346.7,180.9 334.4,183.5 324.0,182.7 313.5,184.4 303.0,187.0M303.0,191.4 313.5,193.1 322.2,196.6 331.8,196.6 324.0,199.3 313.5,198.4 303.0,194.9M320.5,187.9 332.7,186.2 341.4,187.9 346.7,191.4 350.2,186.2 358.9,183.5 362.4,189.7 365.9,194.9 374.6,197.5 369.4,201.0M356.3,164.3 365.9,162.6 378.1,165.2 379.9,168.7 369.4,168.7 358.9,166.9 356.3,164.3M366.8,174.8 376.4,173.1 385.1,173.1 386.9,178.3 378.1,180.0 369.4,178.3 366.8,174.8M367.6,187.9 376.4,184.4 386.9,184.4 389.5,189.7 383.4,193.1 374.6,192.3 367.6,187.9M388.6,160.0 397.3,155.6 411.3,153.8 425.3,151.2 441.0,149.5 460.2,148.1 486.4,148.1 509.1,148.6 522.3,149.5 528.0,152.1M528.0,154.7 512.6,155.6 498.7,154.7 505.7,158.2 495.2,160.8 484.7,162.6 470.7,163.4 463.7,163.4 470.7,166.1 460.2,169.6 453.2,170.4 461.1,173.1 453.2,174.8 442.8,173.9 432.3,173.9 421.8,173.1 414.8,173.1 425.3,176.5 435.8,177.4 448.0,177.8 453.2,180.0 448.0,182.7 437.5,182.7 428.8,181.8 421.8,180.9 414.8,182.7 407.8,185.3 400.8,184.4 393.8,182.7 390.4,178.3 397.3,175.7 404.3,173.9 400.8,169.6 393.8,166.9 386.9,164.3 381.6,164.3 388.6,160.0M409.6,153.8 421.8,156.5 435.8,158.2 446.3,158.6 435.8,160.8 428.8,164.3 421.8,163.4 411.3,164.3 400.8,163.4 393.8,160.0 400.8,157.3 409.6,153.8M414.8,167.8 425.3,168.7 434.9,169.0 425.3,171.3 416.6,170.4 414.8,167.8M477.7,167.8 488.2,166.1 500.4,164.3 509.1,161.7 500.4,166.9 503.0,169.6 493.4,169.6 484.7,171.3 477.7,167.8M482.9,172.5 495.2,175.7 512.6,175.3 528.0,176.5M432.3,217.6 442.8,219.4 451.5,221.1 442.8,224.6 435.8,222.8 432.3,217.6M451.5,225.5 456.7,227.2 454.1,229.8 450.6,227.7 451.5,225.5M462.0,205.4 470.7,206.2 471.6,208.9 463.7,208.9 462.0,205.4M528.0,270.9 512.6,271.8 502.2,272.6 493.4,277.0 485.6,284.0 495.2,280.5 507.4,277.0 517.9,276.1 528.0,274.4M509.1,280.5 510.9,285.7 521.4,284.0 528.0,283.1M528.0,287.5 512.6,289.2 500.4,291.9 491.7,296.0M528.0,175.7 533.2,177.4 538.5,181.8 545.5,187.9 542.8,191.4 550.7,192.3 559.4,194.9 562.9,198.7 560.3,202.8 553.3,204.0 547.2,201.0 546.3,196.6 553.3,204.5 549.8,208.9 551.6,213.2 556.0,216.7 557.7,221.1 562.9,224.6 566.4,229.8 571.7,232.5 578.7,232.5 583.9,235.9 589.1,235.9 591.8,232.5 594.4,228.1 591.8,225.5 597.9,222.8 599.6,218.5 603.1,214.5 611.9,213.2 622.3,210.6 627.6,207.1 632.8,204.5 641.6,204.0 650.3,201.9 659.0,199.3 667.8,197.5 671.3,193.1 666.0,190.5 653.8,197.5 657.3,192.3 660.8,187.9 667.8,185.3 673.9,184.4 680.0,181.8 679.1,177.4 671.3,173.9 676.5,173.1 683.5,171.3 678.2,168.7 680.0,164.3 678.2,160.0 685.2,160.0 695.7,158.2 707.9,156.5 706.2,153.8 694.0,153.0 680.0,153.8 666.0,155.6 650.3,153.3 632.8,152.6 646.8,151.6 660.8,151.2 675.6,149.5 664.3,147.7 646.8,146.0 625.8,145.6 606.6,146.0 590.9,147.7 578.7,149.5 585.7,153.8 575.2,152.6 564.7,150.9 554.2,153.3 542.0,151.6 528.0,152.1M660.8,214.1 667.8,210.6 676.5,213.2 685.2,211.5 696.6,210.6 702.7,215.9 695.7,220.2 683.5,222.8 673.0,222.0 666.0,221.1 662.5,217.6 660.8,214.1M670.4,214.1 673.0,217.6M528.0,251.7 535.0,253.4 540.2,257.8 544.6,262.2 545.5,267.4 538.5,268.3 531.5,270.9 528.0,271.8M536.7,270.0 533.2,275.3 529.7,280.5 538.5,281.4 545.5,282.2 543.7,284.9 550.7,285.7 555.1,283.1 554.2,277.0 549.0,274.4 543.7,275.3 538.5,273.5 536.7,270.0M728.9,245.6 732.4,241.2 737.6,240.0 742.0,241.2 737.6,243.8 745.5,243.8 744.6,247.3 740.3,249.1 746.4,252.5 753.0,257.8M715.8,256.9 721.9,253.4 728.9,252.5 730.7,257.8 727.2,263.9 720.2,266.5 714.1,266.5 717.6,262.2 715.8,256.9M732.4,250.8 735.9,254.3 741.1,256.0 737.6,259.5 734.1,262.2 735.9,267.4 740.3,270.0 732.4,271.8 730.7,273.5 737.6,274.4 746.4,273.5 753.0,272.6M735.0,277.9 737.6,280.5 744.6,283.1 748.1,287.5 747.3,296.0M790.6,160.8 803.7,159.1 817.6,158.2 831.6,157.3 847.3,158.2 856.1,160.0 850.8,163.1 836.9,164.3 845.6,166.9 844.7,170.4 831.6,170.4 828.1,167.8 822.9,166.9 818.5,171.3 812.4,173.9 805.4,172.2 796.7,166.9 790.6,160.8M920.7,157.3 934.7,156.1 946.9,157.3 945.2,160.0 931.2,160.8 921.6,160.0 920.7,157.3M753.0,274.4 756.5,273.5 758.2,270.0 763.5,268.3 767.8,265.6 770.5,261.3 775.7,259.5 782.7,260.4 787.1,257.8 788.8,252.5 793.2,252.5 787.9,245.6 783.6,245.6 782.7,250.8 787.1,254.3 792.3,258.7 798.4,256.9 805.4,259.5 813.3,256.0 821.1,255.2 826.4,256.9 832.5,252.5 830.7,248.2 835.1,243.8 838.6,245.6 843.0,246.4 843.8,241.2 839.5,237.7 845.6,238.6 856.1,238.6 863.1,235.4 859.6,233.0 850.8,233.3 842.1,235.1 835.1,233.3 831.6,229.8 832.5,225.5 836.9,221.1 843.8,218.5 849.1,215.9 843.8,212.4 836.9,213.2 831.6,215.9 833.4,219.4 828.1,221.1 820.3,224.6 816.8,229.0 819.4,231.6 823.8,234.2 822.0,237.7 815.9,239.4 815.0,243.8 813.3,249.1 807.2,249.9 801.9,251.7 799.3,247.3 795.8,241.2 792.3,236.8 787.9,239.4 781.0,242.9 774.0,241.2 771.3,235.1 770.5,228.1 775.7,223.7 786.2,220.2 796.7,214.1 807.2,206.2 817.6,201.0 828.1,197.0 838.6,195.8 843.8,193.1 857.8,192.8 866.6,194.9 870.1,198.4 875.3,199.3 885.8,200.1 896.3,202.8 906.7,206.2 907.6,209.7 899.8,211.5 889.3,210.3 877.0,209.7 882.3,213.2 884.0,218.5 891.0,221.1 892.8,216.7 901.5,217.6 905.0,214.1 910.2,211.5 917.2,212.4 918.1,207.1 914.6,202.8 926.0,203.6 929.5,208.9 934.7,206.2 945.2,203.6 955.7,201.9 962.6,203.6 971.4,202.8 978.0,201.0M978.0,173.9 969.6,175.7 960.9,178.3 953.9,183.5 946.9,187.9 945.2,192.3 952.2,194.0 962.6,195.8 969.6,194.9 962.6,191.4 960.0,188.8 966.1,183.5 973.1,180.0 978.0,178.8M753.0,257.8 755.6,262.2 760.0,263.0 758.2,270.0M797.5,296.0 798.4,290.1 802.8,288.4 808.9,291.9 811.5,296.0M779.2,296.0 786.2,293.6 790.6,296.0M858.7,296.0 861.3,290.1 868.3,284.9 873.5,285.7 878.8,291.0 883.2,290.1 884.0,286.6 892.8,284.0 900.6,283.1 896.3,286.6 887.5,287.5 891.0,291.0 898.0,294.5 900.6,296.0M927.7,296.0 929.5,291.0 936.4,285.7 945.2,283.1 953.0,284.9 952.2,290.1 943.4,291.9 939.9,296.0M978.0,178.3 988.5,174.8 1000.7,172.2 1011.2,173.1 1007.7,175.7 995.5,177.1 985.0,178.8 978.0,180.0M978.0,199.3 985.0,198.4 993.7,200.1 1002.5,202.8 1010.3,204.5 1012.1,201.9 1004.2,199.3 1002.5,194.9 1007.7,191.4 1012.1,187.0 1019.9,186.2 1026.0,187.9 1023.4,192.3 1026.9,196.6 1025.2,201.9 1032.2,202.8 1033.0,207.1 1025.2,211.5 1019.9,212.4 1025.2,208.9 1028.7,205.4 1030.4,200.1 1032.2,193.1 1039.1,193.1 1033.9,187.9 1044.4,188.8 1054.9,189.7 1058.4,191.4 1054.9,184.4 1065.4,183.5 1077.6,183.5 1075.8,180.0 1086.3,177.8 1100.3,175.7 1114.3,175.3 1126.5,173.9 1131.7,173.1 1128.2,167.8 1135.2,166.1 1145.7,165.2 1148.3,167.8 1142.2,169.6 1152.7,172.2 1154.5,173.9 1166.7,173.1 1177.2,173.9 1180.7,176.5 1178.9,179.2 1168.4,180.9 1163.2,182.7 1173.7,183.5 1178.9,185.3 1187.6,183.5 1198.1,184.4 1203.0,186.2M1093.3,159.1 1102.0,155.6 1112.5,154.7 1121.3,157.3 1128.2,160.8 1126.5,164.3 1117.8,165.2 1107.3,164.3 1100.3,161.7 1093.3,159.1M1185.0,183.5 1197.2,183.5 1199.0,186.2 1214.7,186.5 1215.6,183.5 1228.7,184.4 1235.7,187.0 1234.8,190.5 1244.4,194.0 1248.8,190.5 1256.6,192.3 1267.1,191.4 1277.6,192.3 1275.8,187.9 1282.8,187.0 1296.8,187.9 1312.5,188.8 1319.5,192.3 1326.5,194.0 1338.7,193.1 1349.2,194.0 1352.7,198.4 1363.2,199.3 1373.7,199.3 1382.4,199.3 1388.5,201.9 1393.8,201.0 1391.1,197.5 1401.6,197.5 1408.6,198.0M1265.4,177.4 1270.6,174.8 1282.8,173.9 1293.3,174.8 1296.8,177.4 1289.8,180.0 1275.8,180.6 1267.1,179.2 1265.4,177.4M1300.3,177.8 1310.8,177.1 1318.6,178.8 1310.8,180.6 1301.2,179.5 1300.3,177.8M1277.6,183.5 1291.6,183.5M1258.4,255.2 1272.4,247.3 1285.5,238.9 1298.6,237.7 1310.8,238.2 1315.2,236.5 1320.4,236.8 1319.5,239.4 1331.8,238.9 1333.5,235.1 1340.5,229.8 1351.0,229.0 1353.6,233.3 1359.7,229.8 1364.9,226.3 1370.2,226.3 1366.7,230.7 1356.2,236.8 1345.7,242.9 1338.7,245.6 1335.2,252.5 1337.0,259.5 1339.6,269.1 1346.6,265.6 1348.3,262.2 1353.6,260.4 1355.3,256.0 1361.5,253.4 1363.2,249.1 1364.9,244.7 1359.7,242.1 1364.9,238.6 1366.7,235.9 1375.4,235.9 1385.9,233.3 1391.1,235.9 1399.9,230.7 1408.6,228.1M1258.4,255.2 1265.4,255.2 1268.0,258.7 1274.1,256.9 1280.2,259.5 1282.8,263.0 1279.3,270.0 1278.5,277.0 1272.4,284.0 1263.6,291.0 1258.4,296.0M1299.4,296.0 1298.6,293.6 1289.8,292.7 1287.2,289.2 1291.6,286.6 1288.1,282.2 1289.8,277.0 1295.9,276.1 1294.2,272.6 1290.7,264.8 1288.9,256.9 1285.5,256.9 1284.6,264.8 1284.2,275.3 1284.6,284.0 1283.7,296.0M303.0,330.9 310.0,333.6 314.4,339.7 318.7,348.4 321.3,350.2 320.5,343.2 324.0,340.5 329.2,343.2 331.8,350.2 337.1,356.3 342.3,360.6 340.6,365.0 344.9,365.9 351.0,371.1 356.3,376.4 358.0,381.6 355.4,385.1 360.7,389.5 367.6,393.0 376.4,396.5 385.1,399.9 392.1,401.7 397.3,399.9 402.6,402.6 409.6,407.8 416.6,409.6 423.5,411.3 428.8,416.5 432.3,422.7 437.5,426.2 442.8,428.8 448.0,431.4 453.2,432.3 452.4,427.0 456.7,426.2 460.2,430.5 462.0,435.8 462.9,444.5 458.5,451.5 453.2,457.6 451.5,460.0M321.3,350.2 320.5,356.3 327.5,359.8 332.7,365.9 337.9,370.2 341.4,373.7 342.3,371.1 337.9,365.9 332.7,358.9 329.2,353.7 325.7,348.4 323.1,344.0M528.0,296.0 512.6,297.4 505.7,296.9 491.7,299.5 489.9,303.9 477.7,305.6 472.5,310.0 465.5,315.2 469.0,322.2 468.1,327.4 460.2,330.9 453.2,336.2 448.0,340.5 446.3,345.8 448.9,351.9 451.5,357.1 452.4,363.3 449.8,365.9 446.3,363.3 442.8,357.1 441.9,351.9 437.5,347.5 432.3,348.4 425.3,346.7 418.3,347.5 416.6,351.0 407.8,349.3 399.1,349.3 392.1,352.8 387.7,358.0 386.9,365.9 385.1,372.9 386.9,379.9 390.4,386.0 398.2,391.7 406.1,390.3 412.2,388.6 413.9,382.5 418.3,379.9 427.0,379.9 425.3,385.1 423.5,390.3 421.8,395.6 419.2,399.9 425.3,400.8 434.0,400.5 440.1,403.4 441.0,409.6 438.4,414.8 439.3,420.9 444.5,425.3 449.8,426.2 456.7,425.3 463.7,427.9 469.0,421.8 470.7,418.3 479.5,416.5 484.7,413.9 491.7,415.7 496.9,419.2 503.9,420.0 509.1,421.8 516.1,420.0 523.1,420.0 526.6,424.4 528.0,427.9M433.2,378.1 439.3,374.6 448.0,373.7 456.7,376.4 463.7,379.9 472.5,382.5 476.0,385.1 469.0,386.0 460.2,385.1 455.0,380.7 446.3,377.2 439.3,378.1 433.2,378.1M456.7,359.8 463.7,359.8 462.9,363.3 458.5,362.4M458.5,366.8 462.0,367.6 462.0,372.0 459.4,370.2M472.5,390.3 477.7,386.8 486.4,386.0 495.2,388.6 496.9,392.1 488.2,392.1 484.7,394.7 479.5,392.1 472.5,393.0 472.5,390.3M458.5,391.2 465.5,390.3 468.1,393.0 462.0,393.8 458.5,391.2M499.5,391.2 506.5,391.2 507.4,393.0 500.4,393.3 499.5,391.2M482.1,420.9 485.6,421.8 484.7,426.2 482.1,424.4M152.8,377.1 155.2,377.8M159.2,379.5 163.6,380.6 167.4,382.0M166.2,383.4 171.5,384.2 173.7,386.8 168.8,390.3 166.4,387.7 166.2,383.4M287.6,296.0 285.9,300.4 287.6,304.7 286.8,309.1 290.3,315.2 294.6,319.6 298.1,325.7 303.0,330.1M753.0,296.9 737.6,297.7 718.4,297.7 720.2,304.7 717.6,313.5 720.2,320.5 728.9,322.2 732.4,325.7 742.9,326.6 753.0,324.0M730.7,323.1 737.6,322.2 746.4,319.6 753.0,311.7M730.7,324.8 727.2,330.9 720.2,335.3 716.7,341.4 717.6,347.5 711.4,351.9 704.5,355.4 699.2,361.5 696.6,367.6 691.3,373.7 688.7,380.7 692.2,386.8 691.3,395.6 688.7,402.6 686.1,405.2 689.6,408.7 689.6,414.8 695.7,419.2 701.8,425.3 704.5,431.4 711.4,435.8 718.4,441.0 723.7,444.5 730.7,441.9 737.6,440.7 746.4,441.9 753.0,439.3M528.0,427.9 532.4,430.5 536.7,435.8 542.0,437.5 549.0,437.2 556.0,440.1 561.2,445.4 563.8,451.5 565.6,455.9 562.9,460.0M753.0,324.0 761.7,322.2 772.2,322.2 781.0,320.5 789.7,319.6 794.9,322.2 794.1,328.3 790.6,331.8 794.9,335.3 803.7,337.1 810.7,340.5 817.6,344.0 824.6,346.7 828.1,343.2 827.2,338.8 833.4,337.1 840.4,338.8 847.3,341.4 856.1,342.3 861.3,344.0 868.3,342.3 875.3,342.8 882.3,343.2 884.9,337.9 887.5,330.9 888.4,323.1 882.3,322.2 873.5,324.0 866.6,322.2 859.6,323.1 854.3,318.7 850.8,313.5 854.3,309.1 861.3,308.2 866.6,304.7 875.3,303.0 885.8,302.1 892.8,304.7 901.5,306.5 908.5,304.7 907.6,300.4 903.2,296.0M873.5,327.4 878.8,326.0 883.2,327.4 877.9,330.4 873.5,329.2 873.5,327.4M854.3,296.0 857.8,301.2 856.1,305.6 852.6,308.2 847.3,306.5 840.4,307.4 836.9,310.0 839.5,317.0 838.6,322.2 842.1,326.6 850.8,328.3 847.3,329.2 840.4,327.4 836.9,324.0 834.2,318.7 829.9,312.6 826.4,307.4 822.9,303.9 815.9,301.2 810.7,296.9 808.9,296.0M793.2,296.0 798.4,299.5 805.4,303.9 812.4,307.4 819.4,310.0 822.9,312.6 819.4,315.2 814.1,313.5 810.7,316.1M798.4,317.0 805.4,316.1 811.5,315.2 810.7,320.5 807.2,323.1 799.3,319.6 798.4,317.0M810.7,313.5 807.2,309.1 800.2,304.7 793.2,301.2 787.9,297.7 786.2,296.0M783.6,301.2 787.9,300.4 789.7,306.5 788.8,313.5 784.4,314.3 782.7,308.2 783.6,301.2M753.0,306.5 758.2,303.9 763.5,301.2 765.2,297.7 772.2,296.0M873.5,348.4 877.0,355.4 882.3,364.1 886.6,371.1 891.0,378.1 892.8,386.8 898.0,393.8 901.5,400.8 906.7,406.1 912.0,411.3 914.6,415.7 912.0,416.5 916.3,420.9 926.0,419.2 936.4,416.5 945.2,414.8 943.4,421.8 940.8,428.8 936.4,437.5 929.5,446.2 920.7,453.2 913.7,458.5 911.1,460.0M881.4,352.8 883.7,349.3 884.9,351.9 887.5,360.6 894.5,369.4 898.9,376.4 900.6,383.4 906.7,390.3 912.0,397.3 913.7,404.3 915.5,411.3 927.7,407.8 938.2,404.3 948.7,399.1 959.1,394.7 967.9,388.6 971.4,382.5 976.6,378.1 978.0,375.0M978.0,363.3 967.0,360.6 962.6,358.0 955.7,358.9 948.7,356.3 944.3,351.9 941.7,347.5 936.4,346.7 932.1,347.5 934.7,353.7 939.1,359.8 942.6,363.3 945.2,365.0 946.9,369.4 952.2,369.7 956.5,366.8 960.9,362.4 964.4,359.8 967.0,363.3 971.4,368.5 975.7,372.9 978.0,375.0M929.5,296.0 932.9,301.2 938.2,305.6 941.7,310.8 936.4,313.5 935.6,317.8 939.9,321.3 946.9,323.1 953.9,322.2 956.5,317.0 953.9,312.6 950.4,309.1 953.9,306.5 958.3,305.6 955.7,301.2 950.4,298.6 946.9,296.0M753.0,438.4 760.0,436.6 769.6,436.6 774.0,442.8 779.2,443.6 784.4,441.9 788.8,446.2 789.7,451.5 787.9,460.0M978.0,365.9 988.5,365.5 1000.7,364.5 1006.0,370.2 1011.2,373.7 1013.8,379.0 1019.9,381.6 1026.0,380.7 1026.9,390.3 1029.5,399.1 1033.0,407.8 1036.5,416.5 1040.0,425.3 1043.5,430.5 1047.9,426.2 1051.4,421.8 1052.2,414.8 1054.0,407.8 1053.1,401.7 1058.4,399.1 1065.4,393.8 1072.3,387.7 1079.3,383.4 1079.3,379.9 1086.3,378.1 1093.3,375.5 1096.8,374.6 1100.3,379.9 1103.8,386.8 1107.3,393.8 1106.4,399.9 1110.8,399.1 1116.9,396.5 1119.5,402.6 1121.3,411.3 1123.0,418.3 1122.1,425.3 1120.4,430.5 1124.8,428.8 1126.5,421.8 1125.6,414.8 1128.2,410.4 1133.5,411.3 1138.7,415.7 1142.2,420.9 1148.3,423.5 1146.6,427.9 1152.7,423.5 1159.7,419.2 1163.2,414.8 1164.1,407.8 1161.4,400.8 1156.2,395.6 1151.8,391.2 1149.2,386.8 1152.7,381.6 1159.7,379.0 1166.7,381.6 1169.3,386.8 1164.1,391.2 1159.7,390.3 1159.7,386.8 1163.2,385.1M1166.7,381.6 1173.7,379.9 1182.4,377.2 1191.1,373.7 1198.1,368.5 1203.0,362.4M1051.4,421.8 1055.7,424.4 1059.2,430.5 1058.4,435.8 1054.0,438.4 1051.4,434.9 1050.5,428.8 1051.4,421.8M1122.1,425.3 1121.3,431.4 1126.5,434.0 1130.0,441.0 1133.5,448.0 1138.7,453.2 1143.1,460.0M1124.8,428.8 1130.0,434.0 1135.2,439.3 1138.7,444.5 1137.9,449.7 1141.3,455.0 1144.0,460.0M1138.7,460.0 1135.2,455.9 1130.0,449.7 1123.0,444.5 1116.0,440.1 1109.0,439.3 1110.8,443.6 1117.8,449.7 1123.0,455.9 1125.6,460.0M1203.0,416.5 1196.4,421.8 1191.1,428.8M1203.0,435.8 1192.9,434.9 1187.6,439.3 1178.9,445.4 1170.2,450.6 1163.2,453.2 1160.6,460.0M1191.1,435.8 1196.4,441.0 1193.8,446.2 1198.1,451.5 1196.4,460.0M1203.0,309.1 1196.4,311.7 1192.9,315.2 1198.1,319.6 1203.0,321.3M1203.0,324.8 1199.0,328.3 1203.0,331.8M978.0,375.5 978.9,377.2M1185.0,375.5 1192.0,372.0 1199.0,365.9 1204.2,358.9 1208.6,351.9 1210.3,346.7 1206.8,344.9 1211.2,342.3 1207.7,337.1 1202.5,332.7 1199.8,327.4 1204.2,324.0 1211.2,321.3 1209.5,317.8 1201.6,318.7 1195.5,317.0 1192.9,313.5 1199.0,310.0 1206.0,306.5 1211.2,308.2 1213.8,312.6 1219.1,310.8 1223.4,314.3 1224.3,320.5 1226.9,326.6 1228.7,330.9 1233.9,330.1 1237.4,326.6 1238.3,321.3 1235.7,316.1 1230.4,312.6 1232.2,309.1 1239.2,305.6 1240.9,301.2 1249.6,298.6 1258.4,296.9 1261.9,296.0M1286.3,296.0 1280.2,298.6 1276.7,303.9 1278.5,310.0 1275.8,315.2 1268.9,320.5 1263.6,321.3 1258.4,326.6 1249.6,327.4 1242.7,330.9 1237.4,336.2 1239.2,341.4 1242.7,344.0 1246.1,340.5 1245.3,337.1 1251.4,336.2 1256.6,332.7 1261.9,333.6 1265.4,330.1 1272.4,329.2 1279.3,327.4 1280.2,324.0 1283.7,317.0 1285.5,310.8 1282.0,303.9 1284.6,301.2 1289.8,303.0 1293.3,300.4 1298.6,297.7M1204.2,365.0 1209.5,365.0 1210.3,369.4 1207.7,375.5 1205.1,378.1 1202.5,372.9 1204.2,365.0M1203.3,391.2 1211.2,390.3 1212.1,395.6 1209.5,400.8 1213.0,405.2 1219.9,407.8 1224.3,413.1 1225.2,418.3 1219.9,419.2 1217.3,416.5 1211.2,414.8 1206.8,411.3 1203.3,407.8 1201.6,400.8 1203.3,391.2M1211.2,416.5 1215.6,421.8 1222.6,423.5 1226.9,427.0 1227.8,434.0 1225.2,439.3 1220.8,440.1 1217.3,435.8 1219.9,431.4 1222.6,430.5 1215.6,430.5 1211.2,434.0 1209.5,432.3 1213.8,427.9 1211.2,421.8 1211.2,416.5M1191.1,428.8 1201.6,417.4M1185.0,435.8 1191.1,434.0 1193.7,439.3 1199.8,440.1 1195.5,446.2 1192.9,449.7 1199.0,452.4 1197.2,456.7 1204.2,455.0 1213.0,455.9 1222.6,453.2M1229.5,452.4 1235.7,453.2 1234.8,460.0M452.4,460.0 448.9,465.2 453.3,470.5 448.0,476.6 447.2,482.7 453.3,488.0 457.6,494.9 462.0,503.7 466.4,510.7 467.2,515.9 475.1,520.3 483.8,525.5 489.1,529.9 490.0,540.4 488.2,552.6 487.3,563.1 484.7,570.1 484.7,578.8 483.8,585.8 480.4,592.8 476.9,599.8 477.7,605.0 476.0,612.0 474.2,619.0 476.9,624.0M561.6,460.0 569.5,461.7 571.2,464.4 578.2,463.5 585.2,467.9 586.9,470.5 593.9,469.6 602.6,470.5 609.6,475.7 618.0,479.2M618.0,497.6 613.1,501.9 607.9,508.9 607.0,517.7 605.3,528.1 601.8,535.1 598.3,542.1 593.9,546.5 585.2,547.4 576.4,550.8 571.2,556.1 571.2,563.1 569.5,568.3 564.2,573.6 559.0,579.7 553.7,584.9 548.5,590.2 541.5,591.0 532.8,589.3 538.0,593.6 540.6,598.0 536.3,603.3 529.3,605.0 519.7,605.9 518.8,612.0 515.3,614.6 509.2,613.7 508.3,617.2 513.5,618.1 511.8,621.6 507.4,624.0M618.0,479.2 620.5,479.6 623.1,487.1 620.5,494.1 618.0,497.6M788.2,460.0 784.7,463.5 788.2,468.7 795.2,475.7 799.5,484.5 802.2,492.3 801.3,494.9 804.8,501.9 800.4,508.9 796.9,515.9 796.0,524.6 799.5,529.9 803.0,536.9 806.5,543.9 807.4,552.6 810.0,563.1 814.4,568.3 818.8,575.3 821.4,580.5 820.5,585.8 824.0,590.2 828.0,591.0M813.0,564.8 817.4,571.8 820.9,578.8 820.0,584.0 822.6,589.3 827.8,591.0 835.7,588.9 844.4,588.4 851.4,586.7 858.4,582.3 863.7,577.1 868.9,570.9 874.1,565.7 875.0,559.6 874.1,556.1 881.1,552.6 885.5,550.0 886.4,543.9 884.6,539.5 882.0,535.1 886.4,530.8 891.6,526.4 898.6,523.8 903.8,520.3 906.5,515.9 905.6,507.2 904.7,499.3 900.4,493.2 899.5,486.2 897.7,481.8 899.5,476.6 903.0,469.6 909.1,464.4 915.2,460.0M937.0,504.5 940.5,508.0 942.3,515.9 939.7,521.1 937.0,529.9 933.5,540.4 930.1,551.7 923.1,555.7 917.8,553.5 915.2,546.5 914.3,541.2 917.8,536.0 918.7,529.9 916.9,525.5 918.7,521.1 924.8,519.4 931.8,515.0 932.7,510.7 935.3,508.9 937.0,504.5M1123.6,460.0 1128.8,465.2 1134.1,472.2 1141.1,478.3 1147.2,483.6 1146.3,486.2 1153.3,488.0 1162.0,489.7 1167.3,490.6M1139.3,460.0 1141.1,463.5 1146.3,466.1 1149.8,470.5 1149.8,477.5 1148.9,481.8M1153.3,483.6 1163.8,484.5 1174.3,486.2 1184.8,489.7 1187.4,492.3 1177.8,493.2 1167.3,491.1 1158.5,488.8 1151.6,486.2M1190.0,493.2 1195.2,490.6 1201.3,492.3 1195.2,494.1 1190.9,494.1M1198.7,494.1 1205.7,492.3 1213.6,491.4 1214.5,494.1 1205.7,495.8 1200.5,496.7M1215.3,497.6 1221.4,494.1 1230.2,491.4 1231.0,494.1 1223.2,497.6 1216.2,499.3M1160.3,460.0 1162.9,465.2 1167.3,470.5 1176.0,472.2 1183.0,475.7 1188.2,473.1 1190.0,467.0 1193.5,462.6 1194.4,460.0M1198.7,460.0 1197.9,467.0 1199.6,472.2 1203.1,470.5 1202.2,477.5 1200.5,481.8 1205.7,481.0 1208.3,476.6 1212.7,479.2 1214.5,475.7 1211.0,470.5 1209.2,466.1 1212.7,462.6 1217.9,460.0M1204.0,463.5 1207.5,468.7 1205.7,474.0M1224.9,471.4 1231.9,470.5 1240.7,472.2 1244.1,474.8 1235.4,474.8 1226.7,474.0 1224.9,471.4M1241.5,462.6 1247.6,461.7 1254.6,464.4 1258.1,468.7 1263.0,469.6M1245.9,467.0 1252.9,470.5 1258.1,475.7 1263.0,477.5M1255.5,480.1 1258.1,482.7 1256.4,485.3M1263.0,503.7 1254.6,501.9 1247.6,501.9 1242.4,507.2 1238.9,514.2 1235.4,515.9 1230.2,511.5 1223.2,514.2 1217.9,519.4 1213.6,522.9 1211.0,528.1 1205.7,532.5 1195.2,536.0 1188.2,537.7 1180.4,542.1 1178.6,547.4 1177.8,552.6 1179.5,557.8 1180.4,563.1 1183.0,568.3 1185.6,575.3 1186.5,582.3 1183.9,587.5 1188.2,591.0 1195.2,591.9 1202.2,588.4 1211.0,586.7 1217.9,583.2 1226.7,580.5 1235.4,578.8 1244.1,577.9 1252.0,580.5 1257.3,584.9 1260.7,590.2 1263.0,591.0M1259.9,511.5 1259.0,516.8 1263.0,519.4M1262.9,503.7 1266.2,504.5 1265.4,510.7 1260.1,515.9 1267.1,520.3 1274.1,524.6 1279.3,527.3 1282.0,522.9 1282.8,515.9 1283.7,507.2 1286.3,501.1 1289.8,505.4 1291.6,511.5 1296.8,515.9 1298.6,522.9 1301.2,529.0 1307.3,535.1 1312.5,542.1 1317.8,545.6 1323.0,550.8 1327.4,557.8 1329.1,566.6 1327.4,575.3 1324.8,582.3 1320.4,589.3 1316.0,596.3 1314.3,601.5 1307.3,602.4 1301.2,605.9 1295.9,602.4 1289.8,605.0 1282.8,603.3 1277.6,599.8 1275.0,594.5 1271.5,590.2 1268.9,584.0 1264.5,588.4 1262.9,591.0M1294.2,612.9 1302.1,613.7 1309.9,612.9 1307.3,619.9 1303.8,624.0M1294.2,612.9 1297.7,619.0 1300.3,624.0M1242.7,462.6 1251.4,461.7 1256.6,463.5 1254.9,469.6 1258.4,473.1 1261.9,468.7 1268.9,466.1 1277.6,468.7 1288.1,472.2 1296.8,475.7 1302.1,480.1 1305.5,483.6 1312.5,481.8 1317.8,479.2 1323.0,480.1 1326.5,476.6 1323.0,471.4 1317.8,469.6M1305.5,483.6 1303.8,488.0 1307.3,491.4 1312.5,496.7 1318.6,499.3 1314.3,495.8 1309.0,491.4 1303.8,488.8 1296.8,488.0 1291.6,489.7 1288.1,494.1 1282.8,492.3 1275.8,490.6 1268.9,491.4 1270.6,486.2 1272.4,481.8 1267.1,478.3 1260.1,475.7 1254.9,474.0 1249.6,470.5 1246.1,467.0 1242.7,462.6M1331.8,479.2 1337.0,483.6 1344.0,487.1 1351.0,490.6 1358.0,494.9 1361.5,501.1 1357.1,499.3 1351.0,494.1 1342.2,489.7 1335.2,485.3 1331.8,479.2M1376.3,515.0 1379.8,516.8 1382.4,522.0 1378.9,521.1 1376.3,515.0M1366.7,535.1 1372.8,537.7 1379.8,543.0 1377.2,544.7 1370.2,541.2 1366.7,535.1M82.2,777.0 99.0,774.9 116.4,774.2 133.9,777.0 154.9,779.5 179.3,777.7 196.8,778.4 217.8,777.7 214.3,774.9 193.3,774.9 179.3,772.5 179.3,767.3 165.4,765.5 182.8,763.1 200.3,761.0 202.0,757.5 186.3,758.5 168.8,756.8 159.1,754.0 160.1,748.0 179.3,749.1 196.8,746.3 205.5,742.1 224.8,741.1 245.7,738.6 266.7,737.6 277.2,735.1 291.1,736.5 305.1,735.8 322.6,737.6 329.6,736.5 336.6,740.0 354.0,741.4 375.0,742.1 376.7,738.6 366.3,736.5 366.3,732.3 375.0,729.5 390.7,730.6 389.0,734.1 406.4,734.1 416.9,732.3 427.4,734.4 441.4,735.8 451.9,734.4 462.3,736.5 476.3,735.8 490.3,732.3 499.0,727.1 497.3,720.1 504.3,711.4 514.8,704.4 528.0,699.1M140.9,755.0 151.4,756.1 153.1,758.5 144.4,758.5 140.9,755.0M528.0,707.9 514.8,711.4 507.8,718.3 513.0,727.1 521.7,732.3 528.0,735.8M528.0,741.1 511.3,742.8 490.3,745.6 465.8,747.0 462.3,751.5 476.3,752.6 460.6,756.1 465.8,759.6 483.3,761.0 504.3,763.8 528.0,766.6M471.1,728.8 485.1,725.3 490.3,718.3 493.8,727.1 483.3,730.6 471.1,728.8M476.3,624.0 471.1,634.5 469.3,646.7 472.8,655.4 483.3,662.4 497.3,667.7 509.5,665.9 502.5,660.7 493.8,658.9 492.0,653.7 499.0,645.0 502.5,634.5 507.8,624.0M523.5,653.7 528.0,652.0M528.0,652.7 536.7,653.7 529.7,657.2M528.0,699.1 538.5,698.1 531.5,702.6M528.0,766.6 535.0,770.8 549.0,768.0 569.9,765.5 590.9,766.6 608.4,763.8 629.3,763.1 645.1,762.0 639.8,758.5 620.6,758.5 619.5,755.0 632.8,751.5 646.8,748.0 667.8,745.6 681.7,742.8 692.2,741.1 692.2,736.5 702.7,732.3 713.2,728.1 721.9,728.8 728.9,726.4 737.6,728.1 751.6,727.1 769.1,725.3 783.1,722.9 793.5,726.0 804.0,722.9 821.5,722.5 835.5,724.6 849.5,724.3 863.4,722.5 875.7,720.1 880.9,717.3 889.6,719.0 898.4,721.8 907.1,718.3 922.8,715.5 936.8,712.1 947.3,708.6 961.3,707.2 970.0,709.6 978.0,712.1M549.0,762.0 562.9,755.0 576.9,752.6 589.1,755.0 590.2,760.3 576.9,763.1 562.9,763.8 549.0,762.0M1009.9,644.1 1016.6,643.5 1017.6,646.8 1010.9,647.5 1009.9,644.1M978.0,713.9 991.4,712.9 998.1,714.6 1011.5,714.6 1013.2,721.3 1007.5,723.9 1009.9,729.7 1018.2,729.7 1028.3,722.9 1041.7,721.3 1048.4,716.2 1061.9,712.9 1078.6,711.9 1082.0,708.5 1087.0,711.9 1102.1,711.9 1112.2,712.9 1125.6,711.9 1138.3,705.5 1149.1,710.5 1159.1,710.5 1170.9,707.9 1179.2,706.8 1187.6,710.2 1201.0,711.9 1212.8,709.5 1226.2,709.9 1243.0,709.2 1256.4,708.5 1259.7,705.2 1264.8,710.5 1279.9,710.5 1298.3,710.5 1301.7,713.9 1316.8,717.2 1330.2,717.9 1340.2,720.6 1350.3,721.3 1360.4,723.9 1377.1,725.6 1390.5,728.0 1393.9,731.3 1385.5,736.4 1375.5,739.7 1368.7,744.7 1367.1,750.8 1378.8,754.8 1363.7,756.5 1355.3,761.5 1360.4,766.5 1373.8,769.9 1390.5,773.3 1409.0,775.6M1298.3,624.0 1303.3,625.0 1308.4,624.0M1375.8,631.8 1379.7,627.3 1384.1,624.8 1390.5,622.2 1394.3,619.0 1396.8,614.6 1399.4,612.0 1401.9,611.4 1403.9,612.7 1406.4,613.3 1405.1,616.5 1403.2,620.3 1402.6,624.8 1400.0,626.0 1396.2,626.7 1394.9,630.5 1391.8,633.7 1387.3,635.6 1382.8,635.3 1378.4,634.0 1375.8,631.8M1407.7,591.6 1404.5,591.0 1401.3,588.5 1398.8,589.1 1400.7,592.9 1403.9,597.4 1405.8,600.6 1406.4,604.4 1403.9,606.9 1404.5,608.8 1407.0,609.5M772.0,296.0 779.0,296.0"/>
</g>
</svg>
<rect x="78.5" y="132.5" width="1331.0" height="656.0" fill="none" stroke="#000" stroke-width="3"/>
<rect x="78.50" y="831.5" width="1331.00" height="66.0" fill="#0000c8"/><rect x="244.88" y="831.5" width="1164.62" height="66.0" fill="#0040ff"/><rect x="411.25" y="831.5" width="998.25" height="66.0" fill="#00c0ff"/><rect x="577.62" y="831.5" width="831.88" height="66.0" fill="#49ffad"/><rect x="744.00" y="831.5" width="665.50" height="66.0" fill="#b1ff46"/><rect x="910.38" y="831.5" width="499.12" height="66.0" fill="#ffd000"/><rect x="1076.75" y="831.5" width="332.75" height="66.0" fill="#ff5900"/><rect x="1243.12" y="831.5" width="166.38" height="66.0" fill="#c40000"/>
<rect x="78.5" y="831.5" width="1331.0" height="66.0" fill="none" stroke="#000" stroke-width="3"/>
<rect x="77.0" y="897.5" width="3" height="14.6" fill="#000"/><text x="45.4" y="959" font-size="42.4" textLength="66.2" lengthAdjust="spacingAndGlyphs">0.0</text>
<rect x="243.4" y="897.5" width="3" height="14.6" fill="#000"/><text x="211.8" y="959" font-size="42.4" textLength="66.2" lengthAdjust="spacingAndGlyphs">2.5</text>
<rect x="409.8" y="897.5" width="3" height="14.6" fill="#000"/><text x="378.1" y="959" font-size="42.4" textLength="66.2" lengthAdjust="spacingAndGlyphs">5.0</text>
<rect x="576.1" y="897.5" width="3" height="14.6" fill="#000"/><text x="544.5" y="959" font-size="42.4" textLength="66.2" lengthAdjust="spacingAndGlyphs">7.5</text>
<rect x="742.5" y="897.5" width="3" height="14.6" fill="#000"/><text x="697.6" y="959" font-size="42.4" textLength="92.7" lengthAdjust="spacingAndGlyphs">10.0</text>
<rect x="908.9" y="897.5" width="3" height="14.6" fill="#000"/><text x="864.0" y="959" font-size="42.4" textLength="92.7" lengthAdjust="spacingAndGlyphs">12.5</text>
<rect x="1075.2" y="897.5" width="3" height="14.6" fill="#000"/><text x="1030.4" y="959" font-size="42.4" textLength="92.7" lengthAdjust="spacingAndGlyphs">15.0</text>
<rect x="1241.6" y="897.5" width="3" height="14.6" fill="#000"/><text x="1196.8" y="959" font-size="42.4" textLength="92.7" lengthAdjust="spacingAndGlyphs">17.5</text>
<rect x="1408.0" y="897.5" width="3" height="14.6" fill="#000"/><text x="1363.2" y="959" font-size="42.4" textLength="92.7" lengthAdjust="spacingAndGlyphs">20.0</text>
</g>
</svg>
</body></html>
